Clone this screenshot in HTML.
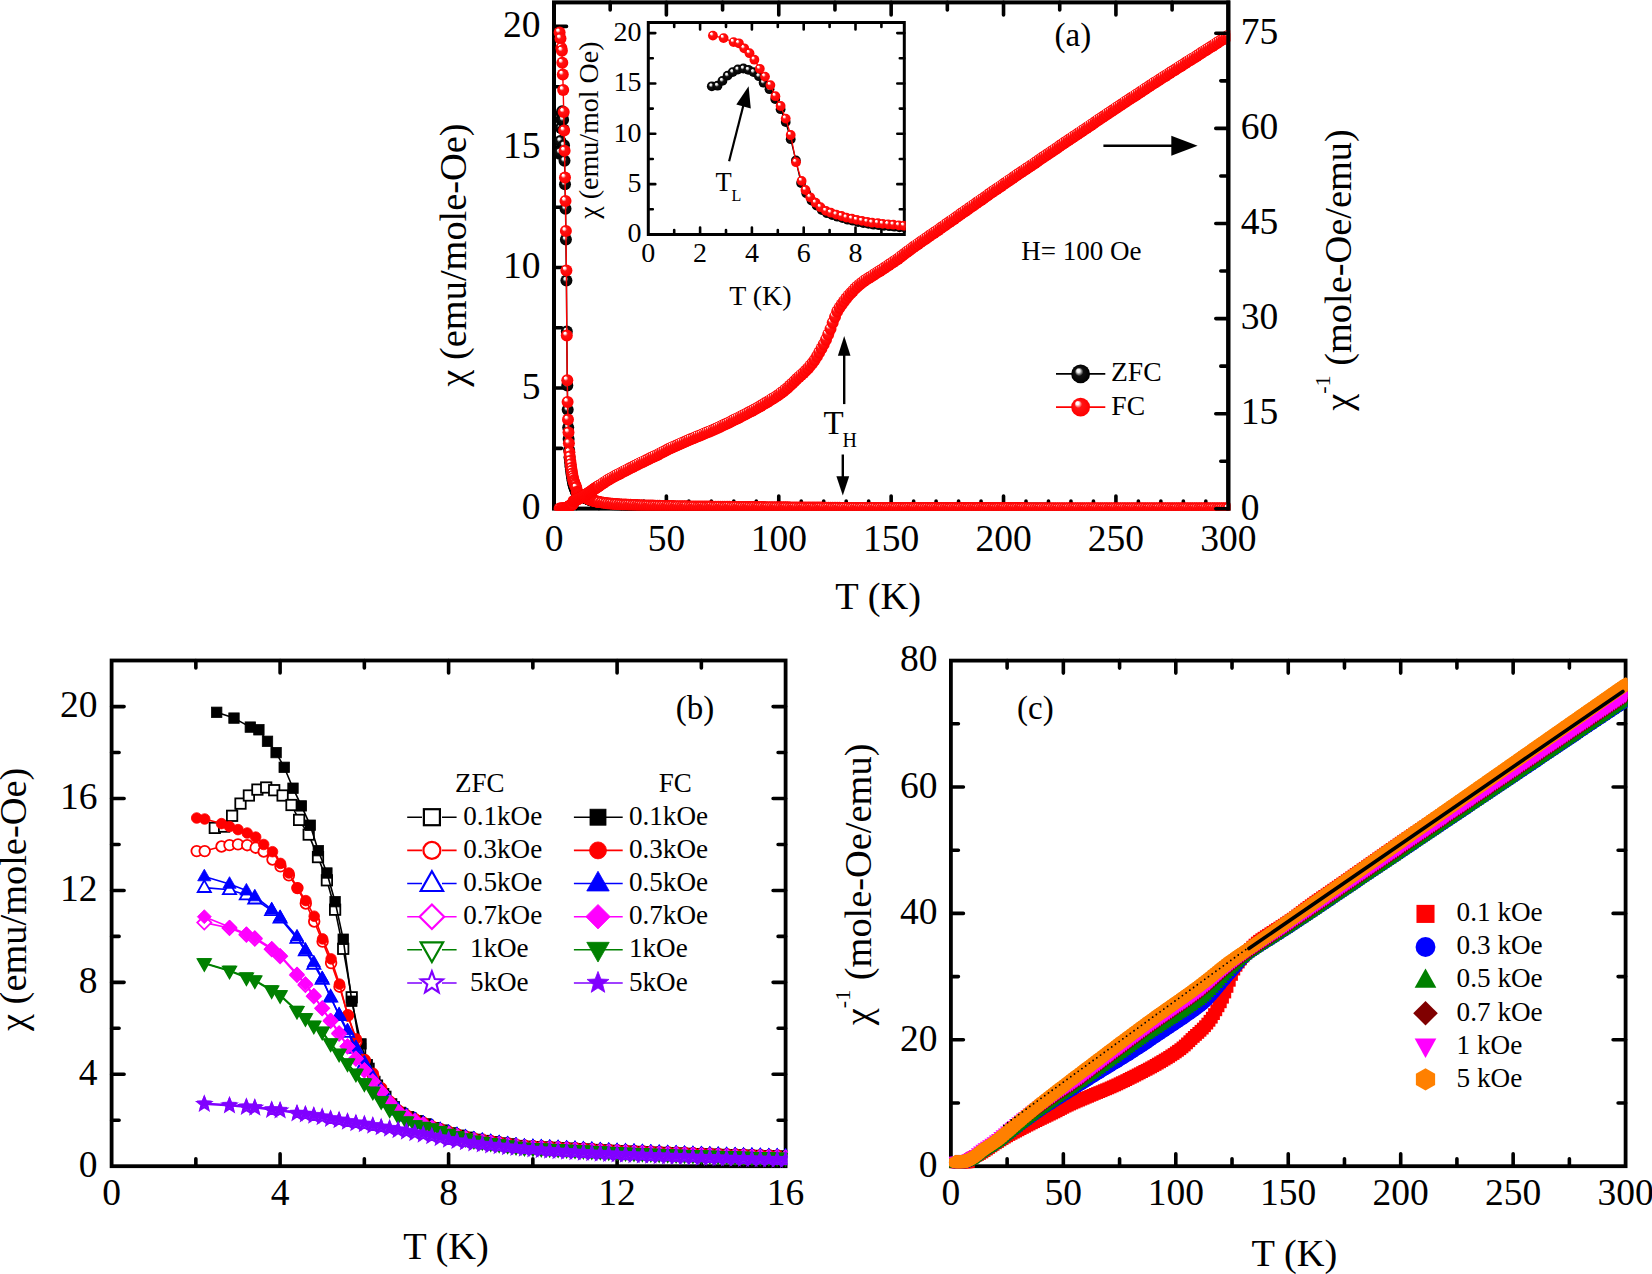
<!DOCTYPE html><html><head><meta charset="utf-8"><title>figure</title><style>html,body{margin:0;padding:0;background:#fff;}body{width:1652px;height:1274px;overflow:hidden;}</style></head><body><svg width="1652" height="1274" viewBox="0 0 1652 1274" style="display:block;font-family:'Liberation Serif','Times New Roman',serif"><defs><radialGradient id="gR" cx="0.5" cy="0.5" r="0.5" fx="0.3" fy="0.25"><stop offset="0" stop-color="#fff"/><stop offset="0.16" stop-color="#fff"/><stop offset="0.4" stop-color="#ff1414"/><stop offset="1" stop-color="#f00"/></radialGradient><radialGradient id="gD" cx="0.5" cy="0.5" r="0.5" fx="0.23" fy="0.19"><stop offset="0" stop-color="#fff"/><stop offset="0.15" stop-color="#fff"/><stop offset="0.42" stop-color="#ff1414"/><stop offset="1" stop-color="#f00"/></radialGradient><radialGradient id="gK" cx="0.5" cy="0.5" r="0.5" fx="0.36" fy="0.3"><stop offset="0" stop-color="#fff"/><stop offset="0.18" stop-color="#eee"/><stop offset="0.45" stop-color="#111"/><stop offset="1" stop-color="#000"/></radialGradient><circle id="sR" r="6.0" fill="url(#gR)"/><circle id="dR" r="6.0" fill="url(#gD)"/><circle id="sK" r="6.0" fill="url(#gK)"/><circle id="iR" r="4.9" fill="url(#gR)"/><circle id="iK" r="4.9" fill="url(#gK)"/><circle id="lR" r="9.4" fill="url(#gR)"/><circle id="lK" r="9.4" fill="url(#gK)"/><rect id="bS" x="-5.2" y="-5.2" width="10.4" height="10.4"/><circle id="bC" r="5.3"/><path id="bT" d="M0 -7.2L6.6 4.4L-6.6 4.4Z"/><path id="bD" d="M0 -7.0L7.0 0L0 7.0L-7.0 0Z"/><path id="bV" d="M0 7.2L6.6 -4.4L-6.6 -4.4Z"/><path id="bX" d="M0.00 -7.30L1.82 -2.51L6.94 -2.26L2.95 0.96L4.29 5.91L0.00 3.10L-4.29 5.91L-2.95 0.96L-6.94 -2.26L-1.82 -2.51Z"/><rect id="cS" x="-5.9" y="-5.9" width="11.8" height="11.8"/><circle id="cC" r="6.4"/><path id="cT" d="M0 -7.5L7.0 5L-7.0 5Z"/><path id="cD" d="M0 -7.6L7.6 0L0 7.6L-7.6 0Z"/><path id="cV" d="M0 7.5L7.0 -5L-7.0 -5Z"/><path id="cH" d="M0.00 -7.40L6.41 -3.70L6.41 3.70L0.00 7.40L-6.41 3.70L-6.41 -3.70Z"/><clipPath id="clA"><rect x="552.0" y="0.4" width="678.3" height="510.2"/></clipPath><clipPath id="clI"><rect x="646.8" y="21.0" width="259.0" height="215.0"/></clipPath><clipPath id="clB"><rect x="109.6" y="658.5" width="678.0" height="509.7"/></clipPath><clipPath id="clC"><rect x="948.9" y="658.6" width="678.7" height="509.6"/></clipPath></defs><rect width="100%" height="100%" fill="#fff"/><rect x="554.00" y="2.40" width="674.30" height="506.20" fill="none" stroke="#000" stroke-width="4.0" stroke-linejoin="miter"/><path d="M666.38 508.60v-12.5M778.77 508.60v-12.5M891.15 508.60v-12.5M1003.53 508.60v-12.5M1115.92 508.60v-12.5" stroke="#000" stroke-width="3.6" stroke-linecap="round" fill="none"/><path d="M576.48 508.60v-7.5M598.95 508.60v-7.5M621.43 508.60v-7.5M643.91 508.60v-7.5M688.86 508.60v-7.5M711.34 508.60v-7.5M733.81 508.60v-7.5M756.29 508.60v-7.5M801.24 508.60v-7.5M823.72 508.60v-7.5M846.20 508.60v-7.5M868.67 508.60v-7.5M913.63 508.60v-7.5M936.10 508.60v-7.5M958.58 508.60v-7.5M981.06 508.60v-7.5M1026.01 508.60v-7.5M1048.49 508.60v-7.5M1070.96 508.60v-7.5M1093.44 508.60v-7.5M1138.39 508.60v-7.5M1160.87 508.60v-7.5M1183.35 508.60v-7.5M1205.82 508.60v-7.5" stroke="#000" stroke-width="3.6" stroke-linecap="round" fill="none"/><path d="M666.38 2.40v12.5M778.77 2.40v12.5M891.15 2.40v12.5M1003.53 2.40v12.5M1115.92 2.40v12.5" stroke="#000" stroke-width="3.6" stroke-linecap="round" fill="none"/><path d="M610.19 2.40v7.5M722.58 2.40v7.5M834.96 2.40v7.5M947.34 2.40v7.5M1059.72 2.40v7.5M1172.11 2.40v7.5" stroke="#000" stroke-width="3.6" stroke-linecap="round" fill="none"/><path d="M554.00 388.05h12.5M554.00 267.50h12.5M554.00 146.95h12.5M554.00 26.40h12.5" stroke="#000" stroke-width="3.6" stroke-linecap="round" fill="none"/><path d="M554.00 448.33h7.5M554.00 327.78h7.5M554.00 207.23h7.5M554.00 86.68h7.5" stroke="#000" stroke-width="3.6" stroke-linecap="round" fill="none"/><g clip-path="url(#clA)"><polyline points="559.5,153.7 560.0,152.3 560.4,140.9 560.9,128.1 561.3,119.7 561.8,113.4 562.2,111.3 562.7,114.2 563.1,119.7 563.6,129.6 564.0,145.3 564.5,160.7 565.0,184.3 565.5,208.7 565.9,239.5 566.4,280.5 566.8,331.4 567.3,385.6 567.7,409.8 568.2,427.5 568.6,439.1 569.1,450.0 569.5,457.6 570.0,461.9 570.4,465.9 570.9,469.4 571.3,473.1 571.8,475.7 572.2,478.6 572.7,480.9 573.1,483.2 573.6,485.1 574.0,486.2 574.5,487.7 574.9,488.8 575.4,489.8 575.8,491.4 576.3,492.0 576.7,492.4 577.4,493.0 578.1,493.5 578.7,494.0 579.4,494.5 580.1,494.9 580.7,495.3 581.4,495.7 582.1,496.1 582.8,496.5 583.4,496.9 584.1,497.3 584.8,497.6 585.5,498.0 586.1,498.3 586.8,498.6 587.5,498.9 588.2,499.2 588.8,499.5 589.5,499.8 590.2,500.0 590.9,500.3 591.5,500.5 592.2,500.7 592.9,500.9 593.6,501.1 594.2,501.3 594.9,501.5 595.6,501.7 596.3,501.9 596.9,502.0 597.6,502.1 598.3,502.3 599.0,502.4 601.2,502.8 603.4,503.2 605.7,503.5 607.9,503.8 610.2,504.0 612.4,504.2 614.7,504.4 616.9,504.5 619.2,504.7 621.4,504.8 623.7,505.0 625.9,505.1 628.2,505.2 630.4,505.3 632.7,505.4 634.9,505.5 637.2,505.6 639.4,505.7 641.7,505.8 643.9,505.9 646.2,505.9 648.4,506.0 650.6,506.1 652.9,506.1 655.1,506.2 657.4,506.2 659.6,506.3 661.9,506.4 664.1,506.4 666.4,506.5 668.6,506.5 670.9,506.6 673.1,506.6 675.4,506.7 677.6,506.7 679.9,506.7 682.1,506.8 684.4,506.8 686.6,506.8 688.9,506.9 691.1,506.9 693.4,506.9 695.6,506.9 697.9,507.0 700.1,507.0 702.3,507.0 704.6,507.1 706.8,507.1 709.1,507.1 711.3,507.1 713.6,507.1 715.8,507.2 718.1,507.2 720.3,507.2 722.6,507.2 724.8,507.3 727.1,507.3 729.3,507.3 731.6,507.3 733.8,507.4 736.1,507.4 738.3,507.4 740.6,507.4 742.8,507.4 745.1,507.5 747.3,507.5 749.5,507.5 751.8,507.5 754.0,507.5 756.3,507.6 758.5,507.6 760.8,507.6 763.0,507.6 765.3,507.6 767.5,507.7 769.8,507.7 772.0,507.7 774.3,507.7 776.5,507.7 778.8,507.7 781.0,507.8 783.3,507.8 785.5,507.8 787.8,507.8 790.0,507.8 792.3,507.9 794.5,507.9 796.7,507.9 799.0,507.9 801.2,507.9 803.5,508.0 805.7,508.0 808.0,508.0 810.2,508.0 812.5,508.0 814.7,508.1 817.0,508.1 819.2,508.1 821.5,508.1 823.7,508.2 826.0,508.2 828.2,508.2 830.5,508.2 832.7,508.3 835.0,508.3 837.2,508.3 839.5,508.3 841.7,508.3 843.9,508.3 846.2,508.4 848.4,508.4 850.7,508.4 852.9,508.4 855.2,508.4 857.4,508.4 859.7,508.4 861.9,508.4 864.2,508.4 866.4,508.4 868.7,508.4 870.9,508.4 873.2,508.4 875.4,508.4 877.7,508.4 879.9,508.4 882.2,508.4 884.4,508.4 886.7,508.5 888.9,508.5 891.1,508.5 893.4,508.5 895.6,508.5 897.9,508.5 900.1,508.5 902.4,508.5 904.6,508.5 906.9,508.5 909.1,508.5 911.4,508.5 913.6,508.5 915.9,508.5 918.1,508.5 920.4,508.5 922.6,508.5 924.9,508.5 927.1,508.5 929.4,508.5 931.6,508.5 933.9,508.5 936.1,508.5 938.4,508.5 940.6,508.5 942.8,508.5 945.1,508.5 947.3,508.5 949.6,508.5 951.8,508.6 954.1,508.6 956.3,508.6 958.6,508.6 960.8,508.6 963.1,508.6 965.3,508.6 967.6,508.6 969.8,508.6 972.1,508.6 974.3,508.6 976.6,508.6 978.8,508.6 981.1,508.6 983.3,508.6 985.6,508.6 987.8,508.6 990.0,508.6 992.3,508.6 994.5,508.6 996.8,508.6 999.0,508.6 1001.3,508.6 1003.5,508.6 1005.8,508.6 1008.0,508.6 1010.3,508.6 1012.5,508.6 1014.8,508.6 1017.0,508.6 1019.3,508.6 1021.5,508.6 1023.8,508.6 1026.0,508.6 1028.3,508.6 1030.5,508.6 1032.8,508.6 1035.0,508.6 1037.2,508.6 1039.5,508.6 1041.7,508.6 1044.0,508.6 1046.2,508.6 1048.5,508.7 1050.7,508.7 1053.0,508.7 1055.2,508.7 1057.5,508.7 1059.7,508.7 1062.0,508.7 1064.2,508.7 1066.5,508.7 1068.7,508.7 1071.0,508.7 1073.2,508.7 1075.5,508.7 1077.7,508.7 1080.0,508.7 1082.2,508.7 1084.4,508.7 1086.7,508.7 1088.9,508.7 1091.2,508.7 1093.4,508.7 1095.7,508.7 1097.9,508.7 1100.2,508.7 1102.4,508.7 1104.7,508.7 1106.9,508.7 1109.2,508.7 1111.4,508.7 1113.7,508.7 1115.9,508.7 1118.2,508.7 1120.4,508.7 1122.7,508.7 1124.9,508.7 1127.2,508.7 1129.4,508.7 1131.7,508.7 1133.9,508.7 1136.1,508.7 1138.4,508.7 1140.6,508.7 1142.9,508.7 1145.1,508.7 1147.4,508.7 1149.6,508.7 1151.9,508.7 1154.1,508.7 1156.4,508.7 1158.6,508.7 1160.9,508.7 1163.1,508.7 1165.4,508.7 1167.6,508.7 1169.9,508.7 1172.1,508.7 1174.4,508.7 1176.6,508.7 1178.9,508.7 1181.1,508.7 1183.3,508.7 1185.6,508.7 1187.8,508.7 1190.1,508.7 1192.3,508.7 1194.6,508.7 1196.8,508.7 1199.1,508.7 1201.3,508.7 1203.6,508.7 1205.8,508.7 1208.1,508.7 1210.3,508.8 1212.6,508.8 1214.8,508.8 1217.1,508.8 1219.3,508.8 1221.6,508.8 1223.8,508.8 1226.1,508.8 1228.3,508.8" fill="none" stroke="#000" stroke-width="1.4" stroke-linejoin="round"/><use href="#sK" x="559.5" y="153.7"/><use href="#sK" x="560.0" y="152.3"/><use href="#sK" x="560.4" y="140.9"/><use href="#sK" x="560.9" y="128.1"/><use href="#sK" x="561.3" y="119.7"/><use href="#sK" x="561.8" y="113.4"/><use href="#sK" x="562.2" y="111.3"/><use href="#sK" x="562.7" y="114.2"/><use href="#sK" x="563.1" y="119.7"/><use href="#sK" x="563.6" y="129.6"/><use href="#sK" x="564.0" y="145.3"/><use href="#sK" x="564.5" y="160.7"/><use href="#sK" x="565.0" y="184.3"/><use href="#sK" x="565.5" y="208.7"/><use href="#sK" x="565.9" y="239.5"/><use href="#sK" x="566.4" y="280.5"/><use href="#sK" x="566.8" y="331.4"/><use href="#sK" x="567.3" y="385.6"/><use href="#sK" x="567.7" y="409.8"/><use href="#sK" x="568.2" y="427.5"/><use href="#sK" x="568.6" y="439.1"/><use href="#sK" x="569.1" y="450.0"/><use href="#sK" x="569.5" y="457.6"/><use href="#sK" x="570.0" y="461.9"/><use href="#sK" x="570.4" y="465.9"/><use href="#sK" x="570.9" y="469.4"/><use href="#sK" x="571.3" y="473.1"/><use href="#sK" x="571.8" y="475.7"/><use href="#sK" x="572.2" y="478.6"/><use href="#sK" x="572.7" y="480.9"/><use href="#sK" x="573.1" y="483.2"/><use href="#sK" x="573.6" y="485.1"/><use href="#sK" x="574.0" y="486.2"/><use href="#sK" x="574.5" y="487.7"/><use href="#sK" x="574.9" y="488.8"/><use href="#sK" x="575.4" y="489.8"/><use href="#sK" x="575.8" y="491.4"/><use href="#sK" x="576.3" y="492.0"/><use href="#sK" x="576.7" y="492.4"/><use href="#sK" x="577.4" y="493.0"/><use href="#sK" x="578.1" y="493.5"/><use href="#sK" x="578.7" y="494.0"/><use href="#sK" x="579.4" y="494.5"/><use href="#sK" x="580.1" y="494.9"/><use href="#sK" x="580.7" y="495.3"/><use href="#sK" x="581.4" y="495.7"/><use href="#sK" x="582.1" y="496.1"/><use href="#sK" x="582.8" y="496.5"/><use href="#sK" x="583.4" y="496.9"/><use href="#sK" x="584.1" y="497.3"/><use href="#sK" x="584.8" y="497.6"/><use href="#sK" x="585.5" y="498.0"/><use href="#sK" x="586.1" y="498.3"/><use href="#sK" x="586.8" y="498.6"/><use href="#sK" x="587.5" y="498.9"/><use href="#sK" x="588.2" y="499.2"/><use href="#sK" x="588.8" y="499.5"/><use href="#sK" x="589.5" y="499.8"/><use href="#sK" x="590.2" y="500.0"/><use href="#sK" x="590.9" y="500.3"/><use href="#sK" x="591.5" y="500.5"/><use href="#sK" x="592.2" y="500.7"/><use href="#sK" x="592.9" y="500.9"/><use href="#sK" x="593.6" y="501.1"/><use href="#sK" x="594.2" y="501.3"/><use href="#sK" x="594.9" y="501.5"/><use href="#sK" x="595.6" y="501.7"/><use href="#sK" x="596.3" y="501.9"/><use href="#sK" x="596.9" y="502.0"/><use href="#sK" x="597.6" y="502.1"/><use href="#sK" x="598.3" y="502.3"/><use href="#sK" x="599.0" y="502.4"/><use href="#sK" x="601.2" y="502.8"/><use href="#sK" x="603.4" y="503.2"/><use href="#sK" x="605.7" y="503.5"/><use href="#sK" x="607.9" y="503.8"/><use href="#sK" x="610.2" y="504.0"/><use href="#sK" x="612.4" y="504.2"/><use href="#sK" x="614.7" y="504.4"/><use href="#sK" x="616.9" y="504.5"/><use href="#sK" x="619.2" y="504.7"/><use href="#sK" x="621.4" y="504.8"/><use href="#sK" x="623.7" y="505.0"/><use href="#sK" x="625.9" y="505.1"/><use href="#sK" x="628.2" y="505.2"/><use href="#sK" x="630.4" y="505.3"/><use href="#sK" x="632.7" y="505.4"/><use href="#sK" x="634.9" y="505.5"/><use href="#sK" x="637.2" y="505.6"/><use href="#sK" x="639.4" y="505.7"/><use href="#sK" x="641.7" y="505.8"/><use href="#sK" x="643.9" y="505.9"/><use href="#sK" x="646.2" y="505.9"/><use href="#sK" x="648.4" y="506.0"/><use href="#sK" x="650.6" y="506.1"/><use href="#sK" x="652.9" y="506.1"/><use href="#sK" x="655.1" y="506.2"/><use href="#sK" x="657.4" y="506.2"/><use href="#sK" x="659.6" y="506.3"/><use href="#sK" x="661.9" y="506.4"/><use href="#sK" x="664.1" y="506.4"/><use href="#sK" x="666.4" y="506.5"/><use href="#sK" x="668.6" y="506.5"/><use href="#sK" x="670.9" y="506.6"/><use href="#sK" x="673.1" y="506.6"/><use href="#sK" x="675.4" y="506.7"/><use href="#sK" x="677.6" y="506.7"/><use href="#sK" x="679.9" y="506.7"/><use href="#sK" x="682.1" y="506.8"/><use href="#sK" x="684.4" y="506.8"/><use href="#sK" x="686.6" y="506.8"/><use href="#sK" x="688.9" y="506.9"/><use href="#sK" x="691.1" y="506.9"/><use href="#sK" x="693.4" y="506.9"/><use href="#sK" x="695.6" y="506.9"/><use href="#sK" x="697.9" y="507.0"/><use href="#sK" x="700.1" y="507.0"/><use href="#sK" x="702.3" y="507.0"/><use href="#sK" x="704.6" y="507.1"/><use href="#sK" x="706.8" y="507.1"/><use href="#sK" x="709.1" y="507.1"/><use href="#sK" x="711.3" y="507.1"/><use href="#sK" x="713.6" y="507.1"/><use href="#sK" x="715.8" y="507.2"/><use href="#sK" x="718.1" y="507.2"/><use href="#sK" x="720.3" y="507.2"/><use href="#sK" x="722.6" y="507.2"/><use href="#sK" x="724.8" y="507.3"/><use href="#sK" x="727.1" y="507.3"/><use href="#sK" x="729.3" y="507.3"/><use href="#sK" x="731.6" y="507.3"/><use href="#sK" x="733.8" y="507.4"/><use href="#sK" x="736.1" y="507.4"/><use href="#sK" x="738.3" y="507.4"/><use href="#sK" x="740.6" y="507.4"/><use href="#sK" x="742.8" y="507.4"/><use href="#sK" x="745.1" y="507.5"/><use href="#sK" x="747.3" y="507.5"/><use href="#sK" x="749.5" y="507.5"/><use href="#sK" x="751.8" y="507.5"/><use href="#sK" x="754.0" y="507.5"/><use href="#sK" x="756.3" y="507.6"/><use href="#sK" x="758.5" y="507.6"/><use href="#sK" x="760.8" y="507.6"/><use href="#sK" x="763.0" y="507.6"/><use href="#sK" x="765.3" y="507.6"/><use href="#sK" x="767.5" y="507.7"/><use href="#sK" x="769.8" y="507.7"/><use href="#sK" x="772.0" y="507.7"/><use href="#sK" x="774.3" y="507.7"/><use href="#sK" x="776.5" y="507.7"/><use href="#sK" x="778.8" y="507.7"/><use href="#sK" x="781.0" y="507.8"/><use href="#sK" x="783.3" y="507.8"/><use href="#sK" x="785.5" y="507.8"/><use href="#sK" x="787.8" y="507.8"/><use href="#sK" x="790.0" y="507.8"/><use href="#sK" x="792.3" y="507.9"/><use href="#sK" x="794.5" y="507.9"/><use href="#sK" x="796.7" y="507.9"/><use href="#sK" x="799.0" y="507.9"/><use href="#sK" x="801.2" y="507.9"/><use href="#sK" x="803.5" y="508.0"/><use href="#sK" x="805.7" y="508.0"/><use href="#sK" x="808.0" y="508.0"/><use href="#sK" x="810.2" y="508.0"/><use href="#sK" x="812.5" y="508.0"/><use href="#sK" x="814.7" y="508.1"/><use href="#sK" x="817.0" y="508.1"/><use href="#sK" x="819.2" y="508.1"/><use href="#sK" x="821.5" y="508.1"/><use href="#sK" x="823.7" y="508.2"/><use href="#sK" x="826.0" y="508.2"/><use href="#sK" x="828.2" y="508.2"/><use href="#sK" x="830.5" y="508.2"/><use href="#sK" x="832.7" y="508.3"/><use href="#sK" x="835.0" y="508.3"/><use href="#sK" x="837.2" y="508.3"/><use href="#sK" x="839.5" y="508.3"/><use href="#sK" x="841.7" y="508.3"/><use href="#sK" x="843.9" y="508.3"/><use href="#sK" x="846.2" y="508.4"/><use href="#sK" x="848.4" y="508.4"/><use href="#sK" x="850.7" y="508.4"/><use href="#sK" x="852.9" y="508.4"/><use href="#sK" x="855.2" y="508.4"/><use href="#sK" x="857.4" y="508.4"/><use href="#sK" x="859.7" y="508.4"/><use href="#sK" x="861.9" y="508.4"/><use href="#sK" x="864.2" y="508.4"/><use href="#sK" x="866.4" y="508.4"/><use href="#sK" x="868.7" y="508.4"/><use href="#sK" x="870.9" y="508.4"/><use href="#sK" x="873.2" y="508.4"/><use href="#sK" x="875.4" y="508.4"/><use href="#sK" x="877.7" y="508.4"/><use href="#sK" x="879.9" y="508.4"/><use href="#sK" x="882.2" y="508.4"/><use href="#sK" x="884.4" y="508.4"/><use href="#sK" x="886.7" y="508.5"/><use href="#sK" x="888.9" y="508.5"/><use href="#sK" x="891.1" y="508.5"/><use href="#sK" x="893.4" y="508.5"/><use href="#sK" x="895.6" y="508.5"/><use href="#sK" x="897.9" y="508.5"/><use href="#sK" x="900.1" y="508.5"/><use href="#sK" x="902.4" y="508.5"/><use href="#sK" x="904.6" y="508.5"/><use href="#sK" x="906.9" y="508.5"/><use href="#sK" x="909.1" y="508.5"/><use href="#sK" x="911.4" y="508.5"/><use href="#sK" x="913.6" y="508.5"/><use href="#sK" x="915.9" y="508.5"/><use href="#sK" x="918.1" y="508.5"/><use href="#sK" x="920.4" y="508.5"/><use href="#sK" x="922.6" y="508.5"/><use href="#sK" x="924.9" y="508.5"/><use href="#sK" x="927.1" y="508.5"/><use href="#sK" x="929.4" y="508.5"/><use href="#sK" x="931.6" y="508.5"/><use href="#sK" x="933.9" y="508.5"/><use href="#sK" x="936.1" y="508.5"/><use href="#sK" x="938.4" y="508.5"/><use href="#sK" x="940.6" y="508.5"/><use href="#sK" x="942.8" y="508.5"/><use href="#sK" x="945.1" y="508.5"/><use href="#sK" x="947.3" y="508.5"/><use href="#sK" x="949.6" y="508.5"/><use href="#sK" x="951.8" y="508.6"/><use href="#sK" x="954.1" y="508.6"/><use href="#sK" x="956.3" y="508.6"/><use href="#sK" x="958.6" y="508.6"/><use href="#sK" x="960.8" y="508.6"/><use href="#sK" x="963.1" y="508.6"/><use href="#sK" x="965.3" y="508.6"/><use href="#sK" x="967.6" y="508.6"/><use href="#sK" x="969.8" y="508.6"/><use href="#sK" x="972.1" y="508.6"/><use href="#sK" x="974.3" y="508.6"/><use href="#sK" x="976.6" y="508.6"/><use href="#sK" x="978.8" y="508.6"/><use href="#sK" x="981.1" y="508.6"/><use href="#sK" x="983.3" y="508.6"/><use href="#sK" x="985.6" y="508.6"/><use href="#sK" x="987.8" y="508.6"/><use href="#sK" x="990.0" y="508.6"/><use href="#sK" x="992.3" y="508.6"/><use href="#sK" x="994.5" y="508.6"/><use href="#sK" x="996.8" y="508.6"/><use href="#sK" x="999.0" y="508.6"/><use href="#sK" x="1001.3" y="508.6"/><use href="#sK" x="1003.5" y="508.6"/><use href="#sK" x="1005.8" y="508.6"/><use href="#sK" x="1008.0" y="508.6"/><use href="#sK" x="1010.3" y="508.6"/><use href="#sK" x="1012.5" y="508.6"/><use href="#sK" x="1014.8" y="508.6"/><use href="#sK" x="1017.0" y="508.6"/><use href="#sK" x="1019.3" y="508.6"/><use href="#sK" x="1021.5" y="508.6"/><use href="#sK" x="1023.8" y="508.6"/><use href="#sK" x="1026.0" y="508.6"/><use href="#sK" x="1028.3" y="508.6"/><use href="#sK" x="1030.5" y="508.6"/><use href="#sK" x="1032.8" y="508.6"/><use href="#sK" x="1035.0" y="508.6"/><use href="#sK" x="1037.2" y="508.6"/><use href="#sK" x="1039.5" y="508.6"/><use href="#sK" x="1041.7" y="508.6"/><use href="#sK" x="1044.0" y="508.6"/><use href="#sK" x="1046.2" y="508.6"/><use href="#sK" x="1048.5" y="508.7"/><use href="#sK" x="1050.7" y="508.7"/><use href="#sK" x="1053.0" y="508.7"/><use href="#sK" x="1055.2" y="508.7"/><use href="#sK" x="1057.5" y="508.7"/><use href="#sK" x="1059.7" y="508.7"/><use href="#sK" x="1062.0" y="508.7"/><use href="#sK" x="1064.2" y="508.7"/><use href="#sK" x="1066.5" y="508.7"/><use href="#sK" x="1068.7" y="508.7"/><use href="#sK" x="1071.0" y="508.7"/><use href="#sK" x="1073.2" y="508.7"/><use href="#sK" x="1075.5" y="508.7"/><use href="#sK" x="1077.7" y="508.7"/><use href="#sK" x="1080.0" y="508.7"/><use href="#sK" x="1082.2" y="508.7"/><use href="#sK" x="1084.4" y="508.7"/><use href="#sK" x="1086.7" y="508.7"/><use href="#sK" x="1088.9" y="508.7"/><use href="#sK" x="1091.2" y="508.7"/><use href="#sK" x="1093.4" y="508.7"/><use href="#sK" x="1095.7" y="508.7"/><use href="#sK" x="1097.9" y="508.7"/><use href="#sK" x="1100.2" y="508.7"/><use href="#sK" x="1102.4" y="508.7"/><use href="#sK" x="1104.7" y="508.7"/><use href="#sK" x="1106.9" y="508.7"/><use href="#sK" x="1109.2" y="508.7"/><use href="#sK" x="1111.4" y="508.7"/><use href="#sK" x="1113.7" y="508.7"/><use href="#sK" x="1115.9" y="508.7"/><use href="#sK" x="1118.2" y="508.7"/><use href="#sK" x="1120.4" y="508.7"/><use href="#sK" x="1122.7" y="508.7"/><use href="#sK" x="1124.9" y="508.7"/><use href="#sK" x="1127.2" y="508.7"/><use href="#sK" x="1129.4" y="508.7"/><use href="#sK" x="1131.7" y="508.7"/><use href="#sK" x="1133.9" y="508.7"/><use href="#sK" x="1136.1" y="508.7"/><use href="#sK" x="1138.4" y="508.7"/><use href="#sK" x="1140.6" y="508.7"/><use href="#sK" x="1142.9" y="508.7"/><use href="#sK" x="1145.1" y="508.7"/><use href="#sK" x="1147.4" y="508.7"/><use href="#sK" x="1149.6" y="508.7"/><use href="#sK" x="1151.9" y="508.7"/><use href="#sK" x="1154.1" y="508.7"/><use href="#sK" x="1156.4" y="508.7"/><use href="#sK" x="1158.6" y="508.7"/><use href="#sK" x="1160.9" y="508.7"/><use href="#sK" x="1163.1" y="508.7"/><use href="#sK" x="1165.4" y="508.7"/><use href="#sK" x="1167.6" y="508.7"/><use href="#sK" x="1169.9" y="508.7"/><use href="#sK" x="1172.1" y="508.7"/><use href="#sK" x="1174.4" y="508.7"/><use href="#sK" x="1176.6" y="508.7"/><use href="#sK" x="1178.9" y="508.7"/><use href="#sK" x="1181.1" y="508.7"/><use href="#sK" x="1183.3" y="508.7"/><use href="#sK" x="1185.6" y="508.7"/><use href="#sK" x="1187.8" y="508.7"/><use href="#sK" x="1190.1" y="508.7"/><use href="#sK" x="1192.3" y="508.7"/><use href="#sK" x="1194.6" y="508.7"/><use href="#sK" x="1196.8" y="508.7"/><use href="#sK" x="1199.1" y="508.7"/><use href="#sK" x="1201.3" y="508.7"/><use href="#sK" x="1203.6" y="508.7"/><use href="#sK" x="1205.8" y="508.7"/><use href="#sK" x="1208.1" y="508.7"/><use href="#sK" x="1210.3" y="508.8"/><use href="#sK" x="1212.6" y="508.8"/><use href="#sK" x="1214.8" y="508.8"/><use href="#sK" x="1217.1" y="508.8"/><use href="#sK" x="1219.3" y="508.8"/><use href="#sK" x="1221.6" y="508.8"/><use href="#sK" x="1223.8" y="508.8"/><use href="#sK" x="1226.1" y="508.8"/><use href="#sK" x="1228.3" y="508.8"/><polyline points="559.6,32.4 560.5,38.5 561.4,47.9 561.9,50.8 562.3,62.8 562.8,74.6 563.2,90.1 563.7,112.0 564.1,130.6 564.6,150.8 565.0,177.6 565.5,201.0 565.9,231.1 566.4,270.4 566.8,335.5 567.3,380.3 567.6,402.0 568.0,419.6 568.5,432.4 568.9,443.3 569.4,452.2 569.8,456.5 570.3,460.9 570.8,464.2 571.2,468.1 571.7,470.7 572.1,473.6 572.5,476.1 573.0,478.2 573.4,480.4 573.9,481.6 574.3,483.0 574.8,484.2 575.3,485.2 575.7,486.9 576.2,487.6 576.7,492.0 577.4,492.5 578.1,493.1 578.7,493.6 579.4,494.0 580.1,494.4 580.7,494.9 581.4,495.3 582.1,495.6 582.8,496.0 583.4,496.4 584.1,496.8 584.8,497.1 585.5,497.5 586.1,497.8 586.8,498.1 587.5,498.4 588.2,498.7 588.8,499.0 589.5,499.3 590.2,499.6 590.9,499.8 591.5,500.0 592.2,500.3 592.9,500.5 593.6,500.7 594.2,500.9 594.9,501.0 595.6,501.2 596.3,501.4 596.9,501.5 597.6,501.7 598.3,501.8 599.0,501.9 601.2,502.3 603.4,502.7 605.7,503.0 607.9,503.3 610.2,503.5 612.4,503.7 614.7,503.9 616.9,504.1 619.2,504.2 621.4,504.4 623.7,504.5 625.9,504.6 628.2,504.7 630.4,504.8 632.7,504.9 634.9,505.0 637.2,505.1 639.4,505.2 641.7,505.3 643.9,505.4 646.2,505.4 648.4,505.5 650.6,505.6 652.9,505.6 655.1,505.7 657.4,505.8 659.6,505.8 661.9,505.9 664.1,505.9 666.4,506.0 668.6,506.0 670.9,506.1 673.1,506.1 675.4,506.2 677.6,506.2 679.9,506.2 682.1,506.3 684.4,506.3 686.6,506.3 688.9,506.4 691.1,506.4 693.4,506.4 695.6,506.5 697.9,506.5 700.1,506.5 702.3,506.5 704.6,506.6 706.8,506.6 709.1,506.6 711.3,506.6 713.6,506.7 715.8,506.7 718.1,506.7 720.3,506.7 722.6,506.8 724.8,506.8 727.1,506.8 729.3,506.8 731.6,506.9 733.8,506.9 736.1,506.9 738.3,506.9 740.6,506.9 742.8,507.0 745.1,507.0 747.3,507.0 749.5,507.0 751.8,507.0 754.0,507.1 756.3,507.1 758.5,507.1 760.8,507.1 763.0,507.1 765.3,507.2 767.5,507.2 769.8,507.2 772.0,507.2 774.3,507.2 776.5,507.2 778.8,507.3 781.0,507.3 783.3,507.3 785.5,507.3 787.8,507.3 790.0,507.4 792.3,507.4 794.5,507.4 796.7,507.4 799.0,507.4 801.2,507.5 803.5,507.5 805.7,507.5 808.0,507.5 810.2,507.5 812.5,507.6 814.7,507.6 817.0,507.6 819.2,507.6 821.5,507.6 823.7,507.7 826.0,507.7 828.2,507.7 830.5,507.8 832.7,507.8 835.0,507.8 837.2,507.8 839.5,507.8 841.7,507.9 843.9,507.9 846.2,507.9 848.4,507.9 850.7,507.9 852.9,507.9 855.2,507.9 857.4,507.9 859.7,507.9 861.9,507.9 864.2,507.9 866.4,507.9 868.7,507.9 870.9,507.9 873.2,507.9 875.4,507.9 877.7,508.0 879.9,508.0 882.2,508.0 884.4,508.0 886.7,508.0 888.9,508.0 891.1,508.0 893.4,508.0 895.6,508.0 897.9,508.0 900.1,508.0 902.4,508.0 904.6,508.0 906.9,508.0 909.1,508.0 911.4,508.0 913.6,508.0 915.9,508.0 918.1,508.0 920.4,508.0 922.6,508.0 924.9,508.0 927.1,508.0 929.4,508.0 931.6,508.0 933.9,508.0 936.1,508.0 938.4,508.1 940.6,508.1 942.8,508.1 945.1,508.1 947.3,508.1 949.6,508.1 951.8,508.1 954.1,508.1 956.3,508.1 958.6,508.1 960.8,508.1 963.1,508.1 965.3,508.1 967.6,508.1 969.8,508.1 972.1,508.1 974.3,508.1 976.6,508.1 978.8,508.1 981.1,508.1 983.3,508.1 985.6,508.1 987.8,508.1 990.0,508.1 992.3,508.1 994.5,508.1 996.8,508.1 999.0,508.1 1001.3,508.1 1003.5,508.1 1005.8,508.1 1008.0,508.1 1010.3,508.1 1012.5,508.1 1014.8,508.1 1017.0,508.1 1019.3,508.1 1021.5,508.1 1023.8,508.1 1026.0,508.2 1028.3,508.2 1030.5,508.2 1032.8,508.2 1035.0,508.2 1037.2,508.2 1039.5,508.2 1041.7,508.2 1044.0,508.2 1046.2,508.2 1048.5,508.2 1050.7,508.2 1053.0,508.2 1055.2,508.2 1057.5,508.2 1059.7,508.2 1062.0,508.2 1064.2,508.2 1066.5,508.2 1068.7,508.2 1071.0,508.2 1073.2,508.2 1075.5,508.2 1077.7,508.2 1080.0,508.2 1082.2,508.2 1084.4,508.2 1086.7,508.2 1088.9,508.2 1091.2,508.2 1093.4,508.2 1095.7,508.2 1097.9,508.2 1100.2,508.2 1102.4,508.2 1104.7,508.2 1106.9,508.2 1109.2,508.2 1111.4,508.2 1113.7,508.2 1115.9,508.2 1118.2,508.2 1120.4,508.2 1122.7,508.2 1124.9,508.2 1127.2,508.2 1129.4,508.2 1131.7,508.2 1133.9,508.2 1136.1,508.2 1138.4,508.2 1140.6,508.2 1142.9,508.2 1145.1,508.2 1147.4,508.2 1149.6,508.2 1151.9,508.2 1154.1,508.2 1156.4,508.2 1158.6,508.2 1160.9,508.2 1163.1,508.2 1165.4,508.2 1167.6,508.2 1169.9,508.2 1172.1,508.3 1174.4,508.3 1176.6,508.3 1178.9,508.3 1181.1,508.3 1183.3,508.3 1185.6,508.3 1187.8,508.3 1190.1,508.3 1192.3,508.3 1194.6,508.3 1196.8,508.3 1199.1,508.3 1201.3,508.3 1203.6,508.3 1205.8,508.3 1208.1,508.3 1210.3,508.3 1212.6,508.3 1214.8,508.3 1217.1,508.3 1219.3,508.3 1221.6,508.3 1223.8,508.3 1226.1,508.3 1228.3,508.3" fill="none" stroke="#f00" stroke-width="1.4" stroke-linejoin="round"/><use href="#sR" x="559.6" y="32.4"/><use href="#sR" x="560.5" y="38.5"/><use href="#sR" x="561.4" y="47.9"/><use href="#sR" x="561.9" y="50.8"/><use href="#sR" x="562.3" y="62.8"/><use href="#sR" x="562.8" y="74.6"/><use href="#sR" x="563.2" y="90.1"/><use href="#sR" x="563.7" y="112.0"/><use href="#sR" x="564.1" y="130.6"/><use href="#sR" x="564.6" y="150.8"/><use href="#sR" x="565.0" y="177.6"/><use href="#sR" x="565.5" y="201.0"/><use href="#sR" x="565.9" y="231.1"/><use href="#sR" x="566.4" y="270.4"/><use href="#sR" x="566.8" y="335.5"/><use href="#sR" x="567.3" y="380.3"/><use href="#sR" x="567.6" y="402.0"/><use href="#sR" x="568.0" y="419.6"/><use href="#sR" x="568.5" y="432.4"/><use href="#sR" x="568.9" y="443.3"/><use href="#sR" x="569.4" y="452.2"/><use href="#sR" x="569.8" y="456.5"/><use href="#sR" x="570.3" y="460.9"/><use href="#sR" x="570.8" y="464.2"/><use href="#sR" x="571.2" y="468.1"/><use href="#sR" x="571.7" y="470.7"/><use href="#sR" x="572.1" y="473.6"/><use href="#sR" x="572.5" y="476.1"/><use href="#sR" x="573.0" y="478.2"/><use href="#sR" x="573.4" y="480.4"/><use href="#sR" x="573.9" y="481.6"/><use href="#sR" x="574.3" y="483.0"/><use href="#sR" x="574.8" y="484.2"/><use href="#sR" x="575.3" y="485.2"/><use href="#sR" x="575.7" y="486.9"/><use href="#sR" x="576.2" y="487.6"/><use href="#sR" x="576.7" y="492.0"/><use href="#sR" x="577.4" y="492.5"/><use href="#sR" x="578.1" y="493.1"/><use href="#sR" x="578.7" y="493.6"/><use href="#sR" x="579.4" y="494.0"/><use href="#sR" x="580.1" y="494.4"/><use href="#sR" x="580.7" y="494.9"/><use href="#sR" x="581.4" y="495.3"/><use href="#sR" x="582.1" y="495.6"/><use href="#sR" x="582.8" y="496.0"/><use href="#sR" x="583.4" y="496.4"/><use href="#sR" x="584.1" y="496.8"/><use href="#sR" x="584.8" y="497.1"/><use href="#sR" x="585.5" y="497.5"/><use href="#sR" x="586.1" y="497.8"/><use href="#sR" x="586.8" y="498.1"/><use href="#sR" x="587.5" y="498.4"/><use href="#sR" x="588.2" y="498.7"/><use href="#sR" x="588.8" y="499.0"/><use href="#sR" x="589.5" y="499.3"/><use href="#sR" x="590.2" y="499.6"/><use href="#sR" x="590.9" y="499.8"/><use href="#sR" x="591.5" y="500.0"/><use href="#sR" x="592.2" y="500.3"/><use href="#sR" x="592.9" y="500.5"/><use href="#sR" x="593.6" y="500.7"/><use href="#sR" x="594.2" y="500.9"/><use href="#sR" x="594.9" y="501.0"/><use href="#sR" x="595.6" y="501.2"/><use href="#sR" x="596.3" y="501.4"/><use href="#sR" x="596.9" y="501.5"/><use href="#sR" x="597.6" y="501.7"/><use href="#sR" x="598.3" y="501.8"/><use href="#sR" x="599.0" y="501.9"/><use href="#sR" x="601.2" y="502.3"/><use href="#sR" x="603.4" y="502.7"/><use href="#sR" x="605.7" y="503.0"/><use href="#sR" x="607.9" y="503.3"/><use href="#sR" x="610.2" y="503.5"/><use href="#sR" x="612.4" y="503.7"/><use href="#sR" x="614.7" y="503.9"/><use href="#sR" x="616.9" y="504.1"/><use href="#sR" x="619.2" y="504.2"/><use href="#sR" x="621.4" y="504.4"/><use href="#sR" x="623.7" y="504.5"/><use href="#sR" x="625.9" y="504.6"/><use href="#sR" x="628.2" y="504.7"/><use href="#sR" x="630.4" y="504.8"/><use href="#sR" x="632.7" y="504.9"/><use href="#sR" x="634.9" y="505.0"/><use href="#sR" x="637.2" y="505.1"/><use href="#sR" x="639.4" y="505.2"/><use href="#sR" x="641.7" y="505.3"/><use href="#sR" x="643.9" y="505.4"/><use href="#sR" x="646.2" y="505.4"/><use href="#sR" x="648.4" y="505.5"/><use href="#sR" x="650.6" y="505.6"/><use href="#sR" x="652.9" y="505.6"/><use href="#sR" x="655.1" y="505.7"/><use href="#sR" x="657.4" y="505.8"/><use href="#sR" x="659.6" y="505.8"/><use href="#sR" x="661.9" y="505.9"/><use href="#sR" x="664.1" y="505.9"/><use href="#sR" x="666.4" y="506.0"/><use href="#sR" x="668.6" y="506.0"/><use href="#sR" x="670.9" y="506.1"/><use href="#sR" x="673.1" y="506.1"/><use href="#sR" x="675.4" y="506.2"/><use href="#sR" x="677.6" y="506.2"/><use href="#sR" x="679.9" y="506.2"/><use href="#sR" x="682.1" y="506.3"/><use href="#sR" x="684.4" y="506.3"/><use href="#sR" x="686.6" y="506.3"/><use href="#sR" x="688.9" y="506.4"/><use href="#sR" x="691.1" y="506.4"/><use href="#sR" x="693.4" y="506.4"/><use href="#sR" x="695.6" y="506.5"/><use href="#sR" x="697.9" y="506.5"/><use href="#sR" x="700.1" y="506.5"/><use href="#sR" x="702.3" y="506.5"/><use href="#sR" x="704.6" y="506.6"/><use href="#sR" x="706.8" y="506.6"/><use href="#sR" x="709.1" y="506.6"/><use href="#sR" x="711.3" y="506.6"/><use href="#sR" x="713.6" y="506.7"/><use href="#sR" x="715.8" y="506.7"/><use href="#sR" x="718.1" y="506.7"/><use href="#sR" x="720.3" y="506.7"/><use href="#sR" x="722.6" y="506.8"/><use href="#sR" x="724.8" y="506.8"/><use href="#sR" x="727.1" y="506.8"/><use href="#sR" x="729.3" y="506.8"/><use href="#sR" x="731.6" y="506.9"/><use href="#sR" x="733.8" y="506.9"/><use href="#sR" x="736.1" y="506.9"/><use href="#sR" x="738.3" y="506.9"/><use href="#sR" x="740.6" y="506.9"/><use href="#sR" x="742.8" y="507.0"/><use href="#sR" x="745.1" y="507.0"/><use href="#sR" x="747.3" y="507.0"/><use href="#sR" x="749.5" y="507.0"/><use href="#sR" x="751.8" y="507.0"/><use href="#sR" x="754.0" y="507.1"/><use href="#sR" x="756.3" y="507.1"/><use href="#sR" x="758.5" y="507.1"/><use href="#sR" x="760.8" y="507.1"/><use href="#sR" x="763.0" y="507.1"/><use href="#sR" x="765.3" y="507.2"/><use href="#sR" x="767.5" y="507.2"/><use href="#sR" x="769.8" y="507.2"/><use href="#sR" x="772.0" y="507.2"/><use href="#sR" x="774.3" y="507.2"/><use href="#sR" x="776.5" y="507.2"/><use href="#sR" x="778.8" y="507.3"/><use href="#sR" x="781.0" y="507.3"/><use href="#sR" x="783.3" y="507.3"/><use href="#sR" x="785.5" y="507.3"/><use href="#sR" x="787.8" y="507.3"/><use href="#sR" x="790.0" y="507.4"/><use href="#sR" x="792.3" y="507.4"/><use href="#sR" x="794.5" y="507.4"/><use href="#sR" x="796.7" y="507.4"/><use href="#sR" x="799.0" y="507.4"/><use href="#sR" x="801.2" y="507.5"/><use href="#sR" x="803.5" y="507.5"/><use href="#sR" x="805.7" y="507.5"/><use href="#sR" x="808.0" y="507.5"/><use href="#sR" x="810.2" y="507.5"/><use href="#sR" x="812.5" y="507.6"/><use href="#sR" x="814.7" y="507.6"/><use href="#sR" x="817.0" y="507.6"/><use href="#sR" x="819.2" y="507.6"/><use href="#sR" x="821.5" y="507.6"/><use href="#sR" x="823.7" y="507.7"/><use href="#sR" x="826.0" y="507.7"/><use href="#sR" x="828.2" y="507.7"/><use href="#sR" x="830.5" y="507.8"/><use href="#sR" x="832.7" y="507.8"/><use href="#sR" x="835.0" y="507.8"/><use href="#sR" x="837.2" y="507.8"/><use href="#sR" x="839.5" y="507.8"/><use href="#sR" x="841.7" y="507.9"/><use href="#sR" x="843.9" y="507.9"/><use href="#sR" x="846.2" y="507.9"/><use href="#sR" x="848.4" y="507.9"/><use href="#sR" x="850.7" y="507.9"/><use href="#sR" x="852.9" y="507.9"/><use href="#sR" x="855.2" y="507.9"/><use href="#sR" x="857.4" y="507.9"/><use href="#sR" x="859.7" y="507.9"/><use href="#sR" x="861.9" y="507.9"/><use href="#sR" x="864.2" y="507.9"/><use href="#sR" x="866.4" y="507.9"/><use href="#sR" x="868.7" y="507.9"/><use href="#sR" x="870.9" y="507.9"/><use href="#sR" x="873.2" y="507.9"/><use href="#sR" x="875.4" y="507.9"/><use href="#sR" x="877.7" y="508.0"/><use href="#sR" x="879.9" y="508.0"/><use href="#sR" x="882.2" y="508.0"/><use href="#sR" x="884.4" y="508.0"/><use href="#sR" x="886.7" y="508.0"/><use href="#sR" x="888.9" y="508.0"/><use href="#sR" x="891.1" y="508.0"/><use href="#sR" x="893.4" y="508.0"/><use href="#sR" x="895.6" y="508.0"/><use href="#sR" x="897.9" y="508.0"/><use href="#sR" x="900.1" y="508.0"/><use href="#sR" x="902.4" y="508.0"/><use href="#sR" x="904.6" y="508.0"/><use href="#sR" x="906.9" y="508.0"/><use href="#sR" x="909.1" y="508.0"/><use href="#sR" x="911.4" y="508.0"/><use href="#sR" x="913.6" y="508.0"/><use href="#sR" x="915.9" y="508.0"/><use href="#sR" x="918.1" y="508.0"/><use href="#sR" x="920.4" y="508.0"/><use href="#sR" x="922.6" y="508.0"/><use href="#sR" x="924.9" y="508.0"/><use href="#sR" x="927.1" y="508.0"/><use href="#sR" x="929.4" y="508.0"/><use href="#sR" x="931.6" y="508.0"/><use href="#sR" x="933.9" y="508.0"/><use href="#sR" x="936.1" y="508.0"/><use href="#sR" x="938.4" y="508.1"/><use href="#sR" x="940.6" y="508.1"/><use href="#sR" x="942.8" y="508.1"/><use href="#sR" x="945.1" y="508.1"/><use href="#sR" x="947.3" y="508.1"/><use href="#sR" x="949.6" y="508.1"/><use href="#sR" x="951.8" y="508.1"/><use href="#sR" x="954.1" y="508.1"/><use href="#sR" x="956.3" y="508.1"/><use href="#sR" x="958.6" y="508.1"/><use href="#sR" x="960.8" y="508.1"/><use href="#sR" x="963.1" y="508.1"/><use href="#sR" x="965.3" y="508.1"/><use href="#sR" x="967.6" y="508.1"/><use href="#sR" x="969.8" y="508.1"/><use href="#sR" x="972.1" y="508.1"/><use href="#sR" x="974.3" y="508.1"/><use href="#sR" x="976.6" y="508.1"/><use href="#sR" x="978.8" y="508.1"/><use href="#sR" x="981.1" y="508.1"/><use href="#sR" x="983.3" y="508.1"/><use href="#sR" x="985.6" y="508.1"/><use href="#sR" x="987.8" y="508.1"/><use href="#sR" x="990.0" y="508.1"/><use href="#sR" x="992.3" y="508.1"/><use href="#sR" x="994.5" y="508.1"/><use href="#sR" x="996.8" y="508.1"/><use href="#sR" x="999.0" y="508.1"/><use href="#sR" x="1001.3" y="508.1"/><use href="#sR" x="1003.5" y="508.1"/><use href="#sR" x="1005.8" y="508.1"/><use href="#sR" x="1008.0" y="508.1"/><use href="#sR" x="1010.3" y="508.1"/><use href="#sR" x="1012.5" y="508.1"/><use href="#sR" x="1014.8" y="508.1"/><use href="#sR" x="1017.0" y="508.1"/><use href="#sR" x="1019.3" y="508.1"/><use href="#sR" x="1021.5" y="508.1"/><use href="#sR" x="1023.8" y="508.1"/><use href="#sR" x="1026.0" y="508.2"/><use href="#sR" x="1028.3" y="508.2"/><use href="#sR" x="1030.5" y="508.2"/><use href="#sR" x="1032.8" y="508.2"/><use href="#sR" x="1035.0" y="508.2"/><use href="#sR" x="1037.2" y="508.2"/><use href="#sR" x="1039.5" y="508.2"/><use href="#sR" x="1041.7" y="508.2"/><use href="#sR" x="1044.0" y="508.2"/><use href="#sR" x="1046.2" y="508.2"/><use href="#sR" x="1048.5" y="508.2"/><use href="#sR" x="1050.7" y="508.2"/><use href="#sR" x="1053.0" y="508.2"/><use href="#sR" x="1055.2" y="508.2"/><use href="#sR" x="1057.5" y="508.2"/><use href="#sR" x="1059.7" y="508.2"/><use href="#sR" x="1062.0" y="508.2"/><use href="#sR" x="1064.2" y="508.2"/><use href="#sR" x="1066.5" y="508.2"/><use href="#sR" x="1068.7" y="508.2"/><use href="#sR" x="1071.0" y="508.2"/><use href="#sR" x="1073.2" y="508.2"/><use href="#sR" x="1075.5" y="508.2"/><use href="#sR" x="1077.7" y="508.2"/><use href="#sR" x="1080.0" y="508.2"/><use href="#sR" x="1082.2" y="508.2"/><use href="#sR" x="1084.4" y="508.2"/><use href="#sR" x="1086.7" y="508.2"/><use href="#sR" x="1088.9" y="508.2"/><use href="#sR" x="1091.2" y="508.2"/><use href="#sR" x="1093.4" y="508.2"/><use href="#sR" x="1095.7" y="508.2"/><use href="#sR" x="1097.9" y="508.2"/><use href="#sR" x="1100.2" y="508.2"/><use href="#sR" x="1102.4" y="508.2"/><use href="#sR" x="1104.7" y="508.2"/><use href="#sR" x="1106.9" y="508.2"/><use href="#sR" x="1109.2" y="508.2"/><use href="#sR" x="1111.4" y="508.2"/><use href="#sR" x="1113.7" y="508.2"/><use href="#sR" x="1115.9" y="508.2"/><use href="#sR" x="1118.2" y="508.2"/><use href="#sR" x="1120.4" y="508.2"/><use href="#sR" x="1122.7" y="508.2"/><use href="#sR" x="1124.9" y="508.2"/><use href="#sR" x="1127.2" y="508.2"/><use href="#sR" x="1129.4" y="508.2"/><use href="#sR" x="1131.7" y="508.2"/><use href="#sR" x="1133.9" y="508.2"/><use href="#sR" x="1136.1" y="508.2"/><use href="#sR" x="1138.4" y="508.2"/><use href="#sR" x="1140.6" y="508.2"/><use href="#sR" x="1142.9" y="508.2"/><use href="#sR" x="1145.1" y="508.2"/><use href="#sR" x="1147.4" y="508.2"/><use href="#sR" x="1149.6" y="508.2"/><use href="#sR" x="1151.9" y="508.2"/><use href="#sR" x="1154.1" y="508.2"/><use href="#sR" x="1156.4" y="508.2"/><use href="#sR" x="1158.6" y="508.2"/><use href="#sR" x="1160.9" y="508.2"/><use href="#sR" x="1163.1" y="508.2"/><use href="#sR" x="1165.4" y="508.2"/><use href="#sR" x="1167.6" y="508.2"/><use href="#sR" x="1169.9" y="508.2"/><use href="#sR" x="1172.1" y="508.3"/><use href="#sR" x="1174.4" y="508.3"/><use href="#sR" x="1176.6" y="508.3"/><use href="#sR" x="1178.9" y="508.3"/><use href="#sR" x="1181.1" y="508.3"/><use href="#sR" x="1183.3" y="508.3"/><use href="#sR" x="1185.6" y="508.3"/><use href="#sR" x="1187.8" y="508.3"/><use href="#sR" x="1190.1" y="508.3"/><use href="#sR" x="1192.3" y="508.3"/><use href="#sR" x="1194.6" y="508.3"/><use href="#sR" x="1196.8" y="508.3"/><use href="#sR" x="1199.1" y="508.3"/><use href="#sR" x="1201.3" y="508.3"/><use href="#sR" x="1203.6" y="508.3"/><use href="#sR" x="1205.8" y="508.3"/><use href="#sR" x="1208.1" y="508.3"/><use href="#sR" x="1210.3" y="508.3"/><use href="#sR" x="1212.6" y="508.3"/><use href="#sR" x="1214.8" y="508.3"/><use href="#sR" x="1217.1" y="508.3"/><use href="#sR" x="1219.3" y="508.3"/><use href="#sR" x="1221.6" y="508.3"/><use href="#sR" x="1223.8" y="508.3"/><use href="#sR" x="1226.1" y="508.3"/><use href="#sR" x="1228.3" y="508.3"/><use href="#dR" x="559.6" y="508.5"/><use href="#dR" x="560.5" y="508.5"/><use href="#dR" x="561.4" y="508.5"/><use href="#dR" x="561.9" y="508.5"/><use href="#dR" x="562.3" y="508.5"/><use href="#dR" x="562.8" y="508.4"/><use href="#dR" x="563.2" y="508.4"/><use href="#dR" x="563.7" y="508.4"/><use href="#dR" x="564.1" y="508.4"/><use href="#dR" x="564.6" y="508.4"/><use href="#dR" x="565.0" y="508.3"/><use href="#dR" x="565.5" y="508.3"/><use href="#dR" x="565.9" y="508.2"/><use href="#dR" x="566.4" y="508.2"/><use href="#dR" x="566.8" y="507.9"/><use href="#dR" x="567.3" y="507.6"/><use href="#dR" x="567.6" y="507.4"/><use href="#dR" x="568.0" y="507.1"/><use href="#dR" x="568.5" y="506.8"/><use href="#dR" x="568.9" y="506.5"/><use href="#dR" x="569.4" y="506.1"/><use href="#dR" x="569.8" y="505.9"/><use href="#dR" x="570.3" y="505.6"/><use href="#dR" x="570.8" y="505.4"/><use href="#dR" x="571.2" y="505.0"/><use href="#dR" x="571.7" y="504.8"/><use href="#dR" x="572.1" y="504.4"/><use href="#dR" x="572.5" y="504.1"/><use href="#dR" x="573.0" y="503.8"/><use href="#dR" x="573.4" y="501.5"/><use href="#dR" x="573.9" y="501.1"/><use href="#dR" x="574.3" y="500.9"/><use href="#dR" x="574.8" y="500.6"/><use href="#dR" x="575.3" y="500.4"/><use href="#dR" x="575.7" y="500.1"/><use href="#dR" x="576.2" y="499.9"/><use href="#dR" x="576.7" y="499.6"/><use href="#dR" x="577.4" y="499.3"/><use href="#dR" x="578.1" y="499.0"/><use href="#dR" x="578.7" y="498.6"/><use href="#dR" x="579.4" y="498.3"/><use href="#dR" x="580.1" y="498.0"/><use href="#dR" x="580.7" y="497.7"/><use href="#dR" x="581.4" y="497.3"/><use href="#dR" x="582.1" y="497.0"/><use href="#dR" x="582.8" y="496.6"/><use href="#dR" x="583.4" y="496.3"/><use href="#dR" x="584.1" y="495.9"/><use href="#dR" x="584.8" y="495.5"/><use href="#dR" x="585.5" y="495.0"/><use href="#dR" x="586.1" y="494.6"/><use href="#dR" x="586.8" y="494.2"/><use href="#dR" x="587.5" y="493.7"/><use href="#dR" x="588.2" y="493.3"/><use href="#dR" x="588.8" y="492.8"/><use href="#dR" x="589.5" y="492.4"/><use href="#dR" x="590.2" y="491.9"/><use href="#dR" x="590.9" y="491.4"/><use href="#dR" x="591.5" y="491.0"/><use href="#dR" x="592.2" y="490.5"/><use href="#dR" x="592.9" y="490.0"/><use href="#dR" x="593.6" y="489.5"/><use href="#dR" x="594.2" y="489.1"/><use href="#dR" x="594.9" y="488.6"/><use href="#dR" x="595.6" y="488.1"/><use href="#dR" x="596.3" y="487.7"/><use href="#dR" x="596.9" y="487.2"/><use href="#dR" x="597.6" y="486.8"/><use href="#dR" x="598.3" y="486.3"/><use href="#dR" x="599.0" y="485.9"/><use href="#dR" x="601.2" y="484.4"/><use href="#dR" x="603.4" y="482.9"/><use href="#dR" x="605.7" y="481.5"/><use href="#dR" x="607.9" y="480.1"/><use href="#dR" x="610.2" y="478.8"/><use href="#dR" x="612.4" y="477.5"/><use href="#dR" x="614.7" y="476.3"/><use href="#dR" x="616.9" y="475.1"/><use href="#dR" x="619.2" y="473.9"/><use href="#dR" x="621.4" y="472.8"/><use href="#dR" x="623.7" y="471.6"/><use href="#dR" x="625.9" y="470.4"/><use href="#dR" x="628.2" y="469.2"/><use href="#dR" x="630.4" y="468.1"/><use href="#dR" x="632.7" y="466.9"/><use href="#dR" x="634.9" y="465.8"/><use href="#dR" x="637.2" y="464.7"/><use href="#dR" x="639.4" y="463.5"/><use href="#dR" x="641.7" y="462.4"/><use href="#dR" x="643.9" y="461.4"/><use href="#dR" x="646.2" y="460.3"/><use href="#dR" x="648.4" y="459.2"/><use href="#dR" x="650.6" y="458.1"/><use href="#dR" x="652.9" y="457.1"/><use href="#dR" x="655.1" y="456.0"/><use href="#dR" x="657.4" y="454.9"/><use href="#dR" x="659.6" y="453.7"/><use href="#dR" x="661.9" y="452.5"/><use href="#dR" x="664.1" y="451.4"/><use href="#dR" x="666.4" y="450.2"/><use href="#dR" x="668.6" y="449.1"/><use href="#dR" x="670.9" y="448.0"/><use href="#dR" x="673.1" y="446.9"/><use href="#dR" x="675.4" y="445.9"/><use href="#dR" x="677.6" y="444.9"/><use href="#dR" x="679.9" y="443.9"/><use href="#dR" x="682.1" y="442.9"/><use href="#dR" x="684.4" y="442.0"/><use href="#dR" x="686.6" y="441.0"/><use href="#dR" x="688.9" y="440.1"/><use href="#dR" x="691.1" y="439.1"/><use href="#dR" x="693.4" y="438.2"/><use href="#dR" x="695.6" y="437.2"/><use href="#dR" x="697.9" y="436.3"/><use href="#dR" x="700.1" y="435.4"/><use href="#dR" x="702.3" y="434.4"/><use href="#dR" x="704.6" y="433.5"/><use href="#dR" x="706.8" y="432.6"/><use href="#dR" x="709.1" y="431.7"/><use href="#dR" x="711.3" y="430.7"/><use href="#dR" x="713.6" y="429.8"/><use href="#dR" x="715.8" y="428.8"/><use href="#dR" x="718.1" y="427.7"/><use href="#dR" x="720.3" y="426.7"/><use href="#dR" x="722.6" y="425.6"/><use href="#dR" x="724.8" y="424.6"/><use href="#dR" x="727.1" y="423.5"/><use href="#dR" x="729.3" y="422.4"/><use href="#dR" x="731.6" y="421.3"/><use href="#dR" x="733.8" y="420.1"/><use href="#dR" x="736.1" y="419.0"/><use href="#dR" x="738.3" y="417.9"/><use href="#dR" x="740.6" y="416.7"/><use href="#dR" x="742.8" y="415.6"/><use href="#dR" x="745.1" y="414.4"/><use href="#dR" x="747.3" y="413.2"/><use href="#dR" x="749.5" y="412.1"/><use href="#dR" x="751.8" y="410.9"/><use href="#dR" x="754.0" y="409.7"/><use href="#dR" x="756.3" y="408.4"/><use href="#dR" x="758.5" y="407.2"/><use href="#dR" x="760.8" y="405.9"/><use href="#dR" x="763.0" y="404.6"/><use href="#dR" x="765.3" y="403.2"/><use href="#dR" x="767.5" y="401.9"/><use href="#dR" x="769.8" y="400.5"/><use href="#dR" x="772.0" y="399.1"/><use href="#dR" x="774.3" y="397.7"/><use href="#dR" x="776.5" y="396.2"/><use href="#dR" x="778.8" y="394.7"/><use href="#dR" x="781.0" y="393.1"/><use href="#dR" x="783.3" y="391.4"/><use href="#dR" x="785.5" y="389.6"/><use href="#dR" x="787.8" y="387.7"/><use href="#dR" x="790.0" y="385.6"/><use href="#dR" x="792.3" y="383.4"/><use href="#dR" x="794.5" y="381.2"/><use href="#dR" x="796.7" y="379.1"/><use href="#dR" x="799.0" y="377.1"/><use href="#dR" x="801.2" y="375.1"/><use href="#dR" x="803.5" y="373.0"/><use href="#dR" x="805.7" y="370.8"/><use href="#dR" x="808.0" y="368.4"/><use href="#dR" x="810.2" y="365.8"/><use href="#dR" x="812.5" y="363.0"/><use href="#dR" x="814.7" y="359.9"/><use href="#dR" x="817.0" y="356.2"/><use href="#dR" x="819.2" y="352.4"/><use href="#dR" x="821.5" y="348.4"/><use href="#dR" x="823.7" y="344.3"/><use href="#dR" x="826.0" y="339.8"/><use href="#dR" x="828.2" y="334.6"/><use href="#dR" x="830.5" y="328.9"/><use href="#dR" x="832.7" y="322.8"/><use href="#dR" x="835.0" y="316.9"/><use href="#dR" x="837.2" y="311.6"/><use href="#dR" x="839.5" y="307.8"/><use href="#dR" x="841.7" y="304.5"/><use href="#dR" x="843.9" y="301.4"/><use href="#dR" x="846.2" y="298.5"/><use href="#dR" x="848.4" y="295.8"/><use href="#dR" x="850.7" y="293.3"/><use href="#dR" x="852.9" y="290.9"/><use href="#dR" x="855.2" y="288.6"/><use href="#dR" x="857.4" y="286.5"/><use href="#dR" x="859.7" y="284.5"/><use href="#dR" x="861.9" y="282.7"/><use href="#dR" x="864.2" y="281.1"/><use href="#dR" x="866.4" y="279.6"/><use href="#dR" x="868.7" y="278.1"/><use href="#dR" x="870.9" y="276.7"/><use href="#dR" x="873.2" y="275.2"/><use href="#dR" x="875.4" y="273.7"/><use href="#dR" x="877.7" y="272.3"/><use href="#dR" x="879.9" y="270.9"/><use href="#dR" x="882.2" y="269.4"/><use href="#dR" x="884.4" y="268.0"/><use href="#dR" x="886.7" y="266.5"/><use href="#dR" x="888.9" y="265.0"/><use href="#dR" x="891.1" y="263.5"/><use href="#dR" x="893.4" y="262.0"/><use href="#dR" x="895.6" y="260.5"/><use href="#dR" x="897.9" y="258.9"/><use href="#dR" x="900.1" y="257.2"/><use href="#dR" x="902.4" y="255.5"/><use href="#dR" x="904.6" y="253.8"/><use href="#dR" x="906.9" y="252.1"/><use href="#dR" x="909.1" y="250.4"/><use href="#dR" x="911.4" y="248.7"/><use href="#dR" x="913.6" y="247.0"/><use href="#dR" x="915.9" y="245.4"/><use href="#dR" x="918.1" y="243.9"/><use href="#dR" x="920.4" y="242.3"/><use href="#dR" x="922.6" y="240.7"/><use href="#dR" x="924.9" y="239.2"/><use href="#dR" x="927.1" y="237.7"/><use href="#dR" x="929.4" y="236.1"/><use href="#dR" x="931.6" y="234.6"/><use href="#dR" x="933.9" y="233.0"/><use href="#dR" x="936.1" y="231.5"/><use href="#dR" x="938.4" y="229.9"/><use href="#dR" x="940.6" y="228.3"/><use href="#dR" x="942.8" y="226.8"/><use href="#dR" x="945.1" y="225.2"/><use href="#dR" x="947.3" y="223.6"/><use href="#dR" x="949.6" y="222.0"/><use href="#dR" x="951.8" y="220.4"/><use href="#dR" x="954.1" y="218.9"/><use href="#dR" x="956.3" y="217.3"/><use href="#dR" x="958.6" y="215.7"/><use href="#dR" x="960.8" y="214.1"/><use href="#dR" x="963.1" y="212.6"/><use href="#dR" x="965.3" y="211.0"/><use href="#dR" x="967.6" y="209.4"/><use href="#dR" x="969.8" y="207.8"/><use href="#dR" x="972.1" y="206.2"/><use href="#dR" x="974.3" y="204.7"/><use href="#dR" x="976.6" y="203.1"/><use href="#dR" x="978.8" y="201.5"/><use href="#dR" x="981.1" y="199.9"/><use href="#dR" x="983.3" y="198.4"/><use href="#dR" x="985.6" y="196.8"/><use href="#dR" x="987.8" y="195.2"/><use href="#dR" x="990.0" y="193.6"/><use href="#dR" x="992.3" y="192.1"/><use href="#dR" x="994.5" y="190.5"/><use href="#dR" x="996.8" y="189.0"/><use href="#dR" x="999.0" y="187.4"/><use href="#dR" x="1001.3" y="185.9"/><use href="#dR" x="1003.5" y="184.3"/><use href="#dR" x="1005.8" y="182.8"/><use href="#dR" x="1008.0" y="181.2"/><use href="#dR" x="1010.3" y="179.7"/><use href="#dR" x="1012.5" y="178.2"/><use href="#dR" x="1014.8" y="176.6"/><use href="#dR" x="1017.0" y="175.1"/><use href="#dR" x="1019.3" y="173.6"/><use href="#dR" x="1021.5" y="172.0"/><use href="#dR" x="1023.8" y="170.5"/><use href="#dR" x="1026.0" y="169.0"/><use href="#dR" x="1028.3" y="167.5"/><use href="#dR" x="1030.5" y="165.9"/><use href="#dR" x="1032.8" y="164.4"/><use href="#dR" x="1035.0" y="162.9"/><use href="#dR" x="1037.2" y="161.4"/><use href="#dR" x="1039.5" y="159.8"/><use href="#dR" x="1041.7" y="158.3"/><use href="#dR" x="1044.0" y="156.8"/><use href="#dR" x="1046.2" y="155.3"/><use href="#dR" x="1048.5" y="153.8"/><use href="#dR" x="1050.7" y="152.2"/><use href="#dR" x="1053.0" y="150.7"/><use href="#dR" x="1055.2" y="149.2"/><use href="#dR" x="1057.5" y="147.7"/><use href="#dR" x="1059.7" y="146.1"/><use href="#dR" x="1062.0" y="144.6"/><use href="#dR" x="1064.2" y="143.1"/><use href="#dR" x="1066.5" y="141.6"/><use href="#dR" x="1068.7" y="140.1"/><use href="#dR" x="1071.0" y="138.5"/><use href="#dR" x="1073.2" y="137.0"/><use href="#dR" x="1075.5" y="135.5"/><use href="#dR" x="1077.7" y="134.0"/><use href="#dR" x="1080.0" y="132.4"/><use href="#dR" x="1082.2" y="130.9"/><use href="#dR" x="1084.4" y="129.4"/><use href="#dR" x="1086.7" y="127.9"/><use href="#dR" x="1088.9" y="126.4"/><use href="#dR" x="1091.2" y="124.9"/><use href="#dR" x="1093.4" y="123.4"/><use href="#dR" x="1095.7" y="121.8"/><use href="#dR" x="1097.9" y="120.3"/><use href="#dR" x="1100.2" y="118.8"/><use href="#dR" x="1102.4" y="117.3"/><use href="#dR" x="1104.7" y="115.8"/><use href="#dR" x="1106.9" y="114.3"/><use href="#dR" x="1109.2" y="112.8"/><use href="#dR" x="1111.4" y="111.3"/><use href="#dR" x="1113.7" y="109.8"/><use href="#dR" x="1115.9" y="108.3"/><use href="#dR" x="1118.2" y="106.8"/><use href="#dR" x="1120.4" y="105.3"/><use href="#dR" x="1122.7" y="103.8"/><use href="#dR" x="1124.9" y="102.3"/><use href="#dR" x="1127.2" y="100.8"/><use href="#dR" x="1129.4" y="99.3"/><use href="#dR" x="1131.7" y="97.8"/><use href="#dR" x="1133.9" y="96.4"/><use href="#dR" x="1136.1" y="94.9"/><use href="#dR" x="1138.4" y="93.4"/><use href="#dR" x="1140.6" y="91.9"/><use href="#dR" x="1142.9" y="90.4"/><use href="#dR" x="1145.1" y="89.0"/><use href="#dR" x="1147.4" y="87.5"/><use href="#dR" x="1149.6" y="86.0"/><use href="#dR" x="1151.9" y="84.6"/><use href="#dR" x="1154.1" y="83.1"/><use href="#dR" x="1156.4" y="81.7"/><use href="#dR" x="1158.6" y="80.2"/><use href="#dR" x="1160.9" y="78.8"/><use href="#dR" x="1163.1" y="77.3"/><use href="#dR" x="1165.4" y="75.9"/><use href="#dR" x="1167.6" y="74.5"/><use href="#dR" x="1169.9" y="73.0"/><use href="#dR" x="1172.1" y="71.6"/><use href="#dR" x="1174.4" y="70.2"/><use href="#dR" x="1176.6" y="68.8"/><use href="#dR" x="1178.9" y="67.3"/><use href="#dR" x="1181.1" y="65.9"/><use href="#dR" x="1183.3" y="64.5"/><use href="#dR" x="1185.6" y="63.1"/><use href="#dR" x="1187.8" y="61.6"/><use href="#dR" x="1190.1" y="60.2"/><use href="#dR" x="1192.3" y="58.8"/><use href="#dR" x="1194.6" y="57.4"/><use href="#dR" x="1196.8" y="55.9"/><use href="#dR" x="1199.1" y="54.5"/><use href="#dR" x="1201.3" y="53.1"/><use href="#dR" x="1203.6" y="51.6"/><use href="#dR" x="1205.8" y="50.2"/><use href="#dR" x="1208.1" y="48.7"/><use href="#dR" x="1210.3" y="47.3"/><use href="#dR" x="1212.6" y="45.9"/><use href="#dR" x="1214.8" y="44.4"/><use href="#dR" x="1217.1" y="43.0"/><use href="#dR" x="1219.3" y="41.5"/><use href="#dR" x="1221.6" y="40.1"/><use href="#dR" x="1223.8" y="38.7"/><use href="#dR" x="1226.1" y="37.2"/><use href="#dR" x="1228.3" y="35.8"/></g><path d="M1228.30 0.40V510.60" stroke="#000" stroke-width="4"/><path d="M1228.30 508.80h-12.5M1228.30 413.70h-12.5M1228.30 318.60h-12.5M1228.30 223.50h-12.5M1228.30 128.40h-12.5M1228.30 33.30h-12.5" stroke="#000" stroke-width="3.6" stroke-linecap="round" fill="none"/><path d="M1228.30 461.25h-7.5M1228.30 366.15h-7.5M1228.30 271.05h-7.5M1228.30 175.95h-7.5M1228.30 80.85h-7.5" stroke="#000" stroke-width="3.6" stroke-linecap="round" fill="none"/><text x="540.5" y="519.3" font-size="37.5" text-anchor="end">0</text><text x="540.5" y="398.8" font-size="37.5" text-anchor="end">5</text><text x="540.5" y="278.2" font-size="37.5" text-anchor="end">10</text><text x="540.5" y="157.7" font-size="37.5" text-anchor="end">15</text><text x="540.5" y="37.1" font-size="37.5" text-anchor="end">20</text><text x="1240.7" y="519.5" font-size="37.5">0</text><text x="1240.7" y="424.4" font-size="37.5">15</text><text x="1240.7" y="329.3" font-size="37.5">30</text><text x="1240.7" y="234.2" font-size="37.5">45</text><text x="1240.7" y="139.1" font-size="37.5">60</text><text x="1240.7" y="44.0" font-size="37.5">75</text><text x="554.0" y="551.0" font-size="37.5" text-anchor="middle">0</text><text x="666.4" y="551.0" font-size="37.5" text-anchor="middle">50</text><text x="778.8" y="551.0" font-size="37.5" text-anchor="middle">100</text><text x="891.1" y="551.0" font-size="37.5" text-anchor="middle">150</text><text x="1003.5" y="551.0" font-size="37.5" text-anchor="middle">200</text><text x="1115.9" y="551.0" font-size="37.5" text-anchor="middle">250</text><text x="1228.3" y="551.0" font-size="37.5" text-anchor="middle">300</text><text x="878.2" y="608.5" font-size="38.4" text-anchor="middle">T (K)</text><text transform="translate(466.3,255) rotate(-90)" font-size="38.4" text-anchor="middle">&#967; (emu/mole-Oe)</text><text transform="translate(1350.6,410.8) rotate(-90)" font-size="38.4">&#967;<tspan font-size="22" dy="-20.8" dx="0">-1</tspan><tspan dy="20.8"> (mole-Oe/emu)</tspan></text><text x="1054.5" y="46.4" font-size="33">(a)</text><text x="1021.2" y="260.1" font-size="27">H= 100 Oe</text><text x="823.6" y="433.8" font-size="33">T</text><text x="842.6" y="447.0" font-size="20">H</text><path d="M844.2 404.1V354" stroke="#000" stroke-width="2.4"/><path d="M844.2 336.1L850.5 355.7L837.9 355.7Z" fill="#000"/><path d="M842.8 454.5V477" stroke="#000" stroke-width="2.4"/><path d="M842.8 495.5L849.2 476.2L836.4 476.2Z" fill="#000"/><path d="M1103.4 145.7H1173" stroke="#000" stroke-width="2.5"/><path d="M1197.6 145.7L1171.3 135.7L1171.3 155.7Z" fill="#000"/><path d="M1056 373.9H1105.3" stroke="#000" stroke-width="1.6"/><use href="#lK" x="1080.6" y="373.9"/><path d="M1056 407.1H1105.3" stroke="#f00" stroke-width="1.6"/><use href="#lR" x="1080.6" y="407.1"/><text x="1111.0" y="381.4" font-size="27.6">ZFC</text><text x="1111.3" y="414.8" font-size="27.6">FC</text><rect x="648.3" y="22.5" width="256.0" height="212.0" fill="#fff"/><rect x="648.30" y="22.50" width="256.00" height="212.00" fill="none" stroke="#000" stroke-width="3.0" stroke-linejoin="miter"/><path d="M700.10 234.50v-7M700.10 22.50v7M751.90 234.50v-7M751.90 22.50v7M803.70 234.50v-7M803.70 22.50v7M855.50 234.50v-7M855.50 22.50v7" stroke="#000" stroke-width="2.6" stroke-linecap="round" fill="none"/><path d="M674.20 234.50v-4.5M674.20 22.50v4.5M726.00 234.50v-4.5M726.00 22.50v4.5M777.80 234.50v-4.5M777.80 22.50v4.5M829.60 234.50v-4.5M829.60 22.50v4.5M881.40 234.50v-4.5M881.40 22.50v4.5" stroke="#000" stroke-width="2.6" stroke-linecap="round" fill="none"/><path d="M648.30 184.15h7M904.30 184.15h-7M648.30 133.80h7M904.30 133.80h-7M648.30 83.45h7M904.30 83.45h-7M648.30 33.10h7M904.30 33.10h-7" stroke="#000" stroke-width="2.6" stroke-linecap="round" fill="none"/><path d="M648.30 209.32h4.5M904.30 209.32h-4.5M648.30 158.97h4.5M904.30 158.97h-4.5M648.30 108.62h4.5M904.30 108.62h-4.5M648.30 58.28h4.5M904.30 58.28h-4.5" stroke="#000" stroke-width="2.6" stroke-linecap="round" fill="none"/><g clip-path="url(#clI)"><polyline points="711.8,86.3 717.5,85.7 722.4,80.9 727.6,75.6 732.7,72.1 737.9,69.5 743.4,68.5 748.3,69.8 753.5,72.1 758.9,76.2 763.6,82.7 769.5,89.2 775.2,99.1 780.6,109.2 785.7,122.1 790.7,139.2 795.9,160.5 801.1,183.1 806.3,193.2 811.5,200.6 816.6,205.5 821.8,210.0 827.0,213.2 832.2,215.0 837.4,216.7 842.5,218.1 847.7,219.7 852.9,220.7 858.1,222.0 863.3,223.0 868.5,223.9 873.6,224.7 878.8,225.2 884.0,225.8 889.2,226.2 894.4,226.7 899.5,227.3 904.7,227.6" fill="none" stroke="#000" stroke-width="1.3" stroke-linejoin="round"/><use href="#iK" x="711.8" y="86.3"/><use href="#iK" x="717.5" y="85.7"/><use href="#iK" x="722.4" y="80.9"/><use href="#iK" x="727.6" y="75.6"/><use href="#iK" x="732.7" y="72.1"/><use href="#iK" x="737.9" y="69.5"/><use href="#iK" x="743.4" y="68.5"/><use href="#iK" x="748.3" y="69.8"/><use href="#iK" x="753.5" y="72.1"/><use href="#iK" x="758.9" y="76.2"/><use href="#iK" x="763.6" y="82.7"/><use href="#iK" x="769.5" y="89.2"/><use href="#iK" x="775.2" y="99.1"/><use href="#iK" x="780.6" y="109.2"/><use href="#iK" x="785.7" y="122.1"/><use href="#iK" x="790.7" y="139.2"/><use href="#iK" x="795.9" y="160.5"/><use href="#iK" x="801.1" y="183.1"/><use href="#iK" x="806.3" y="193.2"/><use href="#iK" x="811.5" y="200.6"/><use href="#iK" x="816.6" y="205.5"/><use href="#iK" x="821.8" y="210.0"/><use href="#iK" x="827.0" y="213.2"/><use href="#iK" x="832.2" y="215.0"/><use href="#iK" x="837.4" y="216.7"/><use href="#iK" x="842.5" y="218.1"/><use href="#iK" x="847.7" y="219.7"/><use href="#iK" x="852.9" y="220.7"/><use href="#iK" x="858.1" y="222.0"/><use href="#iK" x="863.3" y="223.0"/><use href="#iK" x="868.5" y="223.9"/><use href="#iK" x="873.6" y="224.7"/><use href="#iK" x="878.8" y="225.2"/><use href="#iK" x="884.0" y="225.8"/><use href="#iK" x="889.2" y="226.2"/><use href="#iK" x="894.4" y="226.7"/><use href="#iK" x="899.5" y="227.3"/><use href="#iK" x="904.7" y="227.6"/><polyline points="712.9,35.6 723.6,38.1 733.6,42.1 738.9,43.3 744.2,48.3 749.5,53.2 754.4,59.7 759.8,68.8 765.0,76.6 770.4,85.1 775.4,96.2 780.6,106.0 785.7,118.6 790.7,135.0 796.0,162.2 801.6,180.9 805.5,190.0 810.2,197.3 815.6,202.7 820.5,207.2 826.0,210.9 830.9,212.7 836.3,214.6 841.5,216.0 846.4,217.6 851.9,218.7 856.8,219.9 862.0,220.9 867.2,221.8 872.1,222.7 877.8,223.2 882.7,223.8 888.1,224.3 893.3,224.7 898.8,225.4 903.9,225.7" fill="none" stroke="#f00" stroke-width="1.3" stroke-linejoin="round"/><use href="#iR" x="712.9" y="35.6"/><use href="#iR" x="723.6" y="38.1"/><use href="#iR" x="733.6" y="42.1"/><use href="#iR" x="738.9" y="43.3"/><use href="#iR" x="744.2" y="48.3"/><use href="#iR" x="749.5" y="53.2"/><use href="#iR" x="754.4" y="59.7"/><use href="#iR" x="759.8" y="68.8"/><use href="#iR" x="765.0" y="76.6"/><use href="#iR" x="770.4" y="85.1"/><use href="#iR" x="775.4" y="96.2"/><use href="#iR" x="780.6" y="106.0"/><use href="#iR" x="785.7" y="118.6"/><use href="#iR" x="790.7" y="135.0"/><use href="#iR" x="796.0" y="162.2"/><use href="#iR" x="801.6" y="180.9"/><use href="#iR" x="805.5" y="190.0"/><use href="#iR" x="810.2" y="197.3"/><use href="#iR" x="815.6" y="202.7"/><use href="#iR" x="820.5" y="207.2"/><use href="#iR" x="826.0" y="210.9"/><use href="#iR" x="830.9" y="212.7"/><use href="#iR" x="836.3" y="214.6"/><use href="#iR" x="841.5" y="216.0"/><use href="#iR" x="846.4" y="217.6"/><use href="#iR" x="851.9" y="218.7"/><use href="#iR" x="856.8" y="219.9"/><use href="#iR" x="862.0" y="220.9"/><use href="#iR" x="867.2" y="221.8"/><use href="#iR" x="872.1" y="222.7"/><use href="#iR" x="877.8" y="223.2"/><use href="#iR" x="882.7" y="223.8"/><use href="#iR" x="888.1" y="224.3"/><use href="#iR" x="893.3" y="224.7"/><use href="#iR" x="898.8" y="225.4"/><use href="#iR" x="903.9" y="225.7"/></g><text x="648.3" y="262.3" font-size="28" text-anchor="middle">0</text><text x="700.1" y="262.3" font-size="28" text-anchor="middle">2</text><text x="751.9" y="262.3" font-size="28" text-anchor="middle">4</text><text x="803.7" y="262.3" font-size="28" text-anchor="middle">6</text><text x="855.5" y="262.3" font-size="28" text-anchor="middle">8</text><text x="641.5" y="242.3" font-size="28" text-anchor="end">0</text><text x="641.5" y="192.0" font-size="28" text-anchor="end">5</text><text x="641.5" y="141.6" font-size="28" text-anchor="end">10</text><text x="641.5" y="91.2" font-size="28" text-anchor="end">15</text><text x="641.5" y="40.9" font-size="28" text-anchor="end">20</text><text x="760.4" y="304.5" font-size="28" text-anchor="middle">T (K)</text><text transform="translate(598.4,130.1) rotate(-90)" font-size="28" text-anchor="middle">&#967; (emu/mol Oe)</text><text x="715.5" y="190.9" font-size="26.5">T</text><text x="731.5" y="200.8" font-size="16">L</text><path d="M729.1 161.2L745.5 97" stroke="#000" stroke-width="2.2"/><path d="M748.6 86.3L750.8 108.5L736.3 104.6Z" fill="#000"/><rect x="111.60" y="660.50" width="674.00" height="505.70" fill="none" stroke="#000" stroke-width="3.8" stroke-linejoin="miter"/><path d="M280.10 1166.20v-12.5M280.10 660.50v12.5M448.60 1166.20v-12.5M448.60 660.50v12.5M617.10 1166.20v-12.5M617.10 660.50v12.5" stroke="#000" stroke-width="3.6" stroke-linecap="round" fill="none"/><path d="M195.85 1166.20v-7.5M195.85 660.50v7.5M364.35 1166.20v-7.5M364.35 660.50v7.5M532.85 1166.20v-7.5M532.85 660.50v7.5M701.35 1166.20v-7.5M701.35 660.50v7.5" stroke="#000" stroke-width="3.6" stroke-linecap="round" fill="none"/><path d="M111.60 1074.28h12.5M785.60 1074.28h-12.5M111.60 982.36h12.5M785.60 982.36h-12.5M111.60 890.44h12.5M785.60 890.44h-12.5M111.60 798.52h12.5M785.60 798.52h-12.5M111.60 706.60h12.5M785.60 706.60h-12.5" stroke="#000" stroke-width="3.6" stroke-linecap="round" fill="none"/><path d="M111.60 1120.24h7.5M785.60 1120.24h-7.5M111.60 1028.32h7.5M785.60 1028.32h-7.5M111.60 936.40h7.5M785.60 936.40h-7.5M111.60 844.48h7.5M785.60 844.48h-7.5M111.60 752.56h7.5M785.60 752.56h-7.5" stroke="#000" stroke-width="3.6" stroke-linecap="round" fill="none"/><text x="111.6" y="1205.2" font-size="37.5" text-anchor="middle">0</text><text x="280.1" y="1205.2" font-size="37.5" text-anchor="middle">4</text><text x="448.6" y="1205.2" font-size="37.5" text-anchor="middle">8</text><text x="617.1" y="1205.2" font-size="37.5" text-anchor="middle">12</text><text x="785.6" y="1205.2" font-size="37.5" text-anchor="middle">16</text><text x="97.5" y="1176.9" font-size="37.5" text-anchor="end">0</text><text x="97.5" y="1085.0" font-size="37.5" text-anchor="end">4</text><text x="97.5" y="993.1" font-size="37.5" text-anchor="end">8</text><text x="97.5" y="901.1" font-size="37.5" text-anchor="end">12</text><text x="97.5" y="809.2" font-size="37.5" text-anchor="end">16</text><text x="97.5" y="717.3" font-size="37.5" text-anchor="end">20</text><text x="446.0" y="1259.2" font-size="38.4" text-anchor="middle">T (K)</text><text transform="translate(25.7,899.4) rotate(-90)" font-size="38.4" text-anchor="middle">&#967; (emu/mole-Oe)</text><text x="675.7" y="719.0" font-size="33">(b)</text><g clip-path="url(#clB)"><polyline points="214.8,827.9 224.1,826.6 232.1,815.8 240.5,803.6 248.9,795.5 257.4,789.6 266.2,787.5 274.2,790.2 282.6,795.5 291.5,805.0 299.1,819.9 308.7,834.6 318.0,857.1 326.9,880.3 335.1,909.7 343.2,948.8 351.7,997.3 360.1,1049.0 368.6,1068.8 377.0,1085.6 385.4,1096.8 393.8,1107.2 402.3,1114.4 410.7,1118.5 419.1,1122.3 427.5,1125.6 436.0,1129.2 444.4,1131.6 452.8,1134.4 461.2,1136.6 469.7,1138.7 478.1,1140.6 486.5,1141.6 494.9,1143.1 503.4,1144.1 511.8,1145.1 520.2,1146.6 528.6,1147.2 537.1,1147.6 545.5,1147.9 553.9,1148.3 562.3,1148.7 570.8,1149.1 579.2,1149.6 587.6,1150.0 596.0,1150.5 604.5,1150.9 612.9,1151.3 621.3,1151.7 629.7,1152.0 638.2,1152.4 646.6,1152.7 655.0,1153.1 663.4,1153.4 671.9,1153.7 680.3,1154.0 688.7,1154.3 697.1,1154.6 705.6,1154.8 714.0,1155.1 722.4,1155.4 730.8,1155.6 739.3,1155.8 747.7,1156.1 756.1,1156.3 764.5,1156.5 773.0,1156.7 781.4,1156.9" fill="none" stroke="#000" stroke-width="1.6" stroke-linejoin="round"/><g fill="#fff" stroke="#000" stroke-width="1.8"><use href="#bS" x="214.8" y="827.9"/><use href="#bS" x="224.1" y="826.6"/><use href="#bS" x="232.1" y="815.8"/><use href="#bS" x="240.5" y="803.6"/><use href="#bS" x="248.9" y="795.5"/><use href="#bS" x="257.4" y="789.6"/><use href="#bS" x="266.2" y="787.5"/><use href="#bS" x="274.2" y="790.2"/><use href="#bS" x="282.6" y="795.5"/><use href="#bS" x="291.5" y="805.0"/><use href="#bS" x="299.1" y="819.9"/><use href="#bS" x="308.7" y="834.6"/><use href="#bS" x="318.0" y="857.1"/><use href="#bS" x="326.9" y="880.3"/><use href="#bS" x="335.1" y="909.7"/><use href="#bS" x="343.2" y="948.8"/><use href="#bS" x="351.7" y="997.3"/><use href="#bS" x="360.1" y="1049.0"/><use href="#bS" x="368.6" y="1068.8"/><use href="#bS" x="377.0" y="1085.6"/><use href="#bS" x="385.4" y="1096.8"/><use href="#bS" x="393.8" y="1107.2"/><use href="#bS" x="402.3" y="1114.4"/><use href="#bS" x="410.7" y="1118.5"/><use href="#bS" x="419.1" y="1122.3"/><use href="#bS" x="427.5" y="1125.6"/><use href="#bS" x="436.0" y="1129.2"/><use href="#bS" x="444.4" y="1131.6"/><use href="#bS" x="452.8" y="1134.4"/><use href="#bS" x="461.2" y="1136.6"/><use href="#bS" x="469.7" y="1138.7"/><use href="#bS" x="478.1" y="1140.6"/><use href="#bS" x="486.5" y="1141.6"/><use href="#bS" x="494.9" y="1143.1"/><use href="#bS" x="503.4" y="1144.1"/><use href="#bS" x="511.8" y="1145.1"/><use href="#bS" x="520.2" y="1146.6"/><use href="#bS" x="528.6" y="1147.2"/><use href="#bS" x="537.1" y="1147.6"/><use href="#bS" x="545.5" y="1147.9"/><use href="#bS" x="553.9" y="1148.3"/><use href="#bS" x="562.3" y="1148.7"/><use href="#bS" x="570.8" y="1149.1"/><use href="#bS" x="579.2" y="1149.6"/><use href="#bS" x="587.6" y="1150.0"/><use href="#bS" x="596.0" y="1150.5"/><use href="#bS" x="604.5" y="1150.9"/><use href="#bS" x="612.9" y="1151.3"/><use href="#bS" x="621.3" y="1151.7"/><use href="#bS" x="629.7" y="1152.0"/><use href="#bS" x="638.2" y="1152.4"/><use href="#bS" x="646.6" y="1152.7"/><use href="#bS" x="655.0" y="1153.1"/><use href="#bS" x="663.4" y="1153.4"/><use href="#bS" x="671.9" y="1153.7"/><use href="#bS" x="680.3" y="1154.0"/><use href="#bS" x="688.7" y="1154.3"/><use href="#bS" x="697.1" y="1154.6"/><use href="#bS" x="705.6" y="1154.8"/><use href="#bS" x="714.0" y="1155.1"/><use href="#bS" x="722.4" y="1155.4"/><use href="#bS" x="730.8" y="1155.6"/><use href="#bS" x="739.3" y="1155.8"/><use href="#bS" x="747.7" y="1156.1"/><use href="#bS" x="756.1" y="1156.3"/><use href="#bS" x="764.5" y="1156.5"/><use href="#bS" x="773.0" y="1156.7"/><use href="#bS" x="781.4" y="1156.9"/></g><polyline points="216.7,712.3 234.0,718.1 250.3,727.1 258.9,729.8 267.5,741.3 276.1,752.6 284.2,767.3 293.0,788.2 301.4,805.9 310.2,825.2 318.3,850.7 326.9,873.0 335.1,901.7 343.2,939.2 351.8,1001.2 361.0,1043.9 367.3,1064.6 374.9,1081.4 383.7,1093.6 391.7,1103.9 400.6,1112.4 408.6,1116.6 417.4,1120.7 425.9,1123.9 433.9,1127.6 442.7,1130.1 450.7,1132.9 459.1,1135.2 467.6,1137.2 475.6,1139.3 484.8,1140.5 492.8,1141.8 501.7,1143.0 510.1,1143.9 518.9,1145.5 527.4,1146.2 535.8,1146.6 544.2,1147.0 552.6,1147.3 561.1,1147.7 569.5,1148.1 577.9,1148.6 586.3,1149.0 594.8,1149.5 603.2,1149.9 611.6,1150.3 620.0,1150.7 628.5,1151.1 636.9,1151.4 645.3,1151.8 653.7,1152.1 662.2,1152.4 670.6,1152.7 679.0,1153.0 687.4,1153.3 695.9,1153.6 704.3,1153.9 712.7,1154.1 721.1,1154.4 729.6,1154.7 738.0,1154.9 746.4,1155.1 754.8,1155.4 763.3,1155.6 771.7,1155.8 780.1,1156.0" fill="none" stroke="#000" stroke-width="1.6" stroke-linejoin="round"/><g fill="#000" stroke="#000" stroke-width="0.8"><use href="#bS" x="216.7" y="712.3"/><use href="#bS" x="234.0" y="718.1"/><use href="#bS" x="250.3" y="727.1"/><use href="#bS" x="258.9" y="729.8"/><use href="#bS" x="267.5" y="741.3"/><use href="#bS" x="276.1" y="752.6"/><use href="#bS" x="284.2" y="767.3"/><use href="#bS" x="293.0" y="788.2"/><use href="#bS" x="301.4" y="805.9"/><use href="#bS" x="310.2" y="825.2"/><use href="#bS" x="318.3" y="850.7"/><use href="#bS" x="326.9" y="873.0"/><use href="#bS" x="335.1" y="901.7"/><use href="#bS" x="343.2" y="939.2"/><use href="#bS" x="351.8" y="1001.2"/><use href="#bS" x="361.0" y="1043.9"/><use href="#bS" x="367.3" y="1064.6"/><use href="#bS" x="374.9" y="1081.4"/><use href="#bS" x="383.7" y="1093.6"/><use href="#bS" x="391.7" y="1103.9"/><use href="#bS" x="400.6" y="1112.4"/><use href="#bS" x="408.6" y="1116.6"/><use href="#bS" x="417.4" y="1120.7"/><use href="#bS" x="425.9" y="1123.9"/><use href="#bS" x="433.9" y="1127.6"/><use href="#bS" x="442.7" y="1130.1"/><use href="#bS" x="450.7" y="1132.9"/><use href="#bS" x="459.1" y="1135.2"/><use href="#bS" x="467.6" y="1137.2"/><use href="#bS" x="475.6" y="1139.3"/><use href="#bS" x="484.8" y="1140.5"/><use href="#bS" x="492.8" y="1141.8"/><use href="#bS" x="501.7" y="1143.0"/><use href="#bS" x="510.1" y="1143.9"/><use href="#bS" x="518.9" y="1145.5"/><use href="#bS" x="527.4" y="1146.2"/><use href="#bS" x="535.8" y="1146.6"/><use href="#bS" x="544.2" y="1147.0"/><use href="#bS" x="552.6" y="1147.3"/><use href="#bS" x="561.1" y="1147.7"/><use href="#bS" x="569.5" y="1148.1"/><use href="#bS" x="577.9" y="1148.6"/><use href="#bS" x="586.3" y="1149.0"/><use href="#bS" x="594.8" y="1149.5"/><use href="#bS" x="603.2" y="1149.9"/><use href="#bS" x="611.6" y="1150.3"/><use href="#bS" x="620.0" y="1150.7"/><use href="#bS" x="628.5" y="1151.1"/><use href="#bS" x="636.9" y="1151.4"/><use href="#bS" x="645.3" y="1151.8"/><use href="#bS" x="653.7" y="1152.1"/><use href="#bS" x="662.2" y="1152.4"/><use href="#bS" x="670.6" y="1152.7"/><use href="#bS" x="679.0" y="1153.0"/><use href="#bS" x="687.4" y="1153.3"/><use href="#bS" x="695.9" y="1153.6"/><use href="#bS" x="704.3" y="1153.9"/><use href="#bS" x="712.7" y="1154.1"/><use href="#bS" x="721.1" y="1154.4"/><use href="#bS" x="729.6" y="1154.7"/><use href="#bS" x="738.0" y="1154.9"/><use href="#bS" x="746.4" y="1155.1"/><use href="#bS" x="754.8" y="1155.4"/><use href="#bS" x="763.3" y="1155.6"/><use href="#bS" x="771.7" y="1155.8"/><use href="#bS" x="780.1" y="1156.0"/></g><polyline points="196.7,851.1 204.7,851.1 221.5,846.5 229.5,845.1 238.0,844.4 247.2,845.2 255.7,847.7 263.7,851.5 272.5,859.5 280.5,866.3 288.9,875.3 297.4,888.1 305.8,903.5 314.2,921.5 322.6,941.6 331.1,963.1 339.5,986.7 347.9,1015.3 356.3,1041.6 364.8,1060.3 373.2,1076.2 381.6,1091.6 390.0,1103.7 398.5,1111.9 406.9,1117.7 415.3,1121.8 423.7,1125.1 432.2,1128.3 440.6,1131.3 449.0,1134.1 457.4,1136.6 465.9,1139.0 474.3,1140.9 482.7,1142.2 491.1,1143.4 499.6,1144.5 508.0,1145.6 516.4,1146.9 524.8,1147.9 533.3,1148.3 541.7,1148.7 550.1,1149.1 558.5,1149.4 567.0,1149.8 575.4,1150.3 583.8,1150.7 592.2,1151.2 600.7,1151.6 609.1,1152.0 617.5,1152.4 625.9,1152.8 634.4,1153.2 642.8,1153.5 651.2,1153.8 659.6,1154.2 668.1,1154.5 676.5,1154.8 684.9,1155.1 693.3,1155.4 701.8,1155.6 710.2,1155.9 718.6,1156.2 727.0,1156.4 735.5,1156.7 743.9,1156.9 752.3,1157.1 760.7,1157.3 769.2,1157.5 777.6,1157.7" fill="none" stroke="#f00" stroke-width="1.6" stroke-linejoin="round"/><g fill="#fff" stroke="#f00" stroke-width="1.8"><use href="#bC" x="196.7" y="851.1"/><use href="#bC" x="204.7" y="851.1"/><use href="#bC" x="221.5" y="846.5"/><use href="#bC" x="229.5" y="845.1"/><use href="#bC" x="238.0" y="844.4"/><use href="#bC" x="247.2" y="845.2"/><use href="#bC" x="255.7" y="847.7"/><use href="#bC" x="263.7" y="851.5"/><use href="#bC" x="272.5" y="859.5"/><use href="#bC" x="280.5" y="866.3"/><use href="#bC" x="288.9" y="875.3"/><use href="#bC" x="297.4" y="888.1"/><use href="#bC" x="305.8" y="903.5"/><use href="#bC" x="314.2" y="921.5"/><use href="#bC" x="322.6" y="941.6"/><use href="#bC" x="331.1" y="963.1"/><use href="#bC" x="339.5" y="986.7"/><use href="#bC" x="347.9" y="1015.3"/><use href="#bC" x="356.3" y="1041.6"/><use href="#bC" x="364.8" y="1060.3"/><use href="#bC" x="373.2" y="1076.2"/><use href="#bC" x="381.6" y="1091.6"/><use href="#bC" x="390.0" y="1103.7"/><use href="#bC" x="398.5" y="1111.9"/><use href="#bC" x="406.9" y="1117.7"/><use href="#bC" x="415.3" y="1121.8"/><use href="#bC" x="423.7" y="1125.1"/><use href="#bC" x="432.2" y="1128.3"/><use href="#bC" x="440.6" y="1131.3"/><use href="#bC" x="449.0" y="1134.1"/><use href="#bC" x="457.4" y="1136.6"/><use href="#bC" x="465.9" y="1139.0"/><use href="#bC" x="474.3" y="1140.9"/><use href="#bC" x="482.7" y="1142.2"/><use href="#bC" x="491.1" y="1143.4"/><use href="#bC" x="499.6" y="1144.5"/><use href="#bC" x="508.0" y="1145.6"/><use href="#bC" x="516.4" y="1146.9"/><use href="#bC" x="524.8" y="1147.9"/><use href="#bC" x="533.3" y="1148.3"/><use href="#bC" x="541.7" y="1148.7"/><use href="#bC" x="550.1" y="1149.1"/><use href="#bC" x="558.5" y="1149.4"/><use href="#bC" x="567.0" y="1149.8"/><use href="#bC" x="575.4" y="1150.3"/><use href="#bC" x="583.8" y="1150.7"/><use href="#bC" x="592.2" y="1151.2"/><use href="#bC" x="600.7" y="1151.6"/><use href="#bC" x="609.1" y="1152.0"/><use href="#bC" x="617.5" y="1152.4"/><use href="#bC" x="625.9" y="1152.8"/><use href="#bC" x="634.4" y="1153.2"/><use href="#bC" x="642.8" y="1153.5"/><use href="#bC" x="651.2" y="1153.8"/><use href="#bC" x="659.6" y="1154.2"/><use href="#bC" x="668.1" y="1154.5"/><use href="#bC" x="676.5" y="1154.8"/><use href="#bC" x="684.9" y="1155.1"/><use href="#bC" x="693.3" y="1155.4"/><use href="#bC" x="701.8" y="1155.6"/><use href="#bC" x="710.2" y="1155.9"/><use href="#bC" x="718.6" y="1156.2"/><use href="#bC" x="727.0" y="1156.4"/><use href="#bC" x="735.5" y="1156.7"/><use href="#bC" x="743.9" y="1156.9"/><use href="#bC" x="752.3" y="1157.1"/><use href="#bC" x="760.7" y="1157.3"/><use href="#bC" x="769.2" y="1157.5"/><use href="#bC" x="777.6" y="1157.7"/></g><polyline points="196.7,818.0 204.7,819.0 221.5,823.6 229.5,826.5 238.0,829.6 247.2,833.0 255.7,837.1 263.7,844.5 272.5,851.7 280.5,863.4 288.9,873.0 297.4,888.0 305.8,900.6 314.2,916.2 322.6,938.9 331.1,958.9 339.5,984.1 347.9,1016.0 356.3,1038.8 364.8,1059.6 373.2,1073.3 381.6,1087.8 390.0,1101.0 398.5,1109.9 406.9,1114.9 415.3,1118.7 423.7,1122.4 432.2,1126.0 440.6,1128.5 449.0,1131.4 457.4,1133.8 465.9,1136.0 474.3,1138.1 482.7,1139.2 491.1,1140.6 499.6,1141.8 508.0,1142.8 516.4,1144.2 524.8,1145.1 533.3,1145.6 541.7,1145.9 550.1,1146.3 558.5,1146.7 567.0,1147.1 575.4,1147.5 583.8,1148.0 592.2,1148.4 600.7,1148.9 609.1,1149.3 617.5,1149.7 625.9,1150.0 634.4,1150.4 642.8,1150.7 651.2,1151.1 659.6,1151.4 668.1,1151.7 676.5,1152.0 684.9,1152.3 693.3,1152.6 701.8,1152.9 710.2,1153.1 718.6,1153.4 727.0,1153.7 735.5,1153.9 743.9,1154.1 752.3,1154.4 760.7,1154.6 769.2,1154.8 777.6,1155.0" fill="none" stroke="#f00" stroke-width="1.6" stroke-linejoin="round"/><g fill="#f00" stroke="#f00" stroke-width="0.8"><use href="#bC" x="196.7" y="818.0"/><use href="#bC" x="204.7" y="819.0"/><use href="#bC" x="221.5" y="823.6"/><use href="#bC" x="229.5" y="826.5"/><use href="#bC" x="238.0" y="829.6"/><use href="#bC" x="247.2" y="833.0"/><use href="#bC" x="255.7" y="837.1"/><use href="#bC" x="263.7" y="844.5"/><use href="#bC" x="272.5" y="851.7"/><use href="#bC" x="280.5" y="863.4"/><use href="#bC" x="288.9" y="873.0"/><use href="#bC" x="297.4" y="888.0"/><use href="#bC" x="305.8" y="900.6"/><use href="#bC" x="314.2" y="916.2"/><use href="#bC" x="322.6" y="938.9"/><use href="#bC" x="331.1" y="958.9"/><use href="#bC" x="339.5" y="984.1"/><use href="#bC" x="347.9" y="1016.0"/><use href="#bC" x="356.3" y="1038.8"/><use href="#bC" x="364.8" y="1059.6"/><use href="#bC" x="373.2" y="1073.3"/><use href="#bC" x="381.6" y="1087.8"/><use href="#bC" x="390.0" y="1101.0"/><use href="#bC" x="398.5" y="1109.9"/><use href="#bC" x="406.9" y="1114.9"/><use href="#bC" x="415.3" y="1118.7"/><use href="#bC" x="423.7" y="1122.4"/><use href="#bC" x="432.2" y="1126.0"/><use href="#bC" x="440.6" y="1128.5"/><use href="#bC" x="449.0" y="1131.4"/><use href="#bC" x="457.4" y="1133.8"/><use href="#bC" x="465.9" y="1136.0"/><use href="#bC" x="474.3" y="1138.1"/><use href="#bC" x="482.7" y="1139.2"/><use href="#bC" x="491.1" y="1140.6"/><use href="#bC" x="499.6" y="1141.8"/><use href="#bC" x="508.0" y="1142.8"/><use href="#bC" x="516.4" y="1144.2"/><use href="#bC" x="524.8" y="1145.1"/><use href="#bC" x="533.3" y="1145.6"/><use href="#bC" x="541.7" y="1145.9"/><use href="#bC" x="550.1" y="1146.3"/><use href="#bC" x="558.5" y="1146.7"/><use href="#bC" x="567.0" y="1147.1"/><use href="#bC" x="575.4" y="1147.5"/><use href="#bC" x="583.8" y="1148.0"/><use href="#bC" x="592.2" y="1148.4"/><use href="#bC" x="600.7" y="1148.9"/><use href="#bC" x="609.1" y="1149.3"/><use href="#bC" x="617.5" y="1149.7"/><use href="#bC" x="625.9" y="1150.0"/><use href="#bC" x="634.4" y="1150.4"/><use href="#bC" x="642.8" y="1150.7"/><use href="#bC" x="651.2" y="1151.1"/><use href="#bC" x="659.6" y="1151.4"/><use href="#bC" x="668.1" y="1151.7"/><use href="#bC" x="676.5" y="1152.0"/><use href="#bC" x="684.9" y="1152.3"/><use href="#bC" x="693.3" y="1152.6"/><use href="#bC" x="701.8" y="1152.9"/><use href="#bC" x="710.2" y="1153.1"/><use href="#bC" x="718.6" y="1153.4"/><use href="#bC" x="727.0" y="1153.7"/><use href="#bC" x="735.5" y="1153.9"/><use href="#bC" x="743.9" y="1154.1"/><use href="#bC" x="752.3" y="1154.4"/><use href="#bC" x="760.7" y="1154.6"/><use href="#bC" x="769.2" y="1154.8"/><use href="#bC" x="777.6" y="1155.0"/></g><polyline points="204.3,887.6 229.5,889.8 246.4,895.0 254.8,899.1 271.7,910.7 280.1,918.2 297.0,938.4 305.4,951.0 313.8,964.4 322.2,979.4 330.6,997.2 339.1,1015.6 347.5,1032.5 355.9,1048.5 364.4,1063.7 372.8,1077.9 381.2,1091.1 389.6,1102.1 398.1,1110.2 406.5,1116.3 414.9,1120.3 423.3,1123.7 431.8,1127.2 440.2,1130.3 448.6,1132.9 457.0,1135.3 465.5,1137.5 473.9,1139.4 482.3,1140.9 490.7,1142.2 499.2,1143.3 507.6,1144.4 516.0,1145.7 524.4,1146.7 532.9,1147.2 541.3,1147.5 549.7,1147.9 558.1,1148.2 566.6,1148.7 575.0,1149.1 583.4,1149.6 591.8,1150.0 600.3,1150.5 608.7,1150.9 617.1,1151.3 625.5,1151.6 634.0,1152.0 642.4,1152.3 650.8,1152.7 659.2,1153.0 667.7,1153.3 676.1,1153.6 684.5,1153.9 692.9,1154.2 701.4,1154.5 709.8,1154.7 718.2,1155.0 726.6,1155.3 735.1,1155.5 743.5,1155.7 751.9,1156.0 760.3,1156.2 768.8,1156.4 777.2,1156.6 785.6,1156.8" fill="none" stroke="#00f" stroke-width="1.6" stroke-linejoin="round"/><g fill="#fff" stroke="#00f" stroke-width="1.8"><use href="#bT" x="204.3" y="887.6"/><use href="#bT" x="229.5" y="889.8"/><use href="#bT" x="246.4" y="895.0"/><use href="#bT" x="254.8" y="899.1"/><use href="#bT" x="271.7" y="910.7"/><use href="#bT" x="280.1" y="918.2"/><use href="#bT" x="297.0" y="938.4"/><use href="#bT" x="305.4" y="951.0"/><use href="#bT" x="313.8" y="964.4"/><use href="#bT" x="322.2" y="979.4"/><use href="#bT" x="330.6" y="997.2"/><use href="#bT" x="339.1" y="1015.6"/><use href="#bT" x="347.5" y="1032.5"/><use href="#bT" x="355.9" y="1048.5"/><use href="#bT" x="364.4" y="1063.7"/><use href="#bT" x="372.8" y="1077.9"/><use href="#bT" x="381.2" y="1091.1"/><use href="#bT" x="389.6" y="1102.1"/><use href="#bT" x="398.1" y="1110.2"/><use href="#bT" x="406.5" y="1116.3"/><use href="#bT" x="414.9" y="1120.3"/><use href="#bT" x="423.3" y="1123.7"/><use href="#bT" x="431.8" y="1127.2"/><use href="#bT" x="440.2" y="1130.3"/><use href="#bT" x="448.6" y="1132.9"/><use href="#bT" x="457.0" y="1135.3"/><use href="#bT" x="465.5" y="1137.5"/><use href="#bT" x="473.9" y="1139.4"/><use href="#bT" x="482.3" y="1140.9"/><use href="#bT" x="490.7" y="1142.2"/><use href="#bT" x="499.2" y="1143.3"/><use href="#bT" x="507.6" y="1144.4"/><use href="#bT" x="516.0" y="1145.7"/><use href="#bT" x="524.4" y="1146.7"/><use href="#bT" x="532.9" y="1147.2"/><use href="#bT" x="541.3" y="1147.5"/><use href="#bT" x="549.7" y="1147.9"/><use href="#bT" x="558.1" y="1148.2"/><use href="#bT" x="566.6" y="1148.7"/><use href="#bT" x="575.0" y="1149.1"/><use href="#bT" x="583.4" y="1149.6"/><use href="#bT" x="591.8" y="1150.0"/><use href="#bT" x="600.3" y="1150.5"/><use href="#bT" x="608.7" y="1150.9"/><use href="#bT" x="617.1" y="1151.3"/><use href="#bT" x="625.5" y="1151.6"/><use href="#bT" x="634.0" y="1152.0"/><use href="#bT" x="642.4" y="1152.3"/><use href="#bT" x="650.8" y="1152.7"/><use href="#bT" x="659.2" y="1153.0"/><use href="#bT" x="667.7" y="1153.3"/><use href="#bT" x="676.1" y="1153.6"/><use href="#bT" x="684.5" y="1153.9"/><use href="#bT" x="692.9" y="1154.2"/><use href="#bT" x="701.4" y="1154.5"/><use href="#bT" x="709.8" y="1154.7"/><use href="#bT" x="718.2" y="1155.0"/><use href="#bT" x="726.6" y="1155.3"/><use href="#bT" x="735.1" y="1155.5"/><use href="#bT" x="743.5" y="1155.7"/><use href="#bT" x="751.9" y="1156.0"/><use href="#bT" x="760.3" y="1156.2"/><use href="#bT" x="768.8" y="1156.4"/><use href="#bT" x="777.2" y="1156.6"/><use href="#bT" x="785.6" y="1156.8"/></g><polyline points="204.3,876.4 229.5,883.9 246.4,890.6 254.8,896.4 271.7,909.5 280.1,917.3 297.0,936.6 305.4,949.9 313.8,962.4 322.2,978.2 330.6,997.5 339.1,1014.5 347.5,1030.3 355.9,1047.3 364.4,1062.6 372.8,1076.7 381.2,1089.5 389.6,1101.0 398.1,1109.7 406.5,1115.1 414.9,1119.2 423.3,1122.6 431.8,1125.9 440.2,1129.1 448.6,1131.7 457.0,1134.1 465.5,1136.4 473.9,1138.3 482.3,1139.8 490.7,1141.0 499.2,1142.2 507.6,1143.2 516.0,1144.4 524.4,1145.6 532.9,1146.0 541.3,1146.4 549.7,1146.7 558.1,1147.1 566.6,1147.5 575.0,1148.0 583.4,1148.4 591.8,1148.9 600.3,1149.3 608.7,1149.7 617.1,1150.1 625.5,1150.5 634.0,1150.8 642.4,1151.2 650.8,1151.5 659.2,1151.9 667.7,1152.2 676.1,1152.5 684.5,1152.8 692.9,1153.1 701.4,1153.3 709.8,1153.6 718.2,1153.9 726.6,1154.1 735.1,1154.3 743.5,1154.6 751.9,1154.8 760.3,1155.0 768.8,1155.2 777.2,1155.4 785.6,1155.6" fill="none" stroke="#00f" stroke-width="1.6" stroke-linejoin="round"/><g fill="#00f" stroke="#00f" stroke-width="0.8"><use href="#bT" x="204.3" y="876.4"/><use href="#bT" x="229.5" y="883.9"/><use href="#bT" x="246.4" y="890.6"/><use href="#bT" x="254.8" y="896.4"/><use href="#bT" x="271.7" y="909.5"/><use href="#bT" x="280.1" y="917.3"/><use href="#bT" x="297.0" y="936.6"/><use href="#bT" x="305.4" y="949.9"/><use href="#bT" x="313.8" y="962.4"/><use href="#bT" x="322.2" y="978.2"/><use href="#bT" x="330.6" y="997.5"/><use href="#bT" x="339.1" y="1014.5"/><use href="#bT" x="347.5" y="1030.3"/><use href="#bT" x="355.9" y="1047.3"/><use href="#bT" x="364.4" y="1062.6"/><use href="#bT" x="372.8" y="1076.7"/><use href="#bT" x="381.2" y="1089.5"/><use href="#bT" x="389.6" y="1101.0"/><use href="#bT" x="398.1" y="1109.7"/><use href="#bT" x="406.5" y="1115.1"/><use href="#bT" x="414.9" y="1119.2"/><use href="#bT" x="423.3" y="1122.6"/><use href="#bT" x="431.8" y="1125.9"/><use href="#bT" x="440.2" y="1129.1"/><use href="#bT" x="448.6" y="1131.7"/><use href="#bT" x="457.0" y="1134.1"/><use href="#bT" x="465.5" y="1136.4"/><use href="#bT" x="473.9" y="1138.3"/><use href="#bT" x="482.3" y="1139.8"/><use href="#bT" x="490.7" y="1141.0"/><use href="#bT" x="499.2" y="1142.2"/><use href="#bT" x="507.6" y="1143.2"/><use href="#bT" x="516.0" y="1144.4"/><use href="#bT" x="524.4" y="1145.6"/><use href="#bT" x="532.9" y="1146.0"/><use href="#bT" x="541.3" y="1146.4"/><use href="#bT" x="549.7" y="1146.7"/><use href="#bT" x="558.1" y="1147.1"/><use href="#bT" x="566.6" y="1147.5"/><use href="#bT" x="575.0" y="1148.0"/><use href="#bT" x="583.4" y="1148.4"/><use href="#bT" x="591.8" y="1148.9"/><use href="#bT" x="600.3" y="1149.3"/><use href="#bT" x="608.7" y="1149.7"/><use href="#bT" x="617.1" y="1150.1"/><use href="#bT" x="625.5" y="1150.5"/><use href="#bT" x="634.0" y="1150.8"/><use href="#bT" x="642.4" y="1151.2"/><use href="#bT" x="650.8" y="1151.5"/><use href="#bT" x="659.2" y="1151.9"/><use href="#bT" x="667.7" y="1152.2"/><use href="#bT" x="676.1" y="1152.5"/><use href="#bT" x="684.5" y="1152.8"/><use href="#bT" x="692.9" y="1153.1"/><use href="#bT" x="701.4" y="1153.3"/><use href="#bT" x="709.8" y="1153.6"/><use href="#bT" x="718.2" y="1153.9"/><use href="#bT" x="726.6" y="1154.1"/><use href="#bT" x="735.1" y="1154.3"/><use href="#bT" x="743.5" y="1154.6"/><use href="#bT" x="751.9" y="1154.8"/><use href="#bT" x="760.3" y="1155.0"/><use href="#bT" x="768.8" y="1155.2"/><use href="#bT" x="777.2" y="1155.4"/><use href="#bT" x="785.6" y="1155.6"/></g><polyline points="204.3,922.6 229.5,928.0 246.4,934.7 254.8,938.7 271.7,949.2 280.1,956.3 297.0,974.9 305.4,985.1 313.8,996.2 322.2,1008.2 330.6,1020.9 339.1,1033.8 347.5,1046.6 355.9,1058.7 364.4,1070.4 372.8,1081.6 381.2,1092.2 389.6,1103.0 398.1,1111.8 406.5,1117.1 414.9,1121.2 423.3,1124.8 431.8,1128.0 440.2,1131.0 448.6,1133.8 457.0,1136.3 465.5,1138.4 473.9,1140.3 482.3,1141.9 490.7,1143.1 499.2,1144.3 507.6,1145.4 516.0,1146.5 524.4,1147.4 532.9,1148.1 541.3,1148.5 549.7,1148.8 558.1,1149.2 566.6,1149.6 575.0,1150.0 583.4,1150.5 591.8,1150.9 600.3,1151.4 608.7,1151.8 617.1,1152.2 625.5,1152.6 634.0,1152.9 642.4,1153.3 650.8,1153.6 659.2,1153.9 667.7,1154.2 676.1,1154.5 684.5,1154.8 692.9,1155.1 701.4,1155.4 709.8,1155.7 718.2,1155.9 726.6,1156.2 735.1,1156.4 743.5,1156.7 751.9,1156.9 760.3,1157.1 768.8,1157.3 777.2,1157.5 785.6,1157.7" fill="none" stroke="#f0f" stroke-width="1.6" stroke-linejoin="round"/><g fill="#fff" stroke="#f0f" stroke-width="1.8"><use href="#bD" x="204.3" y="922.6"/><use href="#bD" x="229.5" y="928.0"/><use href="#bD" x="246.4" y="934.7"/><use href="#bD" x="254.8" y="938.7"/><use href="#bD" x="271.7" y="949.2"/><use href="#bD" x="280.1" y="956.3"/><use href="#bD" x="297.0" y="974.9"/><use href="#bD" x="305.4" y="985.1"/><use href="#bD" x="313.8" y="996.2"/><use href="#bD" x="322.2" y="1008.2"/><use href="#bD" x="330.6" y="1020.9"/><use href="#bD" x="339.1" y="1033.8"/><use href="#bD" x="347.5" y="1046.6"/><use href="#bD" x="355.9" y="1058.7"/><use href="#bD" x="364.4" y="1070.4"/><use href="#bD" x="372.8" y="1081.6"/><use href="#bD" x="381.2" y="1092.2"/><use href="#bD" x="389.6" y="1103.0"/><use href="#bD" x="398.1" y="1111.8"/><use href="#bD" x="406.5" y="1117.1"/><use href="#bD" x="414.9" y="1121.2"/><use href="#bD" x="423.3" y="1124.8"/><use href="#bD" x="431.8" y="1128.0"/><use href="#bD" x="440.2" y="1131.0"/><use href="#bD" x="448.6" y="1133.8"/><use href="#bD" x="457.0" y="1136.3"/><use href="#bD" x="465.5" y="1138.4"/><use href="#bD" x="473.9" y="1140.3"/><use href="#bD" x="482.3" y="1141.9"/><use href="#bD" x="490.7" y="1143.1"/><use href="#bD" x="499.2" y="1144.3"/><use href="#bD" x="507.6" y="1145.4"/><use href="#bD" x="516.0" y="1146.5"/><use href="#bD" x="524.4" y="1147.4"/><use href="#bD" x="532.9" y="1148.1"/><use href="#bD" x="541.3" y="1148.5"/><use href="#bD" x="549.7" y="1148.8"/><use href="#bD" x="558.1" y="1149.2"/><use href="#bD" x="566.6" y="1149.6"/><use href="#bD" x="575.0" y="1150.0"/><use href="#bD" x="583.4" y="1150.5"/><use href="#bD" x="591.8" y="1150.9"/><use href="#bD" x="600.3" y="1151.4"/><use href="#bD" x="608.7" y="1151.8"/><use href="#bD" x="617.1" y="1152.2"/><use href="#bD" x="625.5" y="1152.6"/><use href="#bD" x="634.0" y="1152.9"/><use href="#bD" x="642.4" y="1153.3"/><use href="#bD" x="650.8" y="1153.6"/><use href="#bD" x="659.2" y="1153.9"/><use href="#bD" x="667.7" y="1154.2"/><use href="#bD" x="676.1" y="1154.5"/><use href="#bD" x="684.5" y="1154.8"/><use href="#bD" x="692.9" y="1155.1"/><use href="#bD" x="701.4" y="1155.4"/><use href="#bD" x="709.8" y="1155.7"/><use href="#bD" x="718.2" y="1155.9"/><use href="#bD" x="726.6" y="1156.2"/><use href="#bD" x="735.1" y="1156.4"/><use href="#bD" x="743.5" y="1156.7"/><use href="#bD" x="751.9" y="1156.9"/><use href="#bD" x="760.3" y="1157.1"/><use href="#bD" x="768.8" y="1157.3"/><use href="#bD" x="777.2" y="1157.5"/><use href="#bD" x="785.6" y="1157.7"/></g><polyline points="204.3,916.7 229.5,927.1 246.4,933.8 254.8,937.6 271.7,948.3 280.1,955.4 297.0,973.9 305.4,983.5 313.8,995.3 322.2,1008.8 330.6,1020.0 339.1,1032.5 347.5,1045.7 355.9,1057.9 364.4,1069.5 372.8,1080.6 381.2,1091.3 389.6,1102.0 398.1,1110.9 406.5,1116.3 414.9,1120.3 423.3,1123.7 431.8,1127.1 440.2,1130.3 448.6,1132.9 457.0,1135.3 465.5,1137.5 473.9,1139.4 482.3,1141.0 490.7,1142.2 499.2,1143.4 507.6,1144.4 516.0,1145.6 524.4,1146.7 532.9,1147.2 541.3,1147.5 549.7,1147.9 558.1,1148.2 566.6,1148.7 575.0,1149.1 583.4,1149.6 591.8,1150.0 600.3,1150.5 608.7,1150.9 617.1,1151.3 625.5,1151.6 634.0,1152.0 642.4,1152.3 650.8,1152.7 659.2,1153.0 667.7,1153.3 676.1,1153.6 684.5,1153.9 692.9,1154.2 701.4,1154.5 709.8,1154.7 718.2,1155.0 726.6,1155.3 735.1,1155.5 743.5,1155.7 751.9,1156.0 760.3,1156.2 768.8,1156.4 777.2,1156.6 785.6,1156.8" fill="none" stroke="#f0f" stroke-width="1.6" stroke-linejoin="round"/><g fill="#f0f" stroke="#f0f" stroke-width="0.8"><use href="#bD" x="204.3" y="916.7"/><use href="#bD" x="229.5" y="927.1"/><use href="#bD" x="246.4" y="933.8"/><use href="#bD" x="254.8" y="937.6"/><use href="#bD" x="271.7" y="948.3"/><use href="#bD" x="280.1" y="955.4"/><use href="#bD" x="297.0" y="973.9"/><use href="#bD" x="305.4" y="983.5"/><use href="#bD" x="313.8" y="995.3"/><use href="#bD" x="322.2" y="1008.8"/><use href="#bD" x="330.6" y="1020.0"/><use href="#bD" x="339.1" y="1032.5"/><use href="#bD" x="347.5" y="1045.7"/><use href="#bD" x="355.9" y="1057.9"/><use href="#bD" x="364.4" y="1069.5"/><use href="#bD" x="372.8" y="1080.6"/><use href="#bD" x="381.2" y="1091.3"/><use href="#bD" x="389.6" y="1102.0"/><use href="#bD" x="398.1" y="1110.9"/><use href="#bD" x="406.5" y="1116.3"/><use href="#bD" x="414.9" y="1120.3"/><use href="#bD" x="423.3" y="1123.7"/><use href="#bD" x="431.8" y="1127.1"/><use href="#bD" x="440.2" y="1130.3"/><use href="#bD" x="448.6" y="1132.9"/><use href="#bD" x="457.0" y="1135.3"/><use href="#bD" x="465.5" y="1137.5"/><use href="#bD" x="473.9" y="1139.4"/><use href="#bD" x="482.3" y="1141.0"/><use href="#bD" x="490.7" y="1142.2"/><use href="#bD" x="499.2" y="1143.4"/><use href="#bD" x="507.6" y="1144.4"/><use href="#bD" x="516.0" y="1145.6"/><use href="#bD" x="524.4" y="1146.7"/><use href="#bD" x="532.9" y="1147.2"/><use href="#bD" x="541.3" y="1147.5"/><use href="#bD" x="549.7" y="1147.9"/><use href="#bD" x="558.1" y="1148.2"/><use href="#bD" x="566.6" y="1148.7"/><use href="#bD" x="575.0" y="1149.1"/><use href="#bD" x="583.4" y="1149.6"/><use href="#bD" x="591.8" y="1150.0"/><use href="#bD" x="600.3" y="1150.5"/><use href="#bD" x="608.7" y="1150.9"/><use href="#bD" x="617.1" y="1151.3"/><use href="#bD" x="625.5" y="1151.6"/><use href="#bD" x="634.0" y="1152.0"/><use href="#bD" x="642.4" y="1152.3"/><use href="#bD" x="650.8" y="1152.7"/><use href="#bD" x="659.2" y="1153.0"/><use href="#bD" x="667.7" y="1153.3"/><use href="#bD" x="676.1" y="1153.6"/><use href="#bD" x="684.5" y="1153.9"/><use href="#bD" x="692.9" y="1154.2"/><use href="#bD" x="701.4" y="1154.5"/><use href="#bD" x="709.8" y="1154.7"/><use href="#bD" x="718.2" y="1155.0"/><use href="#bD" x="726.6" y="1155.3"/><use href="#bD" x="735.1" y="1155.5"/><use href="#bD" x="743.5" y="1155.7"/><use href="#bD" x="751.9" y="1156.0"/><use href="#bD" x="760.3" y="1156.2"/><use href="#bD" x="768.8" y="1156.4"/><use href="#bD" x="777.2" y="1156.6"/><use href="#bD" x="785.6" y="1156.8"/></g><polyline points="204.3,963.6 229.5,971.1 246.4,977.8 254.8,980.8 271.7,990.7 280.1,995.6 297.0,1011.2 305.4,1018.6 313.8,1026.0 322.2,1032.0 330.6,1043.8 339.1,1054.1 347.5,1063.8 355.9,1074.1 364.4,1083.7 372.8,1092.1 381.2,1101.5 389.6,1109.8 398.1,1116.3 406.5,1121.9 414.9,1125.7 423.3,1127.3 431.8,1128.8 440.2,1131.4 448.6,1134.2 457.0,1136.7 465.5,1138.9 473.9,1141.0 482.3,1142.2 490.7,1143.5 499.2,1144.7 507.6,1145.8 516.0,1147.1 524.4,1148.1 532.9,1148.6 541.3,1148.9 549.7,1149.2 558.1,1149.6 566.6,1150.0 575.0,1150.5 583.4,1150.9 591.8,1151.4 600.3,1151.8 608.7,1152.3 617.1,1152.6 625.5,1153.0 634.0,1153.4 642.4,1153.7 650.8,1154.0 659.2,1154.4 667.7,1154.7 676.1,1155.0 684.5,1155.3 692.9,1155.6 701.4,1155.9 709.8,1156.1 718.2,1156.4 726.6,1156.6 735.1,1156.9 743.5,1157.1 751.9,1157.3 760.3,1157.6 768.8,1157.8 777.2,1158.0 785.6,1158.2" fill="none" stroke="#008000" stroke-width="1.6" stroke-linejoin="round"/><g fill="#fff" stroke="#008000" stroke-width="1.8"><use href="#bV" x="204.3" y="963.6"/><use href="#bV" x="229.5" y="971.1"/><use href="#bV" x="246.4" y="977.8"/><use href="#bV" x="254.8" y="980.8"/><use href="#bV" x="271.7" y="990.7"/><use href="#bV" x="280.1" y="995.6"/><use href="#bV" x="297.0" y="1011.2"/><use href="#bV" x="305.4" y="1018.6"/><use href="#bV" x="313.8" y="1026.0"/><use href="#bV" x="322.2" y="1032.0"/><use href="#bV" x="330.6" y="1043.8"/><use href="#bV" x="339.1" y="1054.1"/><use href="#bV" x="347.5" y="1063.8"/><use href="#bV" x="355.9" y="1074.1"/><use href="#bV" x="364.4" y="1083.7"/><use href="#bV" x="372.8" y="1092.1"/><use href="#bV" x="381.2" y="1101.5"/><use href="#bV" x="389.6" y="1109.8"/><use href="#bV" x="398.1" y="1116.3"/><use href="#bV" x="406.5" y="1121.9"/><use href="#bV" x="414.9" y="1125.7"/><use href="#bV" x="423.3" y="1127.3"/><use href="#bV" x="431.8" y="1128.8"/><use href="#bV" x="440.2" y="1131.4"/><use href="#bV" x="448.6" y="1134.2"/><use href="#bV" x="457.0" y="1136.7"/><use href="#bV" x="465.5" y="1138.9"/><use href="#bV" x="473.9" y="1141.0"/><use href="#bV" x="482.3" y="1142.2"/><use href="#bV" x="490.7" y="1143.5"/><use href="#bV" x="499.2" y="1144.7"/><use href="#bV" x="507.6" y="1145.8"/><use href="#bV" x="516.0" y="1147.1"/><use href="#bV" x="524.4" y="1148.1"/><use href="#bV" x="532.9" y="1148.6"/><use href="#bV" x="541.3" y="1148.9"/><use href="#bV" x="549.7" y="1149.2"/><use href="#bV" x="558.1" y="1149.6"/><use href="#bV" x="566.6" y="1150.0"/><use href="#bV" x="575.0" y="1150.5"/><use href="#bV" x="583.4" y="1150.9"/><use href="#bV" x="591.8" y="1151.4"/><use href="#bV" x="600.3" y="1151.8"/><use href="#bV" x="608.7" y="1152.3"/><use href="#bV" x="617.1" y="1152.6"/><use href="#bV" x="625.5" y="1153.0"/><use href="#bV" x="634.0" y="1153.4"/><use href="#bV" x="642.4" y="1153.7"/><use href="#bV" x="650.8" y="1154.0"/><use href="#bV" x="659.2" y="1154.4"/><use href="#bV" x="667.7" y="1154.7"/><use href="#bV" x="676.1" y="1155.0"/><use href="#bV" x="684.5" y="1155.3"/><use href="#bV" x="692.9" y="1155.6"/><use href="#bV" x="701.4" y="1155.9"/><use href="#bV" x="709.8" y="1156.1"/><use href="#bV" x="718.2" y="1156.4"/><use href="#bV" x="726.6" y="1156.6"/><use href="#bV" x="735.1" y="1156.9"/><use href="#bV" x="743.5" y="1157.1"/><use href="#bV" x="751.9" y="1157.3"/><use href="#bV" x="760.3" y="1157.6"/><use href="#bV" x="768.8" y="1157.8"/><use href="#bV" x="777.2" y="1158.0"/><use href="#bV" x="785.6" y="1158.2"/></g><polyline points="204.3,962.9 229.5,970.4 246.4,977.1 254.8,980.1 271.7,990.0 280.1,994.9 297.0,1010.5 305.4,1017.9 313.8,1025.3 322.2,1031.3 330.6,1043.1 339.1,1053.4 347.5,1063.1 355.9,1073.4 364.4,1083.0 372.8,1091.4 381.2,1100.8 389.6,1109.1 398.1,1115.6 406.5,1121.2 414.9,1125.0 423.3,1126.6 431.8,1128.1 440.2,1130.7 448.6,1133.5 457.0,1136.0 465.5,1138.2 473.9,1140.3 482.3,1141.5 490.7,1142.9 499.2,1144.0 507.6,1145.1 516.0,1146.4 524.4,1147.4 532.9,1147.9 541.3,1148.2 549.7,1148.6 558.1,1148.9 566.6,1149.4 575.0,1149.8 583.4,1150.2 591.8,1150.7 600.3,1151.1 608.7,1151.6 617.1,1152.0 625.5,1152.3 634.0,1152.7 642.4,1153.0 650.8,1153.4 659.2,1153.7 667.7,1154.0 676.1,1154.3 684.5,1154.6 692.9,1154.9 701.4,1155.2 709.8,1155.4 718.2,1155.7 726.6,1155.9 735.1,1156.2 743.5,1156.4 751.9,1156.7 760.3,1156.9 768.8,1157.1 777.2,1157.3 785.6,1157.5" fill="none" stroke="#008000" stroke-width="1.6" stroke-linejoin="round"/><g fill="#008000" stroke="#008000" stroke-width="0.8"><use href="#bV" x="204.3" y="962.9"/><use href="#bV" x="229.5" y="970.4"/><use href="#bV" x="246.4" y="977.1"/><use href="#bV" x="254.8" y="980.1"/><use href="#bV" x="271.7" y="990.0"/><use href="#bV" x="280.1" y="994.9"/><use href="#bV" x="297.0" y="1010.5"/><use href="#bV" x="305.4" y="1017.9"/><use href="#bV" x="313.8" y="1025.3"/><use href="#bV" x="322.2" y="1031.3"/><use href="#bV" x="330.6" y="1043.1"/><use href="#bV" x="339.1" y="1053.4"/><use href="#bV" x="347.5" y="1063.1"/><use href="#bV" x="355.9" y="1073.4"/><use href="#bV" x="364.4" y="1083.0"/><use href="#bV" x="372.8" y="1091.4"/><use href="#bV" x="381.2" y="1100.8"/><use href="#bV" x="389.6" y="1109.1"/><use href="#bV" x="398.1" y="1115.6"/><use href="#bV" x="406.5" y="1121.2"/><use href="#bV" x="414.9" y="1125.0"/><use href="#bV" x="423.3" y="1126.6"/><use href="#bV" x="431.8" y="1128.1"/><use href="#bV" x="440.2" y="1130.7"/><use href="#bV" x="448.6" y="1133.5"/><use href="#bV" x="457.0" y="1136.0"/><use href="#bV" x="465.5" y="1138.2"/><use href="#bV" x="473.9" y="1140.3"/><use href="#bV" x="482.3" y="1141.5"/><use href="#bV" x="490.7" y="1142.9"/><use href="#bV" x="499.2" y="1144.0"/><use href="#bV" x="507.6" y="1145.1"/><use href="#bV" x="516.0" y="1146.4"/><use href="#bV" x="524.4" y="1147.4"/><use href="#bV" x="532.9" y="1147.9"/><use href="#bV" x="541.3" y="1148.2"/><use href="#bV" x="549.7" y="1148.6"/><use href="#bV" x="558.1" y="1148.9"/><use href="#bV" x="566.6" y="1149.4"/><use href="#bV" x="575.0" y="1149.8"/><use href="#bV" x="583.4" y="1150.2"/><use href="#bV" x="591.8" y="1150.7"/><use href="#bV" x="600.3" y="1151.1"/><use href="#bV" x="608.7" y="1151.6"/><use href="#bV" x="617.1" y="1152.0"/><use href="#bV" x="625.5" y="1152.3"/><use href="#bV" x="634.0" y="1152.7"/><use href="#bV" x="642.4" y="1153.0"/><use href="#bV" x="650.8" y="1153.4"/><use href="#bV" x="659.2" y="1153.7"/><use href="#bV" x="667.7" y="1154.0"/><use href="#bV" x="676.1" y="1154.3"/><use href="#bV" x="684.5" y="1154.6"/><use href="#bV" x="692.9" y="1154.9"/><use href="#bV" x="701.4" y="1155.2"/><use href="#bV" x="709.8" y="1155.4"/><use href="#bV" x="718.2" y="1155.7"/><use href="#bV" x="726.6" y="1155.9"/><use href="#bV" x="735.1" y="1156.2"/><use href="#bV" x="743.5" y="1156.4"/><use href="#bV" x="751.9" y="1156.7"/><use href="#bV" x="760.3" y="1156.9"/><use href="#bV" x="768.8" y="1157.1"/><use href="#bV" x="777.2" y="1157.3"/><use href="#bV" x="785.6" y="1157.5"/></g><polyline points="204.3,1104.1 229.5,1105.6 246.4,1107.1 254.8,1107.8 271.7,1110.0 280.1,1110.6 297.0,1113.5 305.4,1114.5 313.8,1115.8 322.2,1117.2 330.6,1119.0 339.1,1120.3 347.5,1121.8 355.9,1123.3 364.4,1124.4 372.8,1125.8 381.2,1127.3 389.6,1128.7 398.1,1130.2 406.5,1131.7 414.9,1133.2 423.3,1134.7 431.8,1136.4 440.2,1138.2 448.6,1139.8 457.0,1141.1 465.5,1142.4 473.9,1143.5 482.3,1144.6 490.7,1145.6 499.2,1146.4 507.6,1147.3 516.0,1148.0 524.4,1148.8 532.9,1149.5 541.3,1150.2 549.7,1150.8 558.1,1151.4 566.6,1151.9 575.0,1152.4 583.4,1152.9 591.8,1153.3 600.3,1153.7 608.7,1154.1 617.1,1154.5 625.5,1154.8 634.0,1155.2 642.4,1155.6 650.8,1155.9 659.2,1156.2 667.7,1156.5 676.1,1156.8 684.5,1157.1 692.9,1157.4 701.4,1157.7 709.8,1158.0 718.2,1158.2 726.6,1158.5 735.1,1158.7 743.5,1159.0 751.9,1159.2 760.3,1159.4 768.8,1159.6 777.2,1159.8 785.6,1160.0" fill="none" stroke="#8000ff" stroke-width="1.6" stroke-linejoin="round"/><g fill="#fff" stroke="#8000ff" stroke-width="1.8"><use href="#bX" x="204.3" y="1104.1"/><use href="#bX" x="229.5" y="1105.6"/><use href="#bX" x="246.4" y="1107.1"/><use href="#bX" x="254.8" y="1107.8"/><use href="#bX" x="271.7" y="1110.0"/><use href="#bX" x="280.1" y="1110.6"/><use href="#bX" x="297.0" y="1113.5"/><use href="#bX" x="305.4" y="1114.5"/><use href="#bX" x="313.8" y="1115.8"/><use href="#bX" x="322.2" y="1117.2"/><use href="#bX" x="330.6" y="1119.0"/><use href="#bX" x="339.1" y="1120.3"/><use href="#bX" x="347.5" y="1121.8"/><use href="#bX" x="355.9" y="1123.3"/><use href="#bX" x="364.4" y="1124.4"/><use href="#bX" x="372.8" y="1125.8"/><use href="#bX" x="381.2" y="1127.3"/><use href="#bX" x="389.6" y="1128.7"/><use href="#bX" x="398.1" y="1130.2"/><use href="#bX" x="406.5" y="1131.7"/><use href="#bX" x="414.9" y="1133.2"/><use href="#bX" x="423.3" y="1134.7"/><use href="#bX" x="431.8" y="1136.4"/><use href="#bX" x="440.2" y="1138.2"/><use href="#bX" x="448.6" y="1139.8"/><use href="#bX" x="457.0" y="1141.1"/><use href="#bX" x="465.5" y="1142.4"/><use href="#bX" x="473.9" y="1143.5"/><use href="#bX" x="482.3" y="1144.6"/><use href="#bX" x="490.7" y="1145.6"/><use href="#bX" x="499.2" y="1146.4"/><use href="#bX" x="507.6" y="1147.3"/><use href="#bX" x="516.0" y="1148.0"/><use href="#bX" x="524.4" y="1148.8"/><use href="#bX" x="532.9" y="1149.5"/><use href="#bX" x="541.3" y="1150.2"/><use href="#bX" x="549.7" y="1150.8"/><use href="#bX" x="558.1" y="1151.4"/><use href="#bX" x="566.6" y="1151.9"/><use href="#bX" x="575.0" y="1152.4"/><use href="#bX" x="583.4" y="1152.9"/><use href="#bX" x="591.8" y="1153.3"/><use href="#bX" x="600.3" y="1153.7"/><use href="#bX" x="608.7" y="1154.1"/><use href="#bX" x="617.1" y="1154.5"/><use href="#bX" x="625.5" y="1154.8"/><use href="#bX" x="634.0" y="1155.2"/><use href="#bX" x="642.4" y="1155.6"/><use href="#bX" x="650.8" y="1155.9"/><use href="#bX" x="659.2" y="1156.2"/><use href="#bX" x="667.7" y="1156.5"/><use href="#bX" x="676.1" y="1156.8"/><use href="#bX" x="684.5" y="1157.1"/><use href="#bX" x="692.9" y="1157.4"/><use href="#bX" x="701.4" y="1157.7"/><use href="#bX" x="709.8" y="1158.0"/><use href="#bX" x="718.2" y="1158.2"/><use href="#bX" x="726.6" y="1158.5"/><use href="#bX" x="735.1" y="1158.7"/><use href="#bX" x="743.5" y="1159.0"/><use href="#bX" x="751.9" y="1159.2"/><use href="#bX" x="760.3" y="1159.4"/><use href="#bX" x="768.8" y="1159.6"/><use href="#bX" x="777.2" y="1159.8"/><use href="#bX" x="785.6" y="1160.0"/></g><polyline points="204.3,1103.2 229.5,1104.7 246.4,1106.2 254.8,1106.9 271.7,1109.1 280.1,1109.7 297.0,1112.6 305.4,1113.6 313.8,1114.8 322.2,1116.2 330.6,1118.1 339.1,1119.4 347.5,1120.9 355.9,1122.3 364.4,1123.5 372.8,1124.9 381.2,1126.4 389.6,1127.8 398.1,1129.3 406.5,1130.7 414.9,1132.2 423.3,1133.7 431.8,1135.5 440.2,1137.2 448.6,1138.9 457.0,1140.2 465.5,1141.5 473.9,1142.6 482.3,1143.7 490.7,1144.6 499.2,1145.5 507.6,1146.3 516.0,1147.1 524.4,1147.9 532.9,1148.6 541.3,1149.3 549.7,1149.9 558.1,1150.5 566.6,1151.0 575.0,1151.5 583.4,1152.0 591.8,1152.4 600.3,1152.8 608.7,1153.2 617.1,1153.6 625.5,1153.9 634.0,1154.3 642.4,1154.6 650.8,1155.0 659.2,1155.3 667.7,1155.6 676.1,1155.9 684.5,1156.2 692.9,1156.5 701.4,1156.8 709.8,1157.0 718.2,1157.3 726.6,1157.6 735.1,1157.8 743.5,1158.0 751.9,1158.3 760.3,1158.5 768.8,1158.7 777.2,1158.9 785.6,1159.1" fill="none" stroke="#8000ff" stroke-width="1.6" stroke-linejoin="round"/><g fill="#8000ff" stroke="#8000ff" stroke-width="0.8"><use href="#bX" x="204.3" y="1103.2"/><use href="#bX" x="229.5" y="1104.7"/><use href="#bX" x="246.4" y="1106.2"/><use href="#bX" x="254.8" y="1106.9"/><use href="#bX" x="271.7" y="1109.1"/><use href="#bX" x="280.1" y="1109.7"/><use href="#bX" x="297.0" y="1112.6"/><use href="#bX" x="305.4" y="1113.6"/><use href="#bX" x="313.8" y="1114.8"/><use href="#bX" x="322.2" y="1116.2"/><use href="#bX" x="330.6" y="1118.1"/><use href="#bX" x="339.1" y="1119.4"/><use href="#bX" x="347.5" y="1120.9"/><use href="#bX" x="355.9" y="1122.3"/><use href="#bX" x="364.4" y="1123.5"/><use href="#bX" x="372.8" y="1124.9"/><use href="#bX" x="381.2" y="1126.4"/><use href="#bX" x="389.6" y="1127.8"/><use href="#bX" x="398.1" y="1129.3"/><use href="#bX" x="406.5" y="1130.7"/><use href="#bX" x="414.9" y="1132.2"/><use href="#bX" x="423.3" y="1133.7"/><use href="#bX" x="431.8" y="1135.5"/><use href="#bX" x="440.2" y="1137.2"/><use href="#bX" x="448.6" y="1138.9"/><use href="#bX" x="457.0" y="1140.2"/><use href="#bX" x="465.5" y="1141.5"/><use href="#bX" x="473.9" y="1142.6"/><use href="#bX" x="482.3" y="1143.7"/><use href="#bX" x="490.7" y="1144.6"/><use href="#bX" x="499.2" y="1145.5"/><use href="#bX" x="507.6" y="1146.3"/><use href="#bX" x="516.0" y="1147.1"/><use href="#bX" x="524.4" y="1147.9"/><use href="#bX" x="532.9" y="1148.6"/><use href="#bX" x="541.3" y="1149.3"/><use href="#bX" x="549.7" y="1149.9"/><use href="#bX" x="558.1" y="1150.5"/><use href="#bX" x="566.6" y="1151.0"/><use href="#bX" x="575.0" y="1151.5"/><use href="#bX" x="583.4" y="1152.0"/><use href="#bX" x="591.8" y="1152.4"/><use href="#bX" x="600.3" y="1152.8"/><use href="#bX" x="608.7" y="1153.2"/><use href="#bX" x="617.1" y="1153.6"/><use href="#bX" x="625.5" y="1153.9"/><use href="#bX" x="634.0" y="1154.3"/><use href="#bX" x="642.4" y="1154.6"/><use href="#bX" x="650.8" y="1155.0"/><use href="#bX" x="659.2" y="1155.3"/><use href="#bX" x="667.7" y="1155.6"/><use href="#bX" x="676.1" y="1155.9"/><use href="#bX" x="684.5" y="1156.2"/><use href="#bX" x="692.9" y="1156.5"/><use href="#bX" x="701.4" y="1156.8"/><use href="#bX" x="709.8" y="1157.0"/><use href="#bX" x="718.2" y="1157.3"/><use href="#bX" x="726.6" y="1157.6"/><use href="#bX" x="735.1" y="1157.8"/><use href="#bX" x="743.5" y="1158.0"/><use href="#bX" x="751.9" y="1158.3"/><use href="#bX" x="760.3" y="1158.5"/><use href="#bX" x="768.8" y="1158.7"/><use href="#bX" x="777.2" y="1158.9"/><use href="#bX" x="785.6" y="1159.1"/></g></g><text x="455.0" y="791.9" font-size="27">ZFC</text><text x="658.8" y="791.9" font-size="27">FC</text><path d="M407.2 817.2H422M442 817.2H456.6" stroke="#000" stroke-width="1.6"/><g transform="translate(431.9 817.2) scale(1.54)" fill="#fff" stroke="#000" stroke-width="1.43"><use href="#bS"/></g><text x="463.2" y="824.8" font-size="27.1" xml:space="preserve">0.1kOe</text><path d="M573.9 817.2H622.7" stroke="#000" stroke-width="1.6"/><g transform="translate(598 817.2) scale(1.54)" fill="#000" stroke="#000" stroke-width="0.52"><use href="#bS"/></g><text x="629.0" y="824.8" font-size="27.1">0.1kOe</text><path d="M407.2 850.4H422M442 850.4H456.6" stroke="#f00" stroke-width="1.6"/><g transform="translate(431.9 850.4) scale(1.6)" fill="#fff" stroke="#f00" stroke-width="1.38"><use href="#bC"/></g><text x="463.2" y="858.0" font-size="27.1" xml:space="preserve">0.3kOe</text><path d="M573.9 850.4H622.7" stroke="#f00" stroke-width="1.6"/><g transform="translate(598 850.4) scale(1.6)" fill="#f00" stroke="#f00" stroke-width="0.50"><use href="#bC"/></g><text x="629.0" y="858.0" font-size="27.1">0.3kOe</text><path d="M407.2 883.5H422M442 883.5H456.6" stroke="#00f" stroke-width="1.6"/><g transform="translate(431.9 883.5) scale(1.7)" fill="#fff" stroke="#00f" stroke-width="1.29"><use href="#bT"/></g><text x="463.2" y="891.1" font-size="27.1" xml:space="preserve">0.5kOe</text><path d="M573.9 883.5H622.7" stroke="#00f" stroke-width="1.6"/><g transform="translate(598 883.5) scale(1.7)" fill="#00f" stroke="#00f" stroke-width="0.47"><use href="#bT"/></g><text x="629.0" y="891.1" font-size="27.1">0.5kOe</text><path d="M407.2 916.7H422M442 916.7H456.6" stroke="#f0f" stroke-width="1.6"/><g transform="translate(431.9 916.7) scale(1.75)" fill="#fff" stroke="#f0f" stroke-width="1.26"><use href="#bD"/></g><text x="463.2" y="924.3" font-size="27.1" xml:space="preserve">0.7kOe</text><path d="M573.9 916.7H622.7" stroke="#f0f" stroke-width="1.6"/><g transform="translate(598 916.7) scale(1.75)" fill="#f0f" stroke="#f0f" stroke-width="0.46"><use href="#bD"/></g><text x="629.0" y="924.3" font-size="27.1">0.7kOe</text><path d="M407.2 949.8H422M442 949.8H456.6" stroke="#008000" stroke-width="1.6"/><g transform="translate(431.9 949.8) scale(1.7)" fill="#fff" stroke="#008000" stroke-width="1.29"><use href="#bV"/></g><text x="463.2" y="957.4" font-size="27.1" xml:space="preserve"> 1kOe</text><path d="M573.9 949.8H622.7" stroke="#008000" stroke-width="1.6"/><g transform="translate(598 949.8) scale(1.7)" fill="#008000" stroke="#008000" stroke-width="0.47"><use href="#bV"/></g><text x="629.0" y="957.4" font-size="27.1">1kOe</text><path d="M407.2 983.0H422M442 983.0H456.6" stroke="#8000ff" stroke-width="1.6"/><g transform="translate(431.9 983.0) scale(1.58)" fill="#fff" stroke="#8000ff" stroke-width="1.39"><use href="#bX"/></g><text x="463.2" y="990.6" font-size="27.1" xml:space="preserve"> 5kOe</text><path d="M573.9 983.0H622.7" stroke="#8000ff" stroke-width="1.6"/><g transform="translate(598 983.0) scale(1.58)" fill="#8000ff" stroke="#8000ff" stroke-width="0.51"><use href="#bX"/></g><text x="629.0" y="990.6" font-size="27.1">5kOe</text><rect x="950.90" y="660.60" width="674.70" height="505.60" fill="none" stroke="#000" stroke-width="3.8" stroke-linejoin="miter"/><path d="M1063.35 1166.20v-12.5M1063.35 660.60v12.5M1175.80 1166.20v-12.5M1175.80 660.60v12.5M1288.25 1166.20v-12.5M1288.25 660.60v12.5M1400.70 1166.20v-12.5M1400.70 660.60v12.5M1513.15 1166.20v-12.5M1513.15 660.60v12.5" stroke="#000" stroke-width="3.6" stroke-linecap="round" fill="none"/><path d="M1007.12 1166.20v-7.5M1007.12 660.60v7.5M1119.58 1166.20v-7.5M1119.58 660.60v7.5M1232.02 1166.20v-7.5M1232.02 660.60v7.5M1344.47 1166.20v-7.5M1344.47 660.60v7.5M1456.92 1166.20v-7.5M1456.92 660.60v7.5M1569.38 1166.20v-7.5M1569.38 660.60v7.5" stroke="#000" stroke-width="3.6" stroke-linecap="round" fill="none"/><path d="M950.90 1039.80h12.5M1625.60 1039.80h-12.5M950.90 913.40h12.5M1625.60 913.40h-12.5M950.90 787.00h12.5M1625.60 787.00h-12.5" stroke="#000" stroke-width="3.6" stroke-linecap="round" fill="none"/><path d="M950.90 1103.00h7.5M1625.60 1103.00h-7.5M950.90 976.60h7.5M1625.60 976.60h-7.5M950.90 850.20h7.5M1625.60 850.20h-7.5M950.90 723.80h7.5M1625.60 723.80h-7.5" stroke="#000" stroke-width="3.6" stroke-linecap="round" fill="none"/><text x="950.9" y="1205.4" font-size="37.5" text-anchor="middle">0</text><text x="1063.3" y="1205.4" font-size="37.5" text-anchor="middle">50</text><text x="1175.8" y="1205.4" font-size="37.5" text-anchor="middle">100</text><text x="1288.2" y="1205.4" font-size="37.5" text-anchor="middle">150</text><text x="1400.7" y="1205.4" font-size="37.5" text-anchor="middle">200</text><text x="1513.1" y="1205.4" font-size="37.5" text-anchor="middle">250</text><text x="1625.6" y="1205.4" font-size="37.5" text-anchor="middle">300</text><text x="937.5" y="1176.9" font-size="37.5" text-anchor="end">0</text><text x="937.5" y="1050.5" font-size="37.5" text-anchor="end">20</text><text x="937.5" y="924.1" font-size="37.5" text-anchor="end">40</text><text x="937.5" y="797.7" font-size="37.5" text-anchor="end">60</text><text x="937.5" y="671.3" font-size="37.5" text-anchor="end">80</text><text x="1294.4" y="1265.8" font-size="38.4" text-anchor="middle">T (K)</text><text transform="translate(870.5,1025.2) rotate(-90)" font-size="38.4">&#967;<tspan font-size="22" dy="-20.8" dx="0">-1</tspan><tspan dy="20.8"> (mole-Oe/emu)</tspan></text><text x="1017.0" y="719.2" font-size="33">(c)</text><g clip-path="url(#clC)"><g fill="#f00"><use href="#cS" x="955.4" y="1165.9"/><use href="#cS" x="956.5" y="1165.9"/><use href="#cS" x="957.6" y="1165.9"/><use href="#cS" x="958.8" y="1165.9"/><use href="#cS" x="959.9" y="1165.8"/><use href="#cS" x="961.0" y="1165.8"/><use href="#cS" x="962.1" y="1165.7"/><use href="#cS" x="963.3" y="1165.6"/><use href="#cS" x="964.4" y="1164.9"/><use href="#cS" x="965.5" y="1164.1"/><use href="#cS" x="966.6" y="1163.3"/><use href="#cS" x="967.8" y="1162.7"/><use href="#cS" x="968.9" y="1161.9"/><use href="#cS" x="970.0" y="1159.1"/><use href="#cS" x="971.1" y="1158.4"/><use href="#cS" x="972.3" y="1157.7"/><use href="#cS" x="973.4" y="1157.2"/><use href="#cS" x="975.6" y="1156.1"/><use href="#cS" x="977.9" y="1155.0"/><use href="#cS" x="980.1" y="1153.8"/><use href="#cS" x="982.4" y="1152.5"/><use href="#cS" x="984.6" y="1151.0"/><use href="#cS" x="986.9" y="1149.5"/><use href="#cS" x="989.1" y="1147.9"/><use href="#cS" x="991.4" y="1146.4"/><use href="#cS" x="993.6" y="1144.8"/><use href="#cS" x="995.9" y="1143.3"/><use href="#cS" x="998.1" y="1141.9"/><use href="#cS" x="1000.4" y="1140.4"/><use href="#cS" x="1002.6" y="1139.0"/><use href="#cS" x="1004.9" y="1137.6"/><use href="#cS" x="1007.1" y="1136.3"/><use href="#cS" x="1009.4" y="1135.0"/><use href="#cS" x="1011.6" y="1133.8"/><use href="#cS" x="1013.9" y="1132.6"/><use href="#cS" x="1016.1" y="1131.5"/><use href="#cS" x="1018.4" y="1130.3"/><use href="#cS" x="1020.6" y="1129.1"/><use href="#cS" x="1022.9" y="1127.9"/><use href="#cS" x="1025.1" y="1126.8"/><use href="#cS" x="1027.4" y="1125.6"/><use href="#cS" x="1029.6" y="1124.5"/><use href="#cS" x="1031.9" y="1123.3"/><use href="#cS" x="1034.1" y="1122.2"/><use href="#cS" x="1036.4" y="1121.1"/><use href="#cS" x="1038.6" y="1120.0"/><use href="#cS" x="1040.9" y="1118.9"/><use href="#cS" x="1043.1" y="1117.8"/><use href="#cS" x="1045.4" y="1116.8"/><use href="#cS" x="1047.6" y="1115.7"/><use href="#cS" x="1049.9" y="1114.6"/><use href="#cS" x="1052.1" y="1113.5"/><use href="#cS" x="1054.4" y="1112.4"/><use href="#cS" x="1056.6" y="1111.3"/><use href="#cS" x="1058.9" y="1110.1"/><use href="#cS" x="1061.1" y="1108.9"/><use href="#cS" x="1063.3" y="1107.8"/><use href="#cS" x="1065.6" y="1106.6"/><use href="#cS" x="1067.8" y="1105.6"/><use href="#cS" x="1070.1" y="1104.5"/><use href="#cS" x="1072.3" y="1103.5"/><use href="#cS" x="1074.6" y="1102.5"/><use href="#cS" x="1076.8" y="1101.5"/><use href="#cS" x="1079.1" y="1100.6"/><use href="#cS" x="1081.3" y="1099.6"/><use href="#cS" x="1083.6" y="1098.7"/><use href="#cS" x="1085.8" y="1097.7"/><use href="#cS" x="1088.1" y="1096.8"/><use href="#cS" x="1090.3" y="1095.8"/><use href="#cS" x="1092.6" y="1094.9"/><use href="#cS" x="1094.8" y="1093.9"/><use href="#cS" x="1097.1" y="1093.0"/><use href="#cS" x="1099.3" y="1092.1"/><use href="#cS" x="1101.6" y="1091.2"/><use href="#cS" x="1103.8" y="1090.2"/><use href="#cS" x="1106.1" y="1089.3"/><use href="#cS" x="1108.3" y="1088.4"/><use href="#cS" x="1110.6" y="1087.4"/><use href="#cS" x="1112.8" y="1086.4"/><use href="#cS" x="1115.1" y="1085.4"/><use href="#cS" x="1117.3" y="1084.4"/><use href="#cS" x="1119.6" y="1083.3"/><use href="#cS" x="1121.8" y="1082.2"/><use href="#cS" x="1124.1" y="1081.2"/><use href="#cS" x="1126.3" y="1080.1"/><use href="#cS" x="1128.6" y="1078.9"/><use href="#cS" x="1130.8" y="1077.8"/><use href="#cS" x="1133.1" y="1076.7"/><use href="#cS" x="1135.3" y="1075.6"/><use href="#cS" x="1137.6" y="1074.4"/><use href="#cS" x="1139.8" y="1073.3"/><use href="#cS" x="1142.1" y="1072.1"/><use href="#cS" x="1144.3" y="1070.9"/><use href="#cS" x="1146.6" y="1069.8"/><use href="#cS" x="1148.8" y="1068.6"/><use href="#cS" x="1151.1" y="1067.4"/><use href="#cS" x="1153.3" y="1066.2"/><use href="#cS" x="1155.6" y="1064.9"/><use href="#cS" x="1157.8" y="1063.6"/><use href="#cS" x="1160.1" y="1062.3"/><use href="#cS" x="1162.3" y="1061.0"/><use href="#cS" x="1164.6" y="1059.6"/><use href="#cS" x="1166.8" y="1058.3"/><use href="#cS" x="1169.1" y="1056.9"/><use href="#cS" x="1171.3" y="1055.4"/><use href="#cS" x="1173.6" y="1054.0"/><use href="#cS" x="1175.8" y="1052.4"/><use href="#cS" x="1178.0" y="1050.8"/><use href="#cS" x="1180.3" y="1049.2"/><use href="#cS" x="1182.5" y="1047.4"/><use href="#cS" x="1184.8" y="1045.5"/><use href="#cS" x="1187.0" y="1043.4"/><use href="#cS" x="1189.3" y="1041.2"/><use href="#cS" x="1191.5" y="1039.0"/><use href="#cS" x="1193.8" y="1036.9"/><use href="#cS" x="1196.0" y="1034.9"/><use href="#cS" x="1198.3" y="1032.9"/><use href="#cS" x="1200.5" y="1030.8"/><use href="#cS" x="1202.8" y="1028.6"/><use href="#cS" x="1205.0" y="1026.2"/><use href="#cS" x="1207.3" y="1023.6"/><use href="#cS" x="1209.5" y="1020.8"/><use href="#cS" x="1211.8" y="1017.7"/><use href="#cS" x="1214.0" y="1014.1"/><use href="#cS" x="1216.3" y="1010.3"/><use href="#cS" x="1218.5" y="1006.3"/><use href="#cS" x="1220.8" y="1002.3"/><use href="#cS" x="1223.0" y="997.7"/><use href="#cS" x="1225.3" y="992.5"/><use href="#cS" x="1227.5" y="986.9"/><use href="#cS" x="1229.8" y="980.8"/><use href="#cS" x="1232.0" y="974.9"/><use href="#cS" x="1234.3" y="969.6"/><use href="#cS" x="1236.5" y="965.8"/><use href="#cS" x="1238.8" y="962.5"/><use href="#cS" x="1241.0" y="959.4"/><use href="#cS" x="1243.3" y="956.5"/><use href="#cS" x="1245.5" y="953.9"/><use href="#cS" x="1247.8" y="951.4"/><use href="#cS" x="1250.0" y="949.0"/><use href="#cS" x="1252.3" y="946.7"/><use href="#cS" x="1254.5" y="944.6"/><use href="#cS" x="1256.8" y="942.6"/><use href="#cS" x="1259.0" y="940.8"/><use href="#cS" x="1261.3" y="939.2"/><use href="#cS" x="1263.5" y="937.7"/><use href="#cS" x="1265.8" y="936.2"/><use href="#cS" x="1268.0" y="934.8"/><use href="#cS" x="1270.3" y="933.3"/><use href="#cS" x="1272.5" y="931.9"/><use href="#cS" x="1274.8" y="930.4"/><use href="#cS" x="1277.0" y="929.0"/><use href="#cS" x="1279.3" y="927.6"/><use href="#cS" x="1281.5" y="926.1"/><use href="#cS" x="1283.8" y="924.7"/><use href="#cS" x="1286.0" y="923.2"/><use href="#cS" x="1288.2" y="921.7"/><use href="#cS" x="1290.5" y="920.2"/><use href="#cS" x="1292.7" y="918.7"/><use href="#cS" x="1295.0" y="917.1"/><use href="#cS" x="1297.2" y="915.4"/><use href="#cS" x="1299.5" y="913.7"/><use href="#cS" x="1301.7" y="912.0"/><use href="#cS" x="1304.0" y="910.3"/><use href="#cS" x="1306.2" y="908.6"/><use href="#cS" x="1308.5" y="906.9"/><use href="#cS" x="1310.7" y="905.3"/><use href="#cS" x="1313.0" y="903.7"/><use href="#cS" x="1315.2" y="902.1"/><use href="#cS" x="1317.5" y="900.5"/><use href="#cS" x="1319.7" y="899.0"/><use href="#cS" x="1322.0" y="897.4"/><use href="#cS" x="1324.2" y="895.9"/><use href="#cS" x="1326.5" y="894.4"/><use href="#cS" x="1328.7" y="892.8"/><use href="#cS" x="1331.0" y="891.3"/><use href="#cS" x="1333.2" y="889.7"/><use href="#cS" x="1335.5" y="888.2"/><use href="#cS" x="1337.7" y="886.6"/><use href="#cS" x="1340.0" y="885.0"/><use href="#cS" x="1342.2" y="883.5"/><use href="#cS" x="1344.5" y="881.9"/><use href="#cS" x="1346.7" y="880.3"/><use href="#cS" x="1349.0" y="878.8"/><use href="#cS" x="1351.2" y="877.2"/><use href="#cS" x="1353.5" y="875.6"/><use href="#cS" x="1355.7" y="874.0"/><use href="#cS" x="1358.0" y="872.5"/><use href="#cS" x="1360.2" y="870.9"/><use href="#cS" x="1362.5" y="869.3"/><use href="#cS" x="1364.7" y="867.8"/><use href="#cS" x="1367.0" y="866.2"/><use href="#cS" x="1369.2" y="864.6"/><use href="#cS" x="1371.5" y="863.0"/><use href="#cS" x="1373.7" y="861.5"/><use href="#cS" x="1376.0" y="859.9"/><use href="#cS" x="1378.2" y="858.3"/><use href="#cS" x="1380.5" y="856.7"/><use href="#cS" x="1382.7" y="855.2"/><use href="#cS" x="1385.0" y="853.6"/><use href="#cS" x="1387.2" y="852.0"/><use href="#cS" x="1389.5" y="850.5"/><use href="#cS" x="1391.7" y="848.9"/><use href="#cS" x="1394.0" y="847.4"/><use href="#cS" x="1396.2" y="845.8"/><use href="#cS" x="1398.5" y="844.3"/><use href="#cS" x="1400.7" y="842.7"/><use href="#cS" x="1402.9" y="841.2"/><use href="#cS" x="1405.2" y="839.7"/><use href="#cS" x="1407.4" y="838.1"/><use href="#cS" x="1409.7" y="836.6"/><use href="#cS" x="1411.9" y="835.1"/><use href="#cS" x="1414.2" y="833.5"/><use href="#cS" x="1416.4" y="832.0"/><use href="#cS" x="1418.7" y="830.5"/><use href="#cS" x="1420.9" y="829.0"/><use href="#cS" x="1423.2" y="827.5"/><use href="#cS" x="1425.4" y="825.9"/><use href="#cS" x="1427.7" y="824.4"/><use href="#cS" x="1429.9" y="822.9"/><use href="#cS" x="1432.2" y="821.4"/><use href="#cS" x="1434.4" y="819.9"/><use href="#cS" x="1436.7" y="818.3"/><use href="#cS" x="1438.9" y="816.8"/><use href="#cS" x="1441.2" y="815.3"/><use href="#cS" x="1443.4" y="813.8"/><use href="#cS" x="1445.7" y="812.3"/><use href="#cS" x="1447.9" y="810.8"/><use href="#cS" x="1450.2" y="809.2"/><use href="#cS" x="1452.4" y="807.7"/><use href="#cS" x="1454.7" y="806.2"/><use href="#cS" x="1456.9" y="804.7"/><use href="#cS" x="1459.2" y="803.2"/><use href="#cS" x="1461.4" y="801.6"/><use href="#cS" x="1463.7" y="800.1"/><use href="#cS" x="1465.9" y="798.6"/><use href="#cS" x="1468.2" y="797.1"/><use href="#cS" x="1470.4" y="795.6"/><use href="#cS" x="1472.7" y="794.1"/><use href="#cS" x="1474.9" y="792.6"/><use href="#cS" x="1477.2" y="791.0"/><use href="#cS" x="1479.4" y="789.5"/><use href="#cS" x="1481.7" y="788.0"/><use href="#cS" x="1483.9" y="786.5"/><use href="#cS" x="1486.2" y="785.0"/><use href="#cS" x="1488.4" y="783.5"/><use href="#cS" x="1490.7" y="782.0"/><use href="#cS" x="1492.9" y="780.5"/><use href="#cS" x="1495.2" y="779.0"/><use href="#cS" x="1497.4" y="777.4"/><use href="#cS" x="1499.7" y="775.9"/><use href="#cS" x="1501.9" y="774.4"/><use href="#cS" x="1504.2" y="772.9"/><use href="#cS" x="1506.4" y="771.4"/><use href="#cS" x="1508.7" y="769.9"/><use href="#cS" x="1510.9" y="768.4"/><use href="#cS" x="1513.1" y="767.0"/><use href="#cS" x="1515.4" y="765.5"/><use href="#cS" x="1517.6" y="764.0"/><use href="#cS" x="1519.9" y="762.5"/><use href="#cS" x="1522.1" y="761.0"/><use href="#cS" x="1524.4" y="759.5"/><use href="#cS" x="1526.6" y="758.0"/><use href="#cS" x="1528.9" y="756.5"/><use href="#cS" x="1531.1" y="755.1"/><use href="#cS" x="1533.4" y="753.6"/><use href="#cS" x="1535.6" y="752.1"/><use href="#cS" x="1537.9" y="750.6"/><use href="#cS" x="1540.1" y="749.2"/><use href="#cS" x="1542.4" y="747.7"/><use href="#cS" x="1544.6" y="746.2"/><use href="#cS" x="1546.9" y="744.8"/><use href="#cS" x="1549.1" y="743.3"/><use href="#cS" x="1551.4" y="741.9"/><use href="#cS" x="1553.6" y="740.4"/><use href="#cS" x="1555.9" y="739.0"/><use href="#cS" x="1558.1" y="737.5"/><use href="#cS" x="1560.4" y="736.1"/><use href="#cS" x="1562.6" y="734.7"/><use href="#cS" x="1564.9" y="733.2"/><use href="#cS" x="1567.1" y="731.8"/><use href="#cS" x="1569.4" y="730.4"/><use href="#cS" x="1571.6" y="729.0"/><use href="#cS" x="1573.9" y="727.5"/><use href="#cS" x="1576.1" y="726.1"/><use href="#cS" x="1578.4" y="724.7"/><use href="#cS" x="1580.6" y="723.3"/><use href="#cS" x="1582.9" y="721.9"/><use href="#cS" x="1585.1" y="720.4"/><use href="#cS" x="1587.4" y="719.0"/><use href="#cS" x="1589.6" y="717.6"/><use href="#cS" x="1591.9" y="716.2"/><use href="#cS" x="1594.1" y="714.7"/><use href="#cS" x="1596.4" y="713.3"/><use href="#cS" x="1598.6" y="711.9"/><use href="#cS" x="1600.9" y="710.5"/><use href="#cS" x="1603.1" y="709.0"/><use href="#cS" x="1605.4" y="707.6"/><use href="#cS" x="1607.6" y="706.2"/><use href="#cS" x="1609.9" y="704.7"/><use href="#cS" x="1612.1" y="703.3"/><use href="#cS" x="1614.4" y="701.8"/><use href="#cS" x="1616.6" y="700.4"/><use href="#cS" x="1618.9" y="699.0"/><use href="#cS" x="1621.1" y="697.6"/><use href="#cS" x="1623.4" y="696.1"/><use href="#cS" x="1625.6" y="694.7"/></g><g fill="#00f"><use href="#cC" x="955.4" y="1163.1"/><use href="#cC" x="956.5" y="1163.1"/><use href="#cC" x="957.6" y="1163.1"/><use href="#cC" x="958.8" y="1163.1"/><use href="#cC" x="959.9" y="1163.1"/><use href="#cC" x="961.0" y="1163.0"/><use href="#cC" x="962.1" y="1162.8"/><use href="#cC" x="963.3" y="1162.5"/><use href="#cC" x="964.4" y="1162.2"/><use href="#cC" x="965.5" y="1161.9"/><use href="#cC" x="966.6" y="1161.6"/><use href="#cC" x="967.8" y="1161.2"/><use href="#cC" x="968.9" y="1160.8"/><use href="#cC" x="970.0" y="1160.3"/><use href="#cC" x="971.1" y="1159.7"/><use href="#cC" x="972.3" y="1159.0"/><use href="#cC" x="973.4" y="1158.4"/><use href="#cC" x="975.6" y="1156.8"/><use href="#cC" x="977.9" y="1155.1"/><use href="#cC" x="980.1" y="1153.4"/><use href="#cC" x="982.4" y="1151.7"/><use href="#cC" x="984.6" y="1150.2"/><use href="#cC" x="986.9" y="1148.8"/><use href="#cC" x="989.1" y="1147.5"/><use href="#cC" x="991.4" y="1146.1"/><use href="#cC" x="993.6" y="1144.7"/><use href="#cC" x="995.9" y="1143.1"/><use href="#cC" x="998.1" y="1141.5"/><use href="#cC" x="1000.4" y="1139.9"/><use href="#cC" x="1002.6" y="1138.2"/><use href="#cC" x="1004.9" y="1136.4"/><use href="#cC" x="1007.1" y="1134.7"/><use href="#cC" x="1009.4" y="1132.9"/><use href="#cC" x="1011.6" y="1131.1"/><use href="#cC" x="1013.9" y="1129.4"/><use href="#cC" x="1016.1" y="1127.7"/><use href="#cC" x="1018.4" y="1126.0"/><use href="#cC" x="1020.6" y="1124.3"/><use href="#cC" x="1022.9" y="1122.7"/><use href="#cC" x="1025.1" y="1121.0"/><use href="#cC" x="1027.4" y="1119.4"/><use href="#cC" x="1029.6" y="1117.7"/><use href="#cC" x="1031.9" y="1116.1"/><use href="#cC" x="1034.1" y="1114.5"/><use href="#cC" x="1036.4" y="1112.9"/><use href="#cC" x="1038.6" y="1111.4"/><use href="#cC" x="1040.9" y="1109.8"/><use href="#cC" x="1043.1" y="1108.3"/><use href="#cC" x="1045.4" y="1106.8"/><use href="#cC" x="1047.6" y="1105.3"/><use href="#cC" x="1049.9" y="1103.9"/><use href="#cC" x="1052.1" y="1102.4"/><use href="#cC" x="1054.4" y="1100.9"/><use href="#cC" x="1056.6" y="1099.5"/><use href="#cC" x="1058.9" y="1098.1"/><use href="#cC" x="1061.1" y="1096.6"/><use href="#cC" x="1063.3" y="1095.2"/><use href="#cC" x="1065.6" y="1093.8"/><use href="#cC" x="1067.8" y="1092.4"/><use href="#cC" x="1070.1" y="1091.0"/><use href="#cC" x="1072.3" y="1089.6"/><use href="#cC" x="1074.6" y="1088.2"/><use href="#cC" x="1076.8" y="1086.7"/><use href="#cC" x="1079.1" y="1085.3"/><use href="#cC" x="1081.3" y="1083.9"/><use href="#cC" x="1083.6" y="1082.5"/><use href="#cC" x="1085.8" y="1081.1"/><use href="#cC" x="1088.1" y="1079.6"/><use href="#cC" x="1090.3" y="1078.2"/><use href="#cC" x="1092.6" y="1076.8"/><use href="#cC" x="1094.8" y="1075.4"/><use href="#cC" x="1097.1" y="1074.0"/><use href="#cC" x="1099.3" y="1072.6"/><use href="#cC" x="1101.6" y="1071.2"/><use href="#cC" x="1103.8" y="1069.8"/><use href="#cC" x="1106.1" y="1068.4"/><use href="#cC" x="1108.3" y="1067.1"/><use href="#cC" x="1110.6" y="1065.7"/><use href="#cC" x="1112.8" y="1064.3"/><use href="#cC" x="1115.1" y="1062.9"/><use href="#cC" x="1117.3" y="1061.6"/><use href="#cC" x="1119.6" y="1060.2"/><use href="#cC" x="1121.8" y="1058.8"/><use href="#cC" x="1124.1" y="1057.4"/><use href="#cC" x="1126.3" y="1056.0"/><use href="#cC" x="1128.6" y="1054.6"/><use href="#cC" x="1130.8" y="1053.2"/><use href="#cC" x="1133.1" y="1051.7"/><use href="#cC" x="1135.3" y="1050.3"/><use href="#cC" x="1137.6" y="1048.8"/><use href="#cC" x="1139.8" y="1047.4"/><use href="#cC" x="1142.1" y="1045.9"/><use href="#cC" x="1144.3" y="1044.4"/><use href="#cC" x="1146.6" y="1042.9"/><use href="#cC" x="1148.8" y="1041.4"/><use href="#cC" x="1151.1" y="1039.8"/><use href="#cC" x="1153.3" y="1038.3"/><use href="#cC" x="1155.6" y="1036.7"/><use href="#cC" x="1157.8" y="1035.2"/><use href="#cC" x="1160.1" y="1033.7"/><use href="#cC" x="1162.3" y="1032.2"/><use href="#cC" x="1164.6" y="1030.7"/><use href="#cC" x="1166.8" y="1029.2"/><use href="#cC" x="1169.1" y="1027.7"/><use href="#cC" x="1171.3" y="1026.2"/><use href="#cC" x="1173.6" y="1024.7"/><use href="#cC" x="1175.8" y="1023.2"/><use href="#cC" x="1178.0" y="1021.7"/><use href="#cC" x="1180.3" y="1020.2"/><use href="#cC" x="1182.5" y="1018.7"/><use href="#cC" x="1184.8" y="1017.1"/><use href="#cC" x="1187.0" y="1015.5"/><use href="#cC" x="1189.3" y="1014.0"/><use href="#cC" x="1191.5" y="1012.4"/><use href="#cC" x="1193.8" y="1010.8"/><use href="#cC" x="1196.0" y="1009.1"/><use href="#cC" x="1198.3" y="1007.5"/><use href="#cC" x="1200.5" y="1005.8"/><use href="#cC" x="1202.8" y="1003.9"/><use href="#cC" x="1205.0" y="1001.9"/><use href="#cC" x="1207.3" y="999.6"/><use href="#cC" x="1209.5" y="997.3"/><use href="#cC" x="1211.8" y="994.8"/><use href="#cC" x="1214.0" y="992.2"/><use href="#cC" x="1216.3" y="989.5"/><use href="#cC" x="1218.5" y="986.8"/><use href="#cC" x="1220.8" y="984.1"/><use href="#cC" x="1223.0" y="981.3"/><use href="#cC" x="1225.3" y="978.6"/><use href="#cC" x="1227.5" y="976.0"/><use href="#cC" x="1229.8" y="973.4"/><use href="#cC" x="1232.0" y="970.9"/><use href="#cC" x="1234.3" y="968.4"/><use href="#cC" x="1236.5" y="965.8"/><use href="#cC" x="1238.8" y="963.1"/><use href="#cC" x="1241.0" y="960.5"/><use href="#cC" x="1243.3" y="958.0"/><use href="#cC" x="1245.5" y="955.8"/><use href="#cC" x="1247.8" y="953.9"/><use href="#cC" x="1250.0" y="952.3"/><use href="#cC" x="1252.3" y="950.8"/><use href="#cC" x="1254.5" y="949.3"/><use href="#cC" x="1256.8" y="947.8"/><use href="#cC" x="1259.0" y="946.3"/><use href="#cC" x="1261.3" y="944.8"/><use href="#cC" x="1263.5" y="943.4"/><use href="#cC" x="1265.8" y="942.0"/><use href="#cC" x="1268.0" y="940.5"/><use href="#cC" x="1270.3" y="939.1"/><use href="#cC" x="1272.5" y="937.7"/><use href="#cC" x="1274.8" y="936.2"/><use href="#cC" x="1277.0" y="934.8"/><use href="#cC" x="1279.3" y="933.4"/><use href="#cC" x="1281.5" y="931.9"/><use href="#cC" x="1283.8" y="930.5"/><use href="#cC" x="1286.0" y="929.0"/><use href="#cC" x="1288.2" y="927.6"/><use href="#cC" x="1290.5" y="926.1"/><use href="#cC" x="1292.7" y="924.6"/><use href="#cC" x="1295.0" y="923.1"/><use href="#cC" x="1297.2" y="921.6"/><use href="#cC" x="1299.5" y="920.1"/><use href="#cC" x="1301.7" y="918.6"/><use href="#cC" x="1304.0" y="917.1"/><use href="#cC" x="1306.2" y="915.6"/><use href="#cC" x="1308.5" y="914.1"/><use href="#cC" x="1310.7" y="912.6"/><use href="#cC" x="1313.0" y="911.1"/><use href="#cC" x="1315.2" y="909.6"/><use href="#cC" x="1317.5" y="908.1"/><use href="#cC" x="1319.7" y="906.6"/><use href="#cC" x="1322.0" y="905.1"/><use href="#cC" x="1324.2" y="903.6"/><use href="#cC" x="1326.5" y="902.1"/><use href="#cC" x="1328.7" y="900.6"/><use href="#cC" x="1331.0" y="899.1"/><use href="#cC" x="1333.2" y="897.5"/><use href="#cC" x="1335.5" y="896.0"/><use href="#cC" x="1337.7" y="894.5"/><use href="#cC" x="1340.0" y="893.0"/><use href="#cC" x="1342.2" y="891.5"/><use href="#cC" x="1344.5" y="890.0"/><use href="#cC" x="1346.7" y="888.5"/><use href="#cC" x="1349.0" y="886.9"/><use href="#cC" x="1351.2" y="885.4"/><use href="#cC" x="1353.5" y="883.9"/><use href="#cC" x="1355.7" y="882.4"/><use href="#cC" x="1358.0" y="880.9"/><use href="#cC" x="1360.2" y="879.3"/><use href="#cC" x="1362.5" y="877.8"/><use href="#cC" x="1364.7" y="876.3"/><use href="#cC" x="1367.0" y="874.8"/><use href="#cC" x="1369.2" y="873.3"/><use href="#cC" x="1371.5" y="871.8"/><use href="#cC" x="1373.7" y="870.2"/><use href="#cC" x="1376.0" y="868.7"/><use href="#cC" x="1378.2" y="867.2"/><use href="#cC" x="1380.5" y="865.7"/><use href="#cC" x="1382.7" y="864.2"/><use href="#cC" x="1385.0" y="862.7"/><use href="#cC" x="1387.2" y="861.2"/><use href="#cC" x="1389.5" y="859.6"/><use href="#cC" x="1391.7" y="858.1"/><use href="#cC" x="1394.0" y="856.6"/><use href="#cC" x="1396.2" y="855.1"/><use href="#cC" x="1398.5" y="853.6"/><use href="#cC" x="1400.7" y="852.1"/><use href="#cC" x="1402.9" y="850.6"/><use href="#cC" x="1405.2" y="849.1"/><use href="#cC" x="1407.4" y="847.6"/><use href="#cC" x="1409.7" y="846.1"/><use href="#cC" x="1411.9" y="844.6"/><use href="#cC" x="1414.2" y="843.1"/><use href="#cC" x="1416.4" y="841.5"/><use href="#cC" x="1418.7" y="840.0"/><use href="#cC" x="1420.9" y="838.5"/><use href="#cC" x="1423.2" y="837.0"/><use href="#cC" x="1425.4" y="835.5"/><use href="#cC" x="1427.7" y="834.0"/><use href="#cC" x="1429.9" y="832.5"/><use href="#cC" x="1432.2" y="831.0"/><use href="#cC" x="1434.4" y="829.5"/><use href="#cC" x="1436.7" y="828.0"/><use href="#cC" x="1438.9" y="826.5"/><use href="#cC" x="1441.2" y="825.0"/><use href="#cC" x="1443.4" y="823.4"/><use href="#cC" x="1445.7" y="821.9"/><use href="#cC" x="1447.9" y="820.4"/><use href="#cC" x="1450.2" y="818.9"/><use href="#cC" x="1452.4" y="817.4"/><use href="#cC" x="1454.7" y="815.9"/><use href="#cC" x="1456.9" y="814.4"/><use href="#cC" x="1459.2" y="812.9"/><use href="#cC" x="1461.4" y="811.4"/><use href="#cC" x="1463.7" y="809.9"/><use href="#cC" x="1465.9" y="808.4"/><use href="#cC" x="1468.2" y="806.9"/><use href="#cC" x="1470.4" y="805.3"/><use href="#cC" x="1472.7" y="803.8"/><use href="#cC" x="1474.9" y="802.3"/><use href="#cC" x="1477.2" y="800.8"/><use href="#cC" x="1479.4" y="799.3"/><use href="#cC" x="1481.7" y="797.8"/><use href="#cC" x="1483.9" y="796.3"/><use href="#cC" x="1486.2" y="794.8"/><use href="#cC" x="1488.4" y="793.3"/><use href="#cC" x="1490.7" y="791.8"/><use href="#cC" x="1492.9" y="790.3"/><use href="#cC" x="1495.2" y="788.7"/><use href="#cC" x="1497.4" y="787.2"/><use href="#cC" x="1499.7" y="785.7"/><use href="#cC" x="1501.9" y="784.2"/><use href="#cC" x="1504.2" y="782.7"/><use href="#cC" x="1506.4" y="781.2"/><use href="#cC" x="1508.7" y="779.7"/><use href="#cC" x="1510.9" y="778.2"/><use href="#cC" x="1513.1" y="776.7"/><use href="#cC" x="1515.4" y="775.2"/><use href="#cC" x="1517.6" y="773.6"/><use href="#cC" x="1519.9" y="772.1"/><use href="#cC" x="1522.1" y="770.6"/><use href="#cC" x="1524.4" y="769.1"/><use href="#cC" x="1526.6" y="767.6"/><use href="#cC" x="1528.9" y="766.1"/><use href="#cC" x="1531.1" y="764.6"/><use href="#cC" x="1533.4" y="763.1"/><use href="#cC" x="1535.6" y="761.6"/><use href="#cC" x="1537.9" y="760.1"/><use href="#cC" x="1540.1" y="758.5"/><use href="#cC" x="1542.4" y="757.0"/><use href="#cC" x="1544.6" y="755.5"/><use href="#cC" x="1546.9" y="754.0"/><use href="#cC" x="1549.1" y="752.5"/><use href="#cC" x="1551.4" y="751.0"/><use href="#cC" x="1553.6" y="749.5"/><use href="#cC" x="1555.9" y="748.0"/><use href="#cC" x="1558.1" y="746.5"/><use href="#cC" x="1560.4" y="744.9"/><use href="#cC" x="1562.6" y="743.4"/><use href="#cC" x="1564.9" y="741.9"/><use href="#cC" x="1567.1" y="740.4"/><use href="#cC" x="1569.4" y="738.9"/><use href="#cC" x="1571.6" y="737.4"/><use href="#cC" x="1573.9" y="735.9"/><use href="#cC" x="1576.1" y="734.4"/><use href="#cC" x="1578.4" y="732.8"/><use href="#cC" x="1580.6" y="731.3"/><use href="#cC" x="1582.9" y="729.8"/><use href="#cC" x="1585.1" y="728.3"/><use href="#cC" x="1587.4" y="726.8"/><use href="#cC" x="1589.6" y="725.3"/><use href="#cC" x="1591.9" y="723.8"/><use href="#cC" x="1594.1" y="722.2"/><use href="#cC" x="1596.4" y="720.7"/><use href="#cC" x="1598.6" y="719.2"/><use href="#cC" x="1600.9" y="717.7"/><use href="#cC" x="1603.1" y="716.2"/><use href="#cC" x="1605.4" y="714.7"/><use href="#cC" x="1607.6" y="713.2"/><use href="#cC" x="1609.9" y="711.7"/><use href="#cC" x="1612.1" y="710.1"/><use href="#cC" x="1614.4" y="708.6"/><use href="#cC" x="1616.6" y="707.1"/><use href="#cC" x="1618.9" y="705.6"/><use href="#cC" x="1621.1" y="704.1"/><use href="#cC" x="1623.4" y="702.6"/><use href="#cC" x="1625.6" y="701.0"/></g><g fill="#008000"><use href="#cT" x="955.4" y="1162.5"/><use href="#cT" x="956.5" y="1162.5"/><use href="#cT" x="957.6" y="1162.5"/><use href="#cT" x="958.8" y="1162.5"/><use href="#cT" x="959.9" y="1162.5"/><use href="#cT" x="961.0" y="1162.5"/><use href="#cT" x="962.1" y="1162.3"/><use href="#cT" x="963.3" y="1162.0"/><use href="#cT" x="964.4" y="1161.7"/><use href="#cT" x="965.5" y="1161.4"/><use href="#cT" x="966.6" y="1161.0"/><use href="#cT" x="967.8" y="1160.7"/><use href="#cT" x="968.9" y="1160.2"/><use href="#cT" x="970.0" y="1159.7"/><use href="#cT" x="971.1" y="1159.1"/><use href="#cT" x="972.3" y="1158.5"/><use href="#cT" x="973.4" y="1157.8"/><use href="#cT" x="975.6" y="1156.3"/><use href="#cT" x="977.9" y="1154.6"/><use href="#cT" x="980.1" y="1152.8"/><use href="#cT" x="982.4" y="1151.2"/><use href="#cT" x="984.6" y="1149.7"/><use href="#cT" x="986.9" y="1148.2"/><use href="#cT" x="989.1" y="1146.9"/><use href="#cT" x="991.4" y="1145.5"/><use href="#cT" x="993.6" y="1144.0"/><use href="#cT" x="995.9" y="1142.5"/><use href="#cT" x="998.1" y="1140.9"/><use href="#cT" x="1000.4" y="1139.2"/><use href="#cT" x="1002.6" y="1137.4"/><use href="#cT" x="1004.9" y="1135.6"/><use href="#cT" x="1007.1" y="1133.8"/><use href="#cT" x="1009.4" y="1132.0"/><use href="#cT" x="1011.6" y="1130.1"/><use href="#cT" x="1013.9" y="1128.3"/><use href="#cT" x="1016.1" y="1126.5"/><use href="#cT" x="1018.4" y="1124.7"/><use href="#cT" x="1020.6" y="1123.0"/><use href="#cT" x="1022.9" y="1121.3"/><use href="#cT" x="1025.1" y="1119.5"/><use href="#cT" x="1027.4" y="1117.8"/><use href="#cT" x="1029.6" y="1116.1"/><use href="#cT" x="1031.9" y="1114.5"/><use href="#cT" x="1034.1" y="1112.8"/><use href="#cT" x="1036.4" y="1111.1"/><use href="#cT" x="1038.6" y="1109.5"/><use href="#cT" x="1040.9" y="1107.9"/><use href="#cT" x="1043.1" y="1106.4"/><use href="#cT" x="1045.4" y="1104.8"/><use href="#cT" x="1047.6" y="1103.2"/><use href="#cT" x="1049.9" y="1101.7"/><use href="#cT" x="1052.1" y="1100.2"/><use href="#cT" x="1054.4" y="1098.6"/><use href="#cT" x="1056.6" y="1097.1"/><use href="#cT" x="1058.9" y="1095.6"/><use href="#cT" x="1061.1" y="1094.1"/><use href="#cT" x="1063.3" y="1092.6"/><use href="#cT" x="1065.6" y="1091.1"/><use href="#cT" x="1067.8" y="1089.6"/><use href="#cT" x="1070.1" y="1088.1"/><use href="#cT" x="1072.3" y="1086.5"/><use href="#cT" x="1074.6" y="1085.0"/><use href="#cT" x="1076.8" y="1083.5"/><use href="#cT" x="1079.1" y="1082.0"/><use href="#cT" x="1081.3" y="1080.4"/><use href="#cT" x="1083.6" y="1078.8"/><use href="#cT" x="1085.8" y="1077.3"/><use href="#cT" x="1088.1" y="1075.7"/><use href="#cT" x="1090.3" y="1074.1"/><use href="#cT" x="1092.6" y="1072.5"/><use href="#cT" x="1094.8" y="1070.9"/><use href="#cT" x="1097.1" y="1069.3"/><use href="#cT" x="1099.3" y="1067.7"/><use href="#cT" x="1101.6" y="1066.0"/><use href="#cT" x="1103.8" y="1064.4"/><use href="#cT" x="1106.1" y="1062.8"/><use href="#cT" x="1108.3" y="1061.2"/><use href="#cT" x="1110.6" y="1059.6"/><use href="#cT" x="1112.8" y="1058.0"/><use href="#cT" x="1115.1" y="1056.4"/><use href="#cT" x="1117.3" y="1054.7"/><use href="#cT" x="1119.6" y="1053.1"/><use href="#cT" x="1121.8" y="1051.5"/><use href="#cT" x="1124.1" y="1049.9"/><use href="#cT" x="1126.3" y="1048.3"/><use href="#cT" x="1128.6" y="1046.7"/><use href="#cT" x="1130.8" y="1045.1"/><use href="#cT" x="1133.1" y="1043.5"/><use href="#cT" x="1135.3" y="1041.9"/><use href="#cT" x="1137.6" y="1040.3"/><use href="#cT" x="1139.8" y="1038.8"/><use href="#cT" x="1142.1" y="1037.2"/><use href="#cT" x="1144.3" y="1035.6"/><use href="#cT" x="1146.6" y="1034.1"/><use href="#cT" x="1148.8" y="1032.5"/><use href="#cT" x="1151.1" y="1031.0"/><use href="#cT" x="1153.3" y="1029.5"/><use href="#cT" x="1155.6" y="1028.0"/><use href="#cT" x="1157.8" y="1026.5"/><use href="#cT" x="1160.1" y="1025.0"/><use href="#cT" x="1162.3" y="1023.6"/><use href="#cT" x="1164.6" y="1022.2"/><use href="#cT" x="1166.8" y="1020.7"/><use href="#cT" x="1169.1" y="1019.3"/><use href="#cT" x="1171.3" y="1017.9"/><use href="#cT" x="1173.6" y="1016.5"/><use href="#cT" x="1175.8" y="1015.1"/><use href="#cT" x="1178.0" y="1013.6"/><use href="#cT" x="1180.3" y="1012.2"/><use href="#cT" x="1182.5" y="1010.7"/><use href="#cT" x="1184.8" y="1009.3"/><use href="#cT" x="1187.0" y="1007.8"/><use href="#cT" x="1189.3" y="1006.2"/><use href="#cT" x="1191.5" y="1004.7"/><use href="#cT" x="1193.8" y="1003.1"/><use href="#cT" x="1196.0" y="1001.5"/><use href="#cT" x="1198.3" y="999.9"/><use href="#cT" x="1200.5" y="998.2"/><use href="#cT" x="1202.8" y="996.4"/><use href="#cT" x="1205.0" y="994.4"/><use href="#cT" x="1207.3" y="992.3"/><use href="#cT" x="1209.5" y="990.1"/><use href="#cT" x="1211.8" y="987.8"/><use href="#cT" x="1214.0" y="985.4"/><use href="#cT" x="1216.3" y="982.9"/><use href="#cT" x="1218.5" y="980.5"/><use href="#cT" x="1220.8" y="978.0"/><use href="#cT" x="1223.0" y="975.6"/><use href="#cT" x="1225.3" y="973.2"/><use href="#cT" x="1227.5" y="970.9"/><use href="#cT" x="1229.8" y="968.6"/><use href="#cT" x="1232.0" y="966.5"/><use href="#cT" x="1234.3" y="964.4"/><use href="#cT" x="1236.5" y="962.3"/><use href="#cT" x="1238.8" y="960.2"/><use href="#cT" x="1241.0" y="958.1"/><use href="#cT" x="1243.3" y="956.2"/><use href="#cT" x="1245.5" y="954.3"/><use href="#cT" x="1247.8" y="952.6"/><use href="#cT" x="1250.0" y="951.0"/><use href="#cT" x="1252.3" y="949.5"/><use href="#cT" x="1254.5" y="948.0"/><use href="#cT" x="1256.8" y="946.5"/><use href="#cT" x="1259.0" y="945.0"/><use href="#cT" x="1261.3" y="943.6"/><use href="#cT" x="1263.5" y="942.1"/><use href="#cT" x="1265.8" y="940.7"/><use href="#cT" x="1268.0" y="939.3"/><use href="#cT" x="1270.3" y="937.8"/><use href="#cT" x="1272.5" y="936.4"/><use href="#cT" x="1274.8" y="935.0"/><use href="#cT" x="1277.0" y="933.6"/><use href="#cT" x="1279.3" y="932.1"/><use href="#cT" x="1281.5" y="930.7"/><use href="#cT" x="1283.8" y="929.2"/><use href="#cT" x="1286.0" y="927.8"/><use href="#cT" x="1288.2" y="926.3"/><use href="#cT" x="1290.5" y="924.8"/><use href="#cT" x="1292.7" y="923.3"/><use href="#cT" x="1295.0" y="921.8"/><use href="#cT" x="1297.2" y="920.3"/><use href="#cT" x="1299.5" y="918.8"/><use href="#cT" x="1301.7" y="917.4"/><use href="#cT" x="1304.0" y="915.9"/><use href="#cT" x="1306.2" y="914.4"/><use href="#cT" x="1308.5" y="912.9"/><use href="#cT" x="1310.7" y="911.4"/><use href="#cT" x="1313.0" y="909.9"/><use href="#cT" x="1315.2" y="908.4"/><use href="#cT" x="1317.5" y="906.9"/><use href="#cT" x="1319.7" y="905.3"/><use href="#cT" x="1322.0" y="903.8"/><use href="#cT" x="1324.2" y="902.3"/><use href="#cT" x="1326.5" y="900.8"/><use href="#cT" x="1328.7" y="899.3"/><use href="#cT" x="1331.0" y="897.8"/><use href="#cT" x="1333.2" y="896.3"/><use href="#cT" x="1335.5" y="894.8"/><use href="#cT" x="1337.7" y="893.3"/><use href="#cT" x="1340.0" y="891.8"/><use href="#cT" x="1342.2" y="890.2"/><use href="#cT" x="1344.5" y="888.7"/><use href="#cT" x="1346.7" y="887.2"/><use href="#cT" x="1349.0" y="885.7"/><use href="#cT" x="1351.2" y="884.2"/><use href="#cT" x="1353.5" y="882.7"/><use href="#cT" x="1355.7" y="881.1"/><use href="#cT" x="1358.0" y="879.6"/><use href="#cT" x="1360.2" y="878.1"/><use href="#cT" x="1362.5" y="876.6"/><use href="#cT" x="1364.7" y="875.1"/><use href="#cT" x="1367.0" y="873.6"/><use href="#cT" x="1369.2" y="872.0"/><use href="#cT" x="1371.5" y="870.5"/><use href="#cT" x="1373.7" y="869.0"/><use href="#cT" x="1376.0" y="867.5"/><use href="#cT" x="1378.2" y="866.0"/><use href="#cT" x="1380.5" y="864.5"/><use href="#cT" x="1382.7" y="862.9"/><use href="#cT" x="1385.0" y="861.4"/><use href="#cT" x="1387.2" y="859.9"/><use href="#cT" x="1389.5" y="858.4"/><use href="#cT" x="1391.7" y="856.9"/><use href="#cT" x="1394.0" y="855.4"/><use href="#cT" x="1396.2" y="853.9"/><use href="#cT" x="1398.5" y="852.3"/><use href="#cT" x="1400.7" y="850.8"/><use href="#cT" x="1402.9" y="849.3"/><use href="#cT" x="1405.2" y="847.8"/><use href="#cT" x="1407.4" y="846.3"/><use href="#cT" x="1409.7" y="844.8"/><use href="#cT" x="1411.9" y="843.3"/><use href="#cT" x="1414.2" y="841.8"/><use href="#cT" x="1416.4" y="840.3"/><use href="#cT" x="1418.7" y="838.7"/><use href="#cT" x="1420.9" y="837.2"/><use href="#cT" x="1423.2" y="835.7"/><use href="#cT" x="1425.4" y="834.2"/><use href="#cT" x="1427.7" y="832.7"/><use href="#cT" x="1429.9" y="831.2"/><use href="#cT" x="1432.2" y="829.7"/><use href="#cT" x="1434.4" y="828.2"/><use href="#cT" x="1436.7" y="826.6"/><use href="#cT" x="1438.9" y="825.1"/><use href="#cT" x="1441.2" y="823.6"/><use href="#cT" x="1443.4" y="822.1"/><use href="#cT" x="1445.7" y="820.6"/><use href="#cT" x="1447.9" y="819.1"/><use href="#cT" x="1450.2" y="817.6"/><use href="#cT" x="1452.4" y="816.1"/><use href="#cT" x="1454.7" y="814.5"/><use href="#cT" x="1456.9" y="813.0"/><use href="#cT" x="1459.2" y="811.5"/><use href="#cT" x="1461.4" y="810.0"/><use href="#cT" x="1463.7" y="808.5"/><use href="#cT" x="1465.9" y="807.0"/><use href="#cT" x="1468.2" y="805.5"/><use href="#cT" x="1470.4" y="804.0"/><use href="#cT" x="1472.7" y="802.4"/><use href="#cT" x="1474.9" y="800.9"/><use href="#cT" x="1477.2" y="799.4"/><use href="#cT" x="1479.4" y="797.9"/><use href="#cT" x="1481.7" y="796.4"/><use href="#cT" x="1483.9" y="794.9"/><use href="#cT" x="1486.2" y="793.4"/><use href="#cT" x="1488.4" y="791.8"/><use href="#cT" x="1490.7" y="790.3"/><use href="#cT" x="1492.9" y="788.8"/><use href="#cT" x="1495.2" y="787.3"/><use href="#cT" x="1497.4" y="785.8"/><use href="#cT" x="1499.7" y="784.3"/><use href="#cT" x="1501.9" y="782.8"/><use href="#cT" x="1504.2" y="781.2"/><use href="#cT" x="1506.4" y="779.7"/><use href="#cT" x="1508.7" y="778.2"/><use href="#cT" x="1510.9" y="776.7"/><use href="#cT" x="1513.1" y="775.2"/><use href="#cT" x="1515.4" y="773.7"/><use href="#cT" x="1517.6" y="772.1"/><use href="#cT" x="1519.9" y="770.6"/><use href="#cT" x="1522.1" y="769.1"/><use href="#cT" x="1524.4" y="767.6"/><use href="#cT" x="1526.6" y="766.1"/><use href="#cT" x="1528.9" y="764.6"/><use href="#cT" x="1531.1" y="763.0"/><use href="#cT" x="1533.4" y="761.5"/><use href="#cT" x="1535.6" y="760.0"/><use href="#cT" x="1537.9" y="758.5"/><use href="#cT" x="1540.1" y="757.0"/><use href="#cT" x="1542.4" y="755.5"/><use href="#cT" x="1544.6" y="753.9"/><use href="#cT" x="1546.9" y="752.4"/><use href="#cT" x="1549.1" y="750.9"/><use href="#cT" x="1551.4" y="749.4"/><use href="#cT" x="1553.6" y="747.9"/><use href="#cT" x="1555.9" y="746.3"/><use href="#cT" x="1558.1" y="744.8"/><use href="#cT" x="1560.4" y="743.3"/><use href="#cT" x="1562.6" y="741.8"/><use href="#cT" x="1564.9" y="740.3"/><use href="#cT" x="1567.1" y="738.7"/><use href="#cT" x="1569.4" y="737.2"/><use href="#cT" x="1571.6" y="735.7"/><use href="#cT" x="1573.9" y="734.2"/><use href="#cT" x="1576.1" y="732.7"/><use href="#cT" x="1578.4" y="731.1"/><use href="#cT" x="1580.6" y="729.6"/><use href="#cT" x="1582.9" y="728.1"/><use href="#cT" x="1585.1" y="726.6"/><use href="#cT" x="1587.4" y="725.1"/><use href="#cT" x="1589.6" y="723.5"/><use href="#cT" x="1591.9" y="722.0"/><use href="#cT" x="1594.1" y="720.5"/><use href="#cT" x="1596.4" y="719.0"/><use href="#cT" x="1598.6" y="717.4"/><use href="#cT" x="1600.9" y="715.9"/><use href="#cT" x="1603.1" y="714.4"/><use href="#cT" x="1605.4" y="712.9"/><use href="#cT" x="1607.6" y="711.3"/><use href="#cT" x="1609.9" y="709.8"/><use href="#cT" x="1612.1" y="708.3"/><use href="#cT" x="1614.4" y="706.8"/><use href="#cT" x="1616.6" y="705.3"/><use href="#cT" x="1618.9" y="703.7"/><use href="#cT" x="1621.1" y="702.2"/><use href="#cT" x="1623.4" y="700.7"/><use href="#cT" x="1625.6" y="699.2"/></g><g fill="#800000"><use href="#cD" x="955.4" y="1162.4"/><use href="#cD" x="956.5" y="1162.4"/><use href="#cD" x="957.6" y="1162.4"/><use href="#cD" x="958.8" y="1162.4"/><use href="#cD" x="959.9" y="1162.4"/><use href="#cD" x="961.0" y="1162.3"/><use href="#cD" x="962.1" y="1162.1"/><use href="#cD" x="963.3" y="1161.8"/><use href="#cD" x="964.4" y="1161.5"/><use href="#cD" x="965.5" y="1161.1"/><use href="#cD" x="966.6" y="1160.8"/><use href="#cD" x="967.8" y="1160.3"/><use href="#cD" x="968.9" y="1159.9"/><use href="#cD" x="970.0" y="1159.3"/><use href="#cD" x="971.1" y="1158.7"/><use href="#cD" x="972.3" y="1158.1"/><use href="#cD" x="973.4" y="1157.4"/><use href="#cD" x="975.6" y="1155.8"/><use href="#cD" x="977.9" y="1154.0"/><use href="#cD" x="980.1" y="1152.1"/><use href="#cD" x="982.4" y="1150.4"/><use href="#cD" x="984.6" y="1148.8"/><use href="#cD" x="986.9" y="1147.3"/><use href="#cD" x="989.1" y="1145.9"/><use href="#cD" x="991.4" y="1144.4"/><use href="#cD" x="993.6" y="1142.9"/><use href="#cD" x="995.9" y="1141.2"/><use href="#cD" x="998.1" y="1139.5"/><use href="#cD" x="1000.4" y="1137.7"/><use href="#cD" x="1002.6" y="1135.9"/><use href="#cD" x="1004.9" y="1134.1"/><use href="#cD" x="1007.1" y="1132.2"/><use href="#cD" x="1009.4" y="1130.3"/><use href="#cD" x="1011.6" y="1128.4"/><use href="#cD" x="1013.9" y="1126.5"/><use href="#cD" x="1016.1" y="1124.7"/><use href="#cD" x="1018.4" y="1122.8"/><use href="#cD" x="1020.6" y="1121.1"/><use href="#cD" x="1022.9" y="1119.3"/><use href="#cD" x="1025.1" y="1117.5"/><use href="#cD" x="1027.4" y="1115.8"/><use href="#cD" x="1029.6" y="1114.1"/><use href="#cD" x="1031.9" y="1112.4"/><use href="#cD" x="1034.1" y="1110.7"/><use href="#cD" x="1036.4" y="1109.0"/><use href="#cD" x="1038.6" y="1107.4"/><use href="#cD" x="1040.9" y="1105.8"/><use href="#cD" x="1043.1" y="1104.2"/><use href="#cD" x="1045.4" y="1102.6"/><use href="#cD" x="1047.6" y="1101.0"/><use href="#cD" x="1049.9" y="1099.4"/><use href="#cD" x="1052.1" y="1097.9"/><use href="#cD" x="1054.4" y="1096.3"/><use href="#cD" x="1056.6" y="1094.8"/><use href="#cD" x="1058.9" y="1093.2"/><use href="#cD" x="1061.1" y="1091.7"/><use href="#cD" x="1063.3" y="1090.3"/><use href="#cD" x="1065.6" y="1088.8"/><use href="#cD" x="1067.8" y="1087.3"/><use href="#cD" x="1070.1" y="1085.8"/><use href="#cD" x="1072.3" y="1084.3"/><use href="#cD" x="1074.6" y="1082.8"/><use href="#cD" x="1076.8" y="1081.2"/><use href="#cD" x="1079.1" y="1079.7"/><use href="#cD" x="1081.3" y="1078.1"/><use href="#cD" x="1083.6" y="1076.4"/><use href="#cD" x="1085.8" y="1074.7"/><use href="#cD" x="1088.1" y="1073.0"/><use href="#cD" x="1090.3" y="1071.3"/><use href="#cD" x="1092.6" y="1069.6"/><use href="#cD" x="1094.8" y="1067.9"/><use href="#cD" x="1097.1" y="1066.2"/><use href="#cD" x="1099.3" y="1064.5"/><use href="#cD" x="1101.6" y="1062.8"/><use href="#cD" x="1103.8" y="1061.1"/><use href="#cD" x="1106.1" y="1059.4"/><use href="#cD" x="1108.3" y="1057.7"/><use href="#cD" x="1110.6" y="1056.0"/><use href="#cD" x="1112.8" y="1054.3"/><use href="#cD" x="1115.1" y="1052.6"/><use href="#cD" x="1117.3" y="1050.9"/><use href="#cD" x="1119.6" y="1049.2"/><use href="#cD" x="1121.8" y="1047.5"/><use href="#cD" x="1124.1" y="1045.8"/><use href="#cD" x="1126.3" y="1044.2"/><use href="#cD" x="1128.6" y="1042.5"/><use href="#cD" x="1130.8" y="1040.8"/><use href="#cD" x="1133.1" y="1039.1"/><use href="#cD" x="1135.3" y="1037.5"/><use href="#cD" x="1137.6" y="1035.8"/><use href="#cD" x="1139.8" y="1034.1"/><use href="#cD" x="1142.1" y="1032.5"/><use href="#cD" x="1144.3" y="1030.8"/><use href="#cD" x="1146.6" y="1029.2"/><use href="#cD" x="1148.8" y="1027.5"/><use href="#cD" x="1151.1" y="1025.9"/><use href="#cD" x="1153.3" y="1024.3"/><use href="#cD" x="1155.6" y="1022.7"/><use href="#cD" x="1157.8" y="1021.1"/><use href="#cD" x="1160.1" y="1019.5"/><use href="#cD" x="1162.3" y="1017.9"/><use href="#cD" x="1164.6" y="1016.4"/><use href="#cD" x="1166.8" y="1014.9"/><use href="#cD" x="1169.1" y="1013.3"/><use href="#cD" x="1171.3" y="1011.8"/><use href="#cD" x="1173.6" y="1010.3"/><use href="#cD" x="1175.8" y="1008.7"/><use href="#cD" x="1178.0" y="1007.2"/><use href="#cD" x="1180.3" y="1005.7"/><use href="#cD" x="1182.5" y="1004.1"/><use href="#cD" x="1184.8" y="1002.6"/><use href="#cD" x="1187.0" y="1001.0"/><use href="#cD" x="1189.3" y="999.4"/><use href="#cD" x="1191.5" y="997.8"/><use href="#cD" x="1193.8" y="996.2"/><use href="#cD" x="1196.0" y="994.6"/><use href="#cD" x="1198.3" y="992.9"/><use href="#cD" x="1200.5" y="991.3"/><use href="#cD" x="1202.8" y="989.5"/><use href="#cD" x="1205.0" y="987.7"/><use href="#cD" x="1207.3" y="985.8"/><use href="#cD" x="1209.5" y="983.8"/><use href="#cD" x="1211.8" y="981.8"/><use href="#cD" x="1214.0" y="979.8"/><use href="#cD" x="1216.3" y="977.8"/><use href="#cD" x="1218.5" y="975.7"/><use href="#cD" x="1220.8" y="973.7"/><use href="#cD" x="1223.0" y="971.7"/><use href="#cD" x="1225.3" y="969.7"/><use href="#cD" x="1227.5" y="967.7"/><use href="#cD" x="1229.8" y="965.8"/><use href="#cD" x="1232.0" y="964.0"/><use href="#cD" x="1234.3" y="962.2"/><use href="#cD" x="1236.5" y="960.4"/><use href="#cD" x="1238.8" y="958.6"/><use href="#cD" x="1241.0" y="956.9"/><use href="#cD" x="1243.3" y="955.2"/><use href="#cD" x="1245.5" y="953.5"/><use href="#cD" x="1247.8" y="951.9"/><use href="#cD" x="1250.0" y="950.4"/><use href="#cD" x="1252.3" y="948.9"/><use href="#cD" x="1254.5" y="947.3"/><use href="#cD" x="1256.8" y="945.8"/><use href="#cD" x="1259.0" y="944.3"/><use href="#cD" x="1261.3" y="942.8"/><use href="#cD" x="1263.5" y="941.3"/><use href="#cD" x="1265.8" y="939.9"/><use href="#cD" x="1268.0" y="938.4"/><use href="#cD" x="1270.3" y="936.9"/><use href="#cD" x="1272.5" y="935.4"/><use href="#cD" x="1274.8" y="934.0"/><use href="#cD" x="1277.0" y="932.5"/><use href="#cD" x="1279.3" y="931.0"/><use href="#cD" x="1281.5" y="929.5"/><use href="#cD" x="1283.8" y="928.0"/><use href="#cD" x="1286.0" y="926.5"/><use href="#cD" x="1288.2" y="925.0"/><use href="#cD" x="1290.5" y="923.5"/><use href="#cD" x="1292.7" y="922.0"/><use href="#cD" x="1295.0" y="920.5"/><use href="#cD" x="1297.2" y="919.0"/><use href="#cD" x="1299.5" y="917.4"/><use href="#cD" x="1301.7" y="915.9"/><use href="#cD" x="1304.0" y="914.4"/><use href="#cD" x="1306.2" y="912.9"/><use href="#cD" x="1308.5" y="911.3"/><use href="#cD" x="1310.7" y="909.8"/><use href="#cD" x="1313.0" y="908.3"/><use href="#cD" x="1315.2" y="906.7"/><use href="#cD" x="1317.5" y="905.2"/><use href="#cD" x="1319.7" y="903.7"/><use href="#cD" x="1322.0" y="902.1"/><use href="#cD" x="1324.2" y="900.6"/><use href="#cD" x="1326.5" y="899.1"/><use href="#cD" x="1328.7" y="897.5"/><use href="#cD" x="1331.0" y="896.0"/><use href="#cD" x="1333.2" y="894.4"/><use href="#cD" x="1335.5" y="892.9"/><use href="#cD" x="1337.7" y="891.4"/><use href="#cD" x="1340.0" y="889.8"/><use href="#cD" x="1342.2" y="888.3"/><use href="#cD" x="1344.5" y="886.7"/><use href="#cD" x="1346.7" y="885.2"/><use href="#cD" x="1349.0" y="883.7"/><use href="#cD" x="1351.2" y="882.1"/><use href="#cD" x="1353.5" y="880.6"/><use href="#cD" x="1355.7" y="879.0"/><use href="#cD" x="1358.0" y="877.5"/><use href="#cD" x="1360.2" y="875.9"/><use href="#cD" x="1362.5" y="874.4"/><use href="#cD" x="1364.7" y="872.9"/><use href="#cD" x="1367.0" y="871.3"/><use href="#cD" x="1369.2" y="869.8"/><use href="#cD" x="1371.5" y="868.2"/><use href="#cD" x="1373.7" y="866.7"/><use href="#cD" x="1376.0" y="865.2"/><use href="#cD" x="1378.2" y="863.6"/><use href="#cD" x="1380.5" y="862.1"/><use href="#cD" x="1382.7" y="860.6"/><use href="#cD" x="1385.0" y="859.0"/><use href="#cD" x="1387.2" y="857.5"/><use href="#cD" x="1389.5" y="856.0"/><use href="#cD" x="1391.7" y="854.4"/><use href="#cD" x="1394.0" y="852.9"/><use href="#cD" x="1396.2" y="851.4"/><use href="#cD" x="1398.5" y="849.8"/><use href="#cD" x="1400.7" y="848.3"/><use href="#cD" x="1402.9" y="846.8"/><use href="#cD" x="1405.2" y="845.3"/><use href="#cD" x="1407.4" y="843.7"/><use href="#cD" x="1409.7" y="842.2"/><use href="#cD" x="1411.9" y="840.7"/><use href="#cD" x="1414.2" y="839.1"/><use href="#cD" x="1416.4" y="837.6"/><use href="#cD" x="1418.7" y="836.1"/><use href="#cD" x="1420.9" y="834.6"/><use href="#cD" x="1423.2" y="833.0"/><use href="#cD" x="1425.4" y="831.5"/><use href="#cD" x="1427.7" y="830.0"/><use href="#cD" x="1429.9" y="828.5"/><use href="#cD" x="1432.2" y="826.9"/><use href="#cD" x="1434.4" y="825.4"/><use href="#cD" x="1436.7" y="823.9"/><use href="#cD" x="1438.9" y="822.4"/><use href="#cD" x="1441.2" y="820.8"/><use href="#cD" x="1443.4" y="819.3"/><use href="#cD" x="1445.7" y="817.8"/><use href="#cD" x="1447.9" y="816.3"/><use href="#cD" x="1450.2" y="814.7"/><use href="#cD" x="1452.4" y="813.2"/><use href="#cD" x="1454.7" y="811.7"/><use href="#cD" x="1456.9" y="810.2"/><use href="#cD" x="1459.2" y="808.6"/><use href="#cD" x="1461.4" y="807.1"/><use href="#cD" x="1463.7" y="805.6"/><use href="#cD" x="1465.9" y="804.1"/><use href="#cD" x="1468.2" y="802.5"/><use href="#cD" x="1470.4" y="801.0"/><use href="#cD" x="1472.7" y="799.5"/><use href="#cD" x="1474.9" y="798.0"/><use href="#cD" x="1477.2" y="796.4"/><use href="#cD" x="1479.4" y="794.9"/><use href="#cD" x="1481.7" y="793.4"/><use href="#cD" x="1483.9" y="791.9"/><use href="#cD" x="1486.2" y="790.3"/><use href="#cD" x="1488.4" y="788.8"/><use href="#cD" x="1490.7" y="787.3"/><use href="#cD" x="1492.9" y="785.8"/><use href="#cD" x="1495.2" y="784.2"/><use href="#cD" x="1497.4" y="782.7"/><use href="#cD" x="1499.7" y="781.2"/><use href="#cD" x="1501.9" y="779.7"/><use href="#cD" x="1504.2" y="778.2"/><use href="#cD" x="1506.4" y="776.6"/><use href="#cD" x="1508.7" y="775.1"/><use href="#cD" x="1510.9" y="773.6"/><use href="#cD" x="1513.1" y="772.1"/><use href="#cD" x="1515.4" y="770.5"/><use href="#cD" x="1517.6" y="769.0"/><use href="#cD" x="1519.9" y="767.5"/><use href="#cD" x="1522.1" y="766.0"/><use href="#cD" x="1524.4" y="764.4"/><use href="#cD" x="1526.6" y="762.9"/><use href="#cD" x="1528.9" y="761.4"/><use href="#cD" x="1531.1" y="759.9"/><use href="#cD" x="1533.4" y="758.4"/><use href="#cD" x="1535.6" y="756.8"/><use href="#cD" x="1537.9" y="755.3"/><use href="#cD" x="1540.1" y="753.8"/><use href="#cD" x="1542.4" y="752.3"/><use href="#cD" x="1544.6" y="750.7"/><use href="#cD" x="1546.9" y="749.2"/><use href="#cD" x="1549.1" y="747.7"/><use href="#cD" x="1551.4" y="746.2"/><use href="#cD" x="1553.6" y="744.7"/><use href="#cD" x="1555.9" y="743.1"/><use href="#cD" x="1558.1" y="741.6"/><use href="#cD" x="1560.4" y="740.1"/><use href="#cD" x="1562.6" y="738.6"/><use href="#cD" x="1564.9" y="737.0"/><use href="#cD" x="1567.1" y="735.5"/><use href="#cD" x="1569.4" y="734.0"/><use href="#cD" x="1571.6" y="732.5"/><use href="#cD" x="1573.9" y="731.0"/><use href="#cD" x="1576.1" y="729.4"/><use href="#cD" x="1578.4" y="727.9"/><use href="#cD" x="1580.6" y="726.4"/><use href="#cD" x="1582.9" y="724.9"/><use href="#cD" x="1585.1" y="723.4"/><use href="#cD" x="1587.4" y="721.8"/><use href="#cD" x="1589.6" y="720.3"/><use href="#cD" x="1591.9" y="718.8"/><use href="#cD" x="1594.1" y="717.3"/><use href="#cD" x="1596.4" y="715.8"/><use href="#cD" x="1598.6" y="714.2"/><use href="#cD" x="1600.9" y="712.7"/><use href="#cD" x="1603.1" y="711.2"/><use href="#cD" x="1605.4" y="709.7"/><use href="#cD" x="1607.6" y="708.1"/><use href="#cD" x="1609.9" y="706.6"/><use href="#cD" x="1612.1" y="705.1"/><use href="#cD" x="1614.4" y="703.6"/><use href="#cD" x="1616.6" y="702.1"/><use href="#cD" x="1618.9" y="700.6"/><use href="#cD" x="1621.1" y="699.0"/><use href="#cD" x="1623.4" y="697.5"/><use href="#cD" x="1625.6" y="696.0"/></g><g fill="#f0f"><use href="#cV" x="955.4" y="1161.8"/><use href="#cV" x="956.5" y="1161.8"/><use href="#cV" x="957.6" y="1161.8"/><use href="#cV" x="958.8" y="1161.8"/><use href="#cV" x="959.9" y="1161.8"/><use href="#cV" x="961.0" y="1161.7"/><use href="#cV" x="962.1" y="1161.5"/><use href="#cV" x="963.3" y="1161.1"/><use href="#cV" x="964.4" y="1160.8"/><use href="#cV" x="965.5" y="1160.5"/><use href="#cV" x="966.6" y="1160.1"/><use href="#cV" x="967.8" y="1159.7"/><use href="#cV" x="968.9" y="1159.2"/><use href="#cV" x="970.0" y="1158.7"/><use href="#cV" x="971.1" y="1158.1"/><use href="#cV" x="972.3" y="1157.4"/><use href="#cV" x="973.4" y="1156.7"/><use href="#cV" x="975.6" y="1155.1"/><use href="#cV" x="977.9" y="1153.3"/><use href="#cV" x="980.1" y="1151.5"/><use href="#cV" x="982.4" y="1149.8"/><use href="#cV" x="984.6" y="1148.2"/><use href="#cV" x="986.9" y="1146.7"/><use href="#cV" x="989.1" y="1145.2"/><use href="#cV" x="991.4" y="1143.7"/><use href="#cV" x="993.6" y="1142.2"/><use href="#cV" x="995.9" y="1140.6"/><use href="#cV" x="998.1" y="1138.9"/><use href="#cV" x="1000.4" y="1137.1"/><use href="#cV" x="1002.6" y="1135.3"/><use href="#cV" x="1004.9" y="1133.4"/><use href="#cV" x="1007.1" y="1131.5"/><use href="#cV" x="1009.4" y="1129.6"/><use href="#cV" x="1011.6" y="1127.8"/><use href="#cV" x="1013.9" y="1125.9"/><use href="#cV" x="1016.1" y="1124.0"/><use href="#cV" x="1018.4" y="1122.2"/><use href="#cV" x="1020.6" y="1120.4"/><use href="#cV" x="1022.9" y="1118.6"/><use href="#cV" x="1025.1" y="1116.9"/><use href="#cV" x="1027.4" y="1115.2"/><use href="#cV" x="1029.6" y="1113.4"/><use href="#cV" x="1031.9" y="1111.7"/><use href="#cV" x="1034.1" y="1110.0"/><use href="#cV" x="1036.4" y="1108.4"/><use href="#cV" x="1038.6" y="1106.8"/><use href="#cV" x="1040.9" y="1105.1"/><use href="#cV" x="1043.1" y="1103.5"/><use href="#cV" x="1045.4" y="1102.0"/><use href="#cV" x="1047.6" y="1100.4"/><use href="#cV" x="1049.9" y="1098.8"/><use href="#cV" x="1052.1" y="1097.2"/><use href="#cV" x="1054.4" y="1095.7"/><use href="#cV" x="1056.6" y="1094.1"/><use href="#cV" x="1058.9" y="1092.6"/><use href="#cV" x="1061.1" y="1091.1"/><use href="#cV" x="1063.3" y="1089.6"/><use href="#cV" x="1065.6" y="1088.1"/><use href="#cV" x="1067.8" y="1086.6"/><use href="#cV" x="1070.1" y="1085.2"/><use href="#cV" x="1072.3" y="1083.7"/><use href="#cV" x="1074.6" y="1082.1"/><use href="#cV" x="1076.8" y="1080.6"/><use href="#cV" x="1079.1" y="1079.0"/><use href="#cV" x="1081.3" y="1077.4"/><use href="#cV" x="1083.6" y="1075.8"/><use href="#cV" x="1085.8" y="1074.1"/><use href="#cV" x="1088.1" y="1072.4"/><use href="#cV" x="1090.3" y="1070.7"/><use href="#cV" x="1092.6" y="1069.0"/><use href="#cV" x="1094.8" y="1067.3"/><use href="#cV" x="1097.1" y="1065.6"/><use href="#cV" x="1099.3" y="1063.9"/><use href="#cV" x="1101.6" y="1062.2"/><use href="#cV" x="1103.8" y="1060.5"/><use href="#cV" x="1106.1" y="1058.8"/><use href="#cV" x="1108.3" y="1057.1"/><use href="#cV" x="1110.6" y="1055.4"/><use href="#cV" x="1112.8" y="1053.7"/><use href="#cV" x="1115.1" y="1052.0"/><use href="#cV" x="1117.3" y="1050.3"/><use href="#cV" x="1119.6" y="1048.6"/><use href="#cV" x="1121.8" y="1046.9"/><use href="#cV" x="1124.1" y="1045.2"/><use href="#cV" x="1126.3" y="1043.5"/><use href="#cV" x="1128.6" y="1041.8"/><use href="#cV" x="1130.8" y="1040.2"/><use href="#cV" x="1133.1" y="1038.5"/><use href="#cV" x="1135.3" y="1036.8"/><use href="#cV" x="1137.6" y="1035.2"/><use href="#cV" x="1139.8" y="1033.5"/><use href="#cV" x="1142.1" y="1031.8"/><use href="#cV" x="1144.3" y="1030.2"/><use href="#cV" x="1146.6" y="1028.5"/><use href="#cV" x="1148.8" y="1026.9"/><use href="#cV" x="1151.1" y="1025.2"/><use href="#cV" x="1153.3" y="1023.6"/><use href="#cV" x="1155.6" y="1022.0"/><use href="#cV" x="1157.8" y="1020.4"/><use href="#cV" x="1160.1" y="1018.9"/><use href="#cV" x="1162.3" y="1017.3"/><use href="#cV" x="1164.6" y="1015.8"/><use href="#cV" x="1166.8" y="1014.2"/><use href="#cV" x="1169.1" y="1012.7"/><use href="#cV" x="1171.3" y="1011.2"/><use href="#cV" x="1173.6" y="1009.6"/><use href="#cV" x="1175.8" y="1008.1"/><use href="#cV" x="1178.0" y="1006.6"/><use href="#cV" x="1180.3" y="1005.0"/><use href="#cV" x="1182.5" y="1003.5"/><use href="#cV" x="1184.8" y="1001.9"/><use href="#cV" x="1187.0" y="1000.4"/><use href="#cV" x="1189.3" y="998.8"/><use href="#cV" x="1191.5" y="997.2"/><use href="#cV" x="1193.8" y="995.6"/><use href="#cV" x="1196.0" y="994.0"/><use href="#cV" x="1198.3" y="992.3"/><use href="#cV" x="1200.5" y="990.6"/><use href="#cV" x="1202.8" y="988.9"/><use href="#cV" x="1205.0" y="987.0"/><use href="#cV" x="1207.3" y="985.1"/><use href="#cV" x="1209.5" y="983.2"/><use href="#cV" x="1211.8" y="981.2"/><use href="#cV" x="1214.0" y="979.2"/><use href="#cV" x="1216.3" y="977.1"/><use href="#cV" x="1218.5" y="975.1"/><use href="#cV" x="1220.8" y="973.1"/><use href="#cV" x="1223.0" y="971.0"/><use href="#cV" x="1225.3" y="969.0"/><use href="#cV" x="1227.5" y="967.1"/><use href="#cV" x="1229.8" y="965.2"/><use href="#cV" x="1232.0" y="963.3"/><use href="#cV" x="1234.3" y="961.5"/><use href="#cV" x="1236.5" y="959.7"/><use href="#cV" x="1238.8" y="958.0"/><use href="#cV" x="1241.0" y="956.3"/><use href="#cV" x="1243.3" y="954.6"/><use href="#cV" x="1245.5" y="952.9"/><use href="#cV" x="1247.8" y="951.3"/><use href="#cV" x="1250.0" y="949.8"/><use href="#cV" x="1252.3" y="948.2"/><use href="#cV" x="1254.5" y="946.7"/><use href="#cV" x="1256.8" y="945.2"/><use href="#cV" x="1259.0" y="943.7"/><use href="#cV" x="1261.3" y="942.2"/><use href="#cV" x="1263.5" y="940.7"/><use href="#cV" x="1265.8" y="939.2"/><use href="#cV" x="1268.0" y="937.8"/><use href="#cV" x="1270.3" y="936.3"/><use href="#cV" x="1272.5" y="934.8"/><use href="#cV" x="1274.8" y="933.3"/><use href="#cV" x="1277.0" y="931.9"/><use href="#cV" x="1279.3" y="930.4"/><use href="#cV" x="1281.5" y="928.9"/><use href="#cV" x="1283.8" y="927.4"/><use href="#cV" x="1286.0" y="925.9"/><use href="#cV" x="1288.2" y="924.4"/><use href="#cV" x="1290.5" y="922.9"/><use href="#cV" x="1292.7" y="921.4"/><use href="#cV" x="1295.0" y="919.8"/><use href="#cV" x="1297.2" y="918.3"/><use href="#cV" x="1299.5" y="916.8"/><use href="#cV" x="1301.7" y="915.3"/><use href="#cV" x="1304.0" y="913.7"/><use href="#cV" x="1306.2" y="912.2"/><use href="#cV" x="1308.5" y="910.7"/><use href="#cV" x="1310.7" y="909.2"/><use href="#cV" x="1313.0" y="907.6"/><use href="#cV" x="1315.2" y="906.1"/><use href="#cV" x="1317.5" y="904.6"/><use href="#cV" x="1319.7" y="903.0"/><use href="#cV" x="1322.0" y="901.5"/><use href="#cV" x="1324.2" y="900.0"/><use href="#cV" x="1326.5" y="898.4"/><use href="#cV" x="1328.7" y="896.9"/><use href="#cV" x="1331.0" y="895.3"/><use href="#cV" x="1333.2" y="893.8"/><use href="#cV" x="1335.5" y="892.3"/><use href="#cV" x="1337.7" y="890.7"/><use href="#cV" x="1340.0" y="889.2"/><use href="#cV" x="1342.2" y="887.6"/><use href="#cV" x="1344.5" y="886.1"/><use href="#cV" x="1346.7" y="884.6"/><use href="#cV" x="1349.0" y="883.0"/><use href="#cV" x="1351.2" y="881.5"/><use href="#cV" x="1353.5" y="879.9"/><use href="#cV" x="1355.7" y="878.4"/><use href="#cV" x="1358.0" y="876.9"/><use href="#cV" x="1360.2" y="875.3"/><use href="#cV" x="1362.5" y="873.8"/><use href="#cV" x="1364.7" y="872.2"/><use href="#cV" x="1367.0" y="870.7"/><use href="#cV" x="1369.2" y="869.2"/><use href="#cV" x="1371.5" y="867.6"/><use href="#cV" x="1373.7" y="866.1"/><use href="#cV" x="1376.0" y="864.5"/><use href="#cV" x="1378.2" y="863.0"/><use href="#cV" x="1380.5" y="861.5"/><use href="#cV" x="1382.7" y="859.9"/><use href="#cV" x="1385.0" y="858.4"/><use href="#cV" x="1387.2" y="856.9"/><use href="#cV" x="1389.5" y="855.3"/><use href="#cV" x="1391.7" y="853.8"/><use href="#cV" x="1394.0" y="852.3"/><use href="#cV" x="1396.2" y="850.7"/><use href="#cV" x="1398.5" y="849.2"/><use href="#cV" x="1400.7" y="847.7"/><use href="#cV" x="1402.9" y="846.1"/><use href="#cV" x="1405.2" y="844.6"/><use href="#cV" x="1407.4" y="843.1"/><use href="#cV" x="1409.7" y="841.6"/><use href="#cV" x="1411.9" y="840.0"/><use href="#cV" x="1414.2" y="838.5"/><use href="#cV" x="1416.4" y="837.0"/><use href="#cV" x="1418.7" y="835.5"/><use href="#cV" x="1420.9" y="833.9"/><use href="#cV" x="1423.2" y="832.4"/><use href="#cV" x="1425.4" y="830.9"/><use href="#cV" x="1427.7" y="829.4"/><use href="#cV" x="1429.9" y="827.8"/><use href="#cV" x="1432.2" y="826.3"/><use href="#cV" x="1434.4" y="824.8"/><use href="#cV" x="1436.7" y="823.3"/><use href="#cV" x="1438.9" y="821.7"/><use href="#cV" x="1441.2" y="820.2"/><use href="#cV" x="1443.4" y="818.7"/><use href="#cV" x="1445.7" y="817.2"/><use href="#cV" x="1447.9" y="815.6"/><use href="#cV" x="1450.2" y="814.1"/><use href="#cV" x="1452.4" y="812.6"/><use href="#cV" x="1454.7" y="811.1"/><use href="#cV" x="1456.9" y="809.5"/><use href="#cV" x="1459.2" y="808.0"/><use href="#cV" x="1461.4" y="806.5"/><use href="#cV" x="1463.7" y="805.0"/><use href="#cV" x="1465.9" y="803.4"/><use href="#cV" x="1468.2" y="801.9"/><use href="#cV" x="1470.4" y="800.4"/><use href="#cV" x="1472.7" y="798.9"/><use href="#cV" x="1474.9" y="797.3"/><use href="#cV" x="1477.2" y="795.8"/><use href="#cV" x="1479.4" y="794.3"/><use href="#cV" x="1481.7" y="792.8"/><use href="#cV" x="1483.9" y="791.2"/><use href="#cV" x="1486.2" y="789.7"/><use href="#cV" x="1488.4" y="788.2"/><use href="#cV" x="1490.7" y="786.7"/><use href="#cV" x="1492.9" y="785.1"/><use href="#cV" x="1495.2" y="783.6"/><use href="#cV" x="1497.4" y="782.1"/><use href="#cV" x="1499.7" y="780.6"/><use href="#cV" x="1501.9" y="779.0"/><use href="#cV" x="1504.2" y="777.5"/><use href="#cV" x="1506.4" y="776.0"/><use href="#cV" x="1508.7" y="774.5"/><use href="#cV" x="1510.9" y="773.0"/><use href="#cV" x="1513.1" y="771.4"/><use href="#cV" x="1515.4" y="769.9"/><use href="#cV" x="1517.6" y="768.4"/><use href="#cV" x="1519.9" y="766.9"/><use href="#cV" x="1522.1" y="765.3"/><use href="#cV" x="1524.4" y="763.8"/><use href="#cV" x="1526.6" y="762.3"/><use href="#cV" x="1528.9" y="760.8"/><use href="#cV" x="1531.1" y="759.2"/><use href="#cV" x="1533.4" y="757.7"/><use href="#cV" x="1535.6" y="756.2"/><use href="#cV" x="1537.9" y="754.7"/><use href="#cV" x="1540.1" y="753.2"/><use href="#cV" x="1542.4" y="751.6"/><use href="#cV" x="1544.6" y="750.1"/><use href="#cV" x="1546.9" y="748.6"/><use href="#cV" x="1549.1" y="747.1"/><use href="#cV" x="1551.4" y="745.5"/><use href="#cV" x="1553.6" y="744.0"/><use href="#cV" x="1555.9" y="742.5"/><use href="#cV" x="1558.1" y="741.0"/><use href="#cV" x="1560.4" y="739.5"/><use href="#cV" x="1562.6" y="737.9"/><use href="#cV" x="1564.9" y="736.4"/><use href="#cV" x="1567.1" y="734.9"/><use href="#cV" x="1569.4" y="733.4"/><use href="#cV" x="1571.6" y="731.8"/><use href="#cV" x="1573.9" y="730.3"/><use href="#cV" x="1576.1" y="728.8"/><use href="#cV" x="1578.4" y="727.3"/><use href="#cV" x="1580.6" y="725.8"/><use href="#cV" x="1582.9" y="724.2"/><use href="#cV" x="1585.1" y="722.7"/><use href="#cV" x="1587.4" y="721.2"/><use href="#cV" x="1589.6" y="719.7"/><use href="#cV" x="1591.9" y="718.2"/><use href="#cV" x="1594.1" y="716.6"/><use href="#cV" x="1596.4" y="715.1"/><use href="#cV" x="1598.6" y="713.6"/><use href="#cV" x="1600.9" y="712.1"/><use href="#cV" x="1603.1" y="710.6"/><use href="#cV" x="1605.4" y="709.0"/><use href="#cV" x="1607.6" y="707.5"/><use href="#cV" x="1609.9" y="706.0"/><use href="#cV" x="1612.1" y="704.5"/><use href="#cV" x="1614.4" y="703.0"/><use href="#cV" x="1616.6" y="701.4"/><use href="#cV" x="1618.9" y="699.9"/><use href="#cV" x="1621.1" y="698.4"/><use href="#cV" x="1623.4" y="696.9"/><use href="#cV" x="1625.6" y="695.4"/></g><g fill="#ff8000"><use href="#cH" x="955.4" y="1162.4"/><use href="#cH" x="956.5" y="1162.4"/><use href="#cH" x="957.6" y="1162.4"/><use href="#cH" x="958.8" y="1162.4"/><use href="#cH" x="959.9" y="1162.4"/><use href="#cH" x="961.0" y="1162.3"/><use href="#cH" x="962.1" y="1162.1"/><use href="#cH" x="963.3" y="1161.8"/><use href="#cH" x="964.4" y="1161.5"/><use href="#cH" x="965.5" y="1161.1"/><use href="#cH" x="966.6" y="1160.8"/><use href="#cH" x="967.8" y="1160.3"/><use href="#cH" x="968.9" y="1159.9"/><use href="#cH" x="970.0" y="1159.3"/><use href="#cH" x="971.1" y="1158.7"/><use href="#cH" x="972.3" y="1158.1"/><use href="#cH" x="973.4" y="1157.4"/><use href="#cH" x="975.6" y="1155.8"/><use href="#cH" x="977.9" y="1154.0"/><use href="#cH" x="980.1" y="1152.1"/><use href="#cH" x="982.4" y="1150.4"/><use href="#cH" x="984.6" y="1148.8"/><use href="#cH" x="986.9" y="1147.3"/><use href="#cH" x="989.1" y="1145.9"/><use href="#cH" x="991.4" y="1144.4"/><use href="#cH" x="993.6" y="1142.9"/><use href="#cH" x="995.9" y="1141.2"/><use href="#cH" x="998.1" y="1139.5"/><use href="#cH" x="1000.4" y="1137.7"/><use href="#cH" x="1002.6" y="1135.8"/><use href="#cH" x="1004.9" y="1133.9"/><use href="#cH" x="1007.1" y="1132.0"/><use href="#cH" x="1009.4" y="1130.0"/><use href="#cH" x="1011.6" y="1128.0"/><use href="#cH" x="1013.9" y="1126.1"/><use href="#cH" x="1016.1" y="1124.1"/><use href="#cH" x="1018.4" y="1122.2"/><use href="#cH" x="1020.6" y="1120.3"/><use href="#cH" x="1022.9" y="1118.4"/><use href="#cH" x="1025.1" y="1116.5"/><use href="#cH" x="1027.4" y="1114.6"/><use href="#cH" x="1029.6" y="1112.8"/><use href="#cH" x="1031.9" y="1110.9"/><use href="#cH" x="1034.1" y="1109.0"/><use href="#cH" x="1036.4" y="1107.2"/><use href="#cH" x="1038.6" y="1105.4"/><use href="#cH" x="1040.9" y="1103.5"/><use href="#cH" x="1043.1" y="1101.8"/><use href="#cH" x="1045.4" y="1100.0"/><use href="#cH" x="1047.6" y="1098.2"/><use href="#cH" x="1049.9" y="1096.4"/><use href="#cH" x="1052.1" y="1094.7"/><use href="#cH" x="1054.4" y="1093.0"/><use href="#cH" x="1056.6" y="1091.2"/><use href="#cH" x="1058.9" y="1089.5"/><use href="#cH" x="1061.1" y="1087.8"/><use href="#cH" x="1063.3" y="1086.1"/><use href="#cH" x="1065.6" y="1084.4"/><use href="#cH" x="1067.8" y="1082.6"/><use href="#cH" x="1070.1" y="1080.9"/><use href="#cH" x="1072.3" y="1079.2"/><use href="#cH" x="1074.6" y="1077.5"/><use href="#cH" x="1076.8" y="1075.8"/><use href="#cH" x="1079.1" y="1074.1"/><use href="#cH" x="1081.3" y="1072.4"/><use href="#cH" x="1083.6" y="1070.7"/><use href="#cH" x="1085.8" y="1069.0"/><use href="#cH" x="1088.1" y="1067.3"/><use href="#cH" x="1090.3" y="1065.6"/><use href="#cH" x="1092.6" y="1063.9"/><use href="#cH" x="1094.8" y="1062.2"/><use href="#cH" x="1097.1" y="1060.5"/><use href="#cH" x="1099.3" y="1058.8"/><use href="#cH" x="1101.6" y="1057.1"/><use href="#cH" x="1103.8" y="1055.4"/><use href="#cH" x="1106.1" y="1053.7"/><use href="#cH" x="1108.3" y="1052.0"/><use href="#cH" x="1110.6" y="1050.3"/><use href="#cH" x="1112.8" y="1048.6"/><use href="#cH" x="1115.1" y="1046.9"/><use href="#cH" x="1117.3" y="1045.2"/><use href="#cH" x="1119.6" y="1043.5"/><use href="#cH" x="1121.8" y="1041.8"/><use href="#cH" x="1124.1" y="1040.1"/><use href="#cH" x="1126.3" y="1038.5"/><use href="#cH" x="1128.6" y="1036.8"/><use href="#cH" x="1130.8" y="1035.1"/><use href="#cH" x="1133.1" y="1033.4"/><use href="#cH" x="1135.3" y="1031.8"/><use href="#cH" x="1137.6" y="1030.1"/><use href="#cH" x="1139.8" y="1028.4"/><use href="#cH" x="1142.1" y="1026.8"/><use href="#cH" x="1144.3" y="1025.1"/><use href="#cH" x="1146.6" y="1023.5"/><use href="#cH" x="1148.8" y="1021.8"/><use href="#cH" x="1151.1" y="1020.2"/><use href="#cH" x="1153.3" y="1018.6"/><use href="#cH" x="1155.6" y="1016.9"/><use href="#cH" x="1157.8" y="1015.3"/><use href="#cH" x="1160.1" y="1013.7"/><use href="#cH" x="1162.3" y="1012.2"/><use href="#cH" x="1164.6" y="1010.6"/><use href="#cH" x="1166.8" y="1009.0"/><use href="#cH" x="1169.1" y="1007.4"/><use href="#cH" x="1171.3" y="1005.9"/><use href="#cH" x="1173.6" y="1004.3"/><use href="#cH" x="1175.8" y="1002.7"/><use href="#cH" x="1178.0" y="1001.1"/><use href="#cH" x="1180.3" y="999.6"/><use href="#cH" x="1182.5" y="998.0"/><use href="#cH" x="1184.8" y="996.4"/><use href="#cH" x="1187.0" y="994.8"/><use href="#cH" x="1189.3" y="993.2"/><use href="#cH" x="1191.5" y="991.6"/><use href="#cH" x="1193.8" y="989.9"/><use href="#cH" x="1196.0" y="988.3"/><use href="#cH" x="1198.3" y="986.6"/><use href="#cH" x="1200.5" y="984.9"/><use href="#cH" x="1202.8" y="983.2"/><use href="#cH" x="1205.0" y="981.5"/><use href="#cH" x="1207.3" y="979.7"/><use href="#cH" x="1209.5" y="977.9"/><use href="#cH" x="1211.8" y="976.1"/><use href="#cH" x="1214.0" y="974.3"/><use href="#cH" x="1216.3" y="972.4"/><use href="#cH" x="1218.5" y="970.6"/><use href="#cH" x="1220.8" y="968.8"/><use href="#cH" x="1223.0" y="967.0"/><use href="#cH" x="1225.3" y="965.3"/><use href="#cH" x="1227.5" y="963.5"/><use href="#cH" x="1229.8" y="961.8"/><use href="#cH" x="1232.0" y="960.2"/><use href="#cH" x="1234.3" y="958.6"/><use href="#cH" x="1236.5" y="957.0"/><use href="#cH" x="1238.8" y="955.5"/><use href="#cH" x="1241.0" y="954.0"/><use href="#cH" x="1243.3" y="952.4"/><use href="#cH" x="1245.5" y="950.9"/><use href="#cH" x="1247.8" y="949.4"/><use href="#cH" x="1250.0" y="947.9"/><use href="#cH" x="1252.3" y="946.3"/><use href="#cH" x="1254.5" y="944.7"/><use href="#cH" x="1256.8" y="943.2"/><use href="#cH" x="1259.0" y="941.6"/><use href="#cH" x="1261.3" y="940.1"/><use href="#cH" x="1263.5" y="938.5"/><use href="#cH" x="1265.8" y="936.9"/><use href="#cH" x="1268.0" y="935.4"/><use href="#cH" x="1270.3" y="933.8"/><use href="#cH" x="1272.5" y="932.2"/><use href="#cH" x="1274.8" y="930.7"/><use href="#cH" x="1277.0" y="929.1"/><use href="#cH" x="1279.3" y="927.5"/><use href="#cH" x="1281.5" y="926.0"/><use href="#cH" x="1283.8" y="924.4"/><use href="#cH" x="1286.0" y="922.8"/><use href="#cH" x="1288.2" y="921.2"/><use href="#cH" x="1290.5" y="919.7"/><use href="#cH" x="1292.7" y="918.1"/><use href="#cH" x="1295.0" y="916.5"/><use href="#cH" x="1297.2" y="914.9"/><use href="#cH" x="1299.5" y="913.3"/><use href="#cH" x="1301.7" y="911.8"/><use href="#cH" x="1304.0" y="910.2"/><use href="#cH" x="1306.2" y="908.6"/><use href="#cH" x="1308.5" y="907.0"/><use href="#cH" x="1310.7" y="905.4"/><use href="#cH" x="1313.0" y="903.8"/><use href="#cH" x="1315.2" y="902.3"/><use href="#cH" x="1317.5" y="900.7"/><use href="#cH" x="1319.7" y="899.1"/><use href="#cH" x="1322.0" y="897.5"/><use href="#cH" x="1324.2" y="895.9"/><use href="#cH" x="1326.5" y="894.3"/><use href="#cH" x="1328.7" y="892.7"/><use href="#cH" x="1331.0" y="891.1"/><use href="#cH" x="1333.2" y="889.6"/><use href="#cH" x="1335.5" y="888.0"/><use href="#cH" x="1337.7" y="886.4"/><use href="#cH" x="1340.0" y="884.8"/><use href="#cH" x="1342.2" y="883.2"/><use href="#cH" x="1344.5" y="881.6"/><use href="#cH" x="1346.7" y="880.0"/><use href="#cH" x="1349.0" y="878.4"/><use href="#cH" x="1351.2" y="876.8"/><use href="#cH" x="1353.5" y="875.3"/><use href="#cH" x="1355.7" y="873.7"/><use href="#cH" x="1358.0" y="872.1"/><use href="#cH" x="1360.2" y="870.5"/><use href="#cH" x="1362.5" y="868.9"/><use href="#cH" x="1364.7" y="867.3"/><use href="#cH" x="1367.0" y="865.7"/><use href="#cH" x="1369.2" y="864.1"/><use href="#cH" x="1371.5" y="862.6"/><use href="#cH" x="1373.7" y="861.0"/><use href="#cH" x="1376.0" y="859.4"/><use href="#cH" x="1378.2" y="857.8"/><use href="#cH" x="1380.5" y="856.2"/><use href="#cH" x="1382.7" y="854.6"/><use href="#cH" x="1385.0" y="853.0"/><use href="#cH" x="1387.2" y="851.5"/><use href="#cH" x="1389.5" y="849.9"/><use href="#cH" x="1391.7" y="848.3"/><use href="#cH" x="1394.0" y="846.7"/><use href="#cH" x="1396.2" y="845.1"/><use href="#cH" x="1398.5" y="843.6"/><use href="#cH" x="1400.7" y="842.0"/><use href="#cH" x="1402.9" y="840.4"/><use href="#cH" x="1405.2" y="838.8"/><use href="#cH" x="1407.4" y="837.3"/><use href="#cH" x="1409.7" y="835.7"/><use href="#cH" x="1411.9" y="834.1"/><use href="#cH" x="1414.2" y="832.5"/><use href="#cH" x="1416.4" y="830.9"/><use href="#cH" x="1418.7" y="829.4"/><use href="#cH" x="1420.9" y="827.8"/><use href="#cH" x="1423.2" y="826.2"/><use href="#cH" x="1425.4" y="824.6"/><use href="#cH" x="1427.7" y="823.1"/><use href="#cH" x="1429.9" y="821.5"/><use href="#cH" x="1432.2" y="819.9"/><use href="#cH" x="1434.4" y="818.3"/><use href="#cH" x="1436.7" y="816.8"/><use href="#cH" x="1438.9" y="815.2"/><use href="#cH" x="1441.2" y="813.6"/><use href="#cH" x="1443.4" y="812.0"/><use href="#cH" x="1445.7" y="810.5"/><use href="#cH" x="1447.9" y="808.9"/><use href="#cH" x="1450.2" y="807.3"/><use href="#cH" x="1452.4" y="805.7"/><use href="#cH" x="1454.7" y="804.2"/><use href="#cH" x="1456.9" y="802.6"/><use href="#cH" x="1459.2" y="801.0"/><use href="#cH" x="1461.4" y="799.4"/><use href="#cH" x="1463.7" y="797.9"/><use href="#cH" x="1465.9" y="796.3"/><use href="#cH" x="1468.2" y="794.7"/><use href="#cH" x="1470.4" y="793.1"/><use href="#cH" x="1472.7" y="791.6"/><use href="#cH" x="1474.9" y="790.0"/><use href="#cH" x="1477.2" y="788.4"/><use href="#cH" x="1479.4" y="786.8"/><use href="#cH" x="1481.7" y="785.3"/><use href="#cH" x="1483.9" y="783.7"/><use href="#cH" x="1486.2" y="782.1"/><use href="#cH" x="1488.4" y="780.5"/><use href="#cH" x="1490.7" y="779.0"/><use href="#cH" x="1492.9" y="777.4"/><use href="#cH" x="1495.2" y="775.8"/><use href="#cH" x="1497.4" y="774.2"/><use href="#cH" x="1499.7" y="772.7"/><use href="#cH" x="1501.9" y="771.1"/><use href="#cH" x="1504.2" y="769.5"/><use href="#cH" x="1506.4" y="767.9"/><use href="#cH" x="1508.7" y="766.4"/><use href="#cH" x="1510.9" y="764.8"/><use href="#cH" x="1513.1" y="763.2"/><use href="#cH" x="1515.4" y="761.6"/><use href="#cH" x="1517.6" y="760.1"/><use href="#cH" x="1519.9" y="758.5"/><use href="#cH" x="1522.1" y="756.9"/><use href="#cH" x="1524.4" y="755.3"/><use href="#cH" x="1526.6" y="753.8"/><use href="#cH" x="1528.9" y="752.2"/><use href="#cH" x="1531.1" y="750.6"/><use href="#cH" x="1533.4" y="749.0"/><use href="#cH" x="1535.6" y="747.5"/><use href="#cH" x="1537.9" y="745.9"/><use href="#cH" x="1540.1" y="744.3"/><use href="#cH" x="1542.4" y="742.8"/><use href="#cH" x="1544.6" y="741.2"/><use href="#cH" x="1546.9" y="739.6"/><use href="#cH" x="1549.1" y="738.0"/><use href="#cH" x="1551.4" y="736.5"/><use href="#cH" x="1553.6" y="734.9"/><use href="#cH" x="1555.9" y="733.3"/><use href="#cH" x="1558.1" y="731.7"/><use href="#cH" x="1560.4" y="730.2"/><use href="#cH" x="1562.6" y="728.6"/><use href="#cH" x="1564.9" y="727.0"/><use href="#cH" x="1567.1" y="725.5"/><use href="#cH" x="1569.4" y="723.9"/><use href="#cH" x="1571.6" y="722.3"/><use href="#cH" x="1573.9" y="720.7"/><use href="#cH" x="1576.1" y="719.2"/><use href="#cH" x="1578.4" y="717.6"/><use href="#cH" x="1580.6" y="716.0"/><use href="#cH" x="1582.9" y="714.5"/><use href="#cH" x="1585.1" y="712.9"/><use href="#cH" x="1587.4" y="711.3"/><use href="#cH" x="1589.6" y="709.7"/><use href="#cH" x="1591.9" y="708.2"/><use href="#cH" x="1594.1" y="706.6"/><use href="#cH" x="1596.4" y="705.0"/><use href="#cH" x="1598.6" y="703.5"/><use href="#cH" x="1600.9" y="701.9"/><use href="#cH" x="1603.1" y="700.3"/><use href="#cH" x="1605.4" y="698.7"/><use href="#cH" x="1607.6" y="697.2"/><use href="#cH" x="1609.9" y="695.6"/><use href="#cH" x="1612.1" y="694.0"/><use href="#cH" x="1614.4" y="692.5"/><use href="#cH" x="1616.6" y="690.9"/><use href="#cH" x="1618.9" y="689.3"/><use href="#cH" x="1621.1" y="687.8"/><use href="#cH" x="1623.4" y="686.2"/><use href="#cH" x="1625.6" y="684.6"/></g><path d="M1248.9 948.5L1622.9 691.4" stroke="#000" stroke-width="3.6" stroke-linecap="round"/><path d="M1003.8 1125.4L1247.2 948.5" stroke="#000" stroke-width="1.8" stroke-dasharray="0 4.6" stroke-linecap="round"/></g><g transform="translate(1425.5 913.9) scale(1.53)" fill="#f00"><use href="#cS"/></g><text x="1456.6" y="921.2" font-size="27.2">0.1 kOe</text><g transform="translate(1425.5 947.0) scale(1.55)" fill="#00f"><use href="#cC"/></g><text x="1456.6" y="954.3" font-size="27.2">0.3 kOe</text><g transform="translate(1425.5 980.1) scale(1.55)" fill="#008000"><use href="#cT"/></g><text x="1456.6" y="987.4" font-size="27.2">0.5 kOe</text><g transform="translate(1425.5 1013.2) scale(1.62)" fill="#800000"><use href="#cD"/></g><text x="1456.6" y="1020.5" font-size="27.2">0.7 kOe</text><g transform="translate(1425.5 1046.3) scale(1.55)" fill="#f0f"><use href="#cV"/></g><text x="1456.6" y="1053.6" font-size="27.2">1 kOe</text><g transform="translate(1425.5 1079.4) scale(1.5)" fill="#ff8000"><use href="#cH"/></g><text x="1456.6" y="1086.7" font-size="27.2">5 kOe</text></svg></body></html>
